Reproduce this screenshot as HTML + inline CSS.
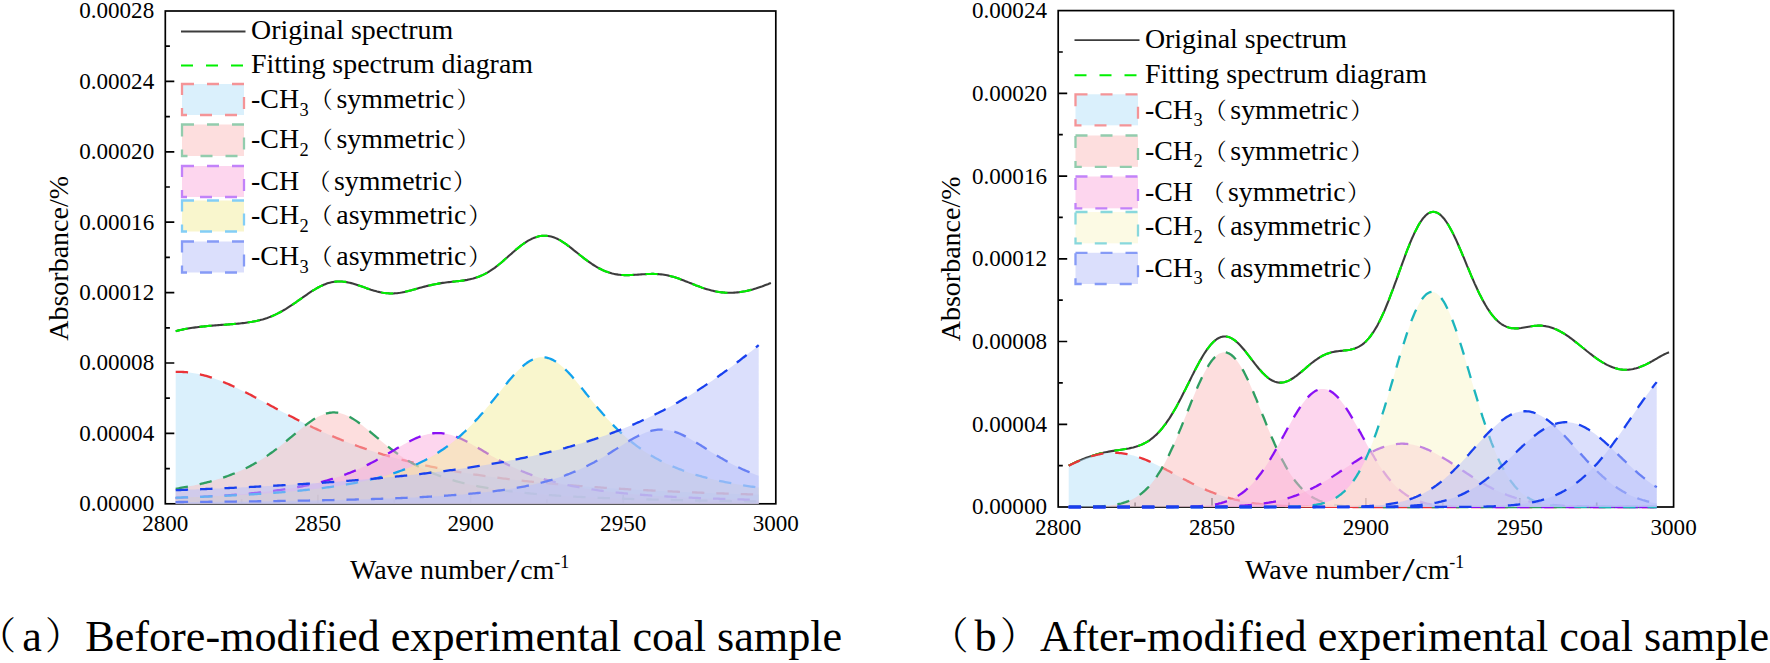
<!DOCTYPE html>
<html lang="en">
<head>
<meta charset="utf-8">
<title>FTIR peak fitting of coal samples</title>
<style>
html,body{margin:0;padding:0;background:#fff;}
body{width:1770px;height:663px;overflow:hidden;}
svg{display:block;}
</style>
</head>
<body>
<svg width="1770" height="663" viewBox="0 0 1770 663" font-family='"Liberation Serif", "Noto Serif CJK SC", serif' fill="#000">
<rect width="1770" height="663" fill="#fff"/>
<g id="chart-a"><g stroke="#000" stroke-width="1.7" fill="none" stroke-linecap="butt">
<rect x="165.3" y="11" width="610.5" height="492.8"/>
<path d="M165.3 468.6h4.6M165.3 433.4h9M165.3 398.2h4.6M165.3 363h9M165.3 327.8h4.6M165.3 292.6h9M165.3 257.4h4.6M165.3 222.2h9M165.3 187h4.6M165.3 151.8h9M165.3 116.6h4.6M165.3 81.4h9M165.3 46.2h4.6M241.6 503.8v-4.6M317.9 503.8v-9M394.2 503.8v-4.6M470.6 503.8v-9M546.9 503.8v-4.6M623.2 503.8v-9M699.5 503.8v-4.6"/>
</g>
<g font-size="23.1" fill="#000">
<text x="154.2" y="511.2" text-anchor="end">0.00000</text>
<text x="154.2" y="440.8" text-anchor="end">0.00004</text>
<text x="154.2" y="370.4" text-anchor="end">0.00008</text>
<text x="154.2" y="300" text-anchor="end">0.00012</text>
<text x="154.2" y="229.6" text-anchor="end">0.00016</text>
<text x="154.2" y="159.2" text-anchor="end">0.00020</text>
<text x="154.2" y="88.8" text-anchor="end">0.00024</text>
<text x="154.2" y="18.4" text-anchor="end">0.00028</text>
<text x="165.3" y="531" text-anchor="middle">2800</text>
<text x="317.9" y="531" text-anchor="middle">2850</text>
<text x="470.6" y="531" text-anchor="middle">2900</text>
<text x="623.2" y="531" text-anchor="middle">2950</text>
<text x="775.8" y="531" text-anchor="middle">3000</text>
</g>
<text transform="translate(67.7 258.4) rotate(-90)" text-anchor="middle" font-size="28">Absorbance/%</text>
<g font-size="28">
<text x="350" y="579.4">Wave number</text>
<text transform="translate(507.1 581.5) scale(1.3 1)" font-size="34.5">/</text>
<text x="520.2" y="579.4">cm</text>
<text x="554.2" y="567.9" font-size="17.9">-1</text>
</g>
<path d="M175.7 331.15L177.2 330.76L178.7 330.38L180.3 330.03L181.8 329.70L183.3 329.38L184.8 329.09L186.4 328.81L187.9 328.54L189.4 328.29L190.9 328.05L192.5 327.83L194 327.61L195.5 327.40L197 327.20L198.6 327.02L200.1 326.84L201.6 326.66L203.2 326.50L204.7 326.34L206.2 326.18L207.7 326.03L209.3 325.89L210.8 325.75L212.3 325.61L213.8 325.48L215.4 325.35L216.9 325.23L218.4 325.12L219.9 325.01L221.5 324.90L223 324.80L224.5 324.70L226 324.59L227.6 324.49L229.1 324.38L230.6 324.27L232.1 324.16L233.7 324.04L235.2 323.92L236.7 323.78L238.3 323.64L239.8 323.49L241.3 323.32L242.8 323.15L244.4 322.96L245.9 322.77L247.4 322.55L248.9 322.33L250.5 322.08L252 321.83L253.5 321.54L255 321.25L256.6 320.92L258.1 320.58L259.6 320.21L261.1 319.82L262.7 319.40L264.2 318.94L265.7 318.46L267.3 317.94L268.8 317.38L270.3 316.80L271.8 316.18L273.4 315.52L274.9 314.84L276.4 314.11L277.9 313.36L279.5 312.56L281 311.74L282.5 310.88L284 309.99L285.6 309.07L287.1 308.13L288.6 307.16L290.1 306.17L291.7 305.16L293.2 304.13L294.7 303.09L296.3 302.02L297.8 300.95L299.3 299.88L300.8 298.80L302.4 297.72L303.9 296.65L305.4 295.58L306.9 294.52L308.5 293.48L310 292.46L311.5 291.46L313 290.49L314.6 289.55L316.1 288.65L317.6 287.78L319.1 286.96L320.7 286.18L322.2 285.45L323.7 284.78L325.3 284.16L326.8 283.60L328.3 283.11L329.8 282.67L331.4 282.30L332.9 281.99L334.4 281.75L335.9 281.58L337.5 281.48L339 281.43L340.5 281.45L342 281.54L343.6 281.68L345.1 281.87L346.6 282.12L348.1 282.41L349.7 282.75L351.2 283.13L352.7 283.54L354.2 283.99L355.8 284.46L357.3 284.96L358.8 285.47L360.4 286.00L361.9 286.53L363.4 287.07L364.9 287.62L366.5 288.15L368 288.68L369.5 289.20L371 289.70L372.6 290.19L374.1 290.65L375.6 291.08L377.1 291.49L378.7 291.86L380.2 292.19L381.7 292.49L383.2 292.75L384.8 292.97L386.3 293.15L387.8 293.29L389.4 293.39L390.9 293.44L392.4 293.44L393.9 293.40L395.5 293.31L397 293.18L398.5 293.00L400 292.80L401.6 292.55L403.1 292.26L404.6 291.94L406.1 291.60L407.7 291.21L409.2 290.81L410.7 290.40L412.2 289.97L413.8 289.55L415.3 289.12L416.8 288.69L418.4 288.26L419.9 287.85L421.4 287.43L422.9 287.02L424.5 286.62L426 286.24L427.5 285.87L429 285.52L430.6 285.18L432.1 284.85L433.6 284.53L435.1 284.22L436.7 283.92L438.2 283.64L439.7 283.38L441.2 283.13L442.8 282.90L444.3 282.68L445.8 282.48L447.4 282.29L448.9 282.11L450.4 281.94L451.9 281.78L453.5 281.62L455 281.47L456.5 281.32L458 281.16L459.6 280.99L461.1 280.81L462.6 280.60L464.1 280.38L465.7 280.12L467.2 279.85L468.7 279.54L470.2 279.20L471.8 278.83L473.3 278.42L474.8 277.97L476.3 277.49L477.9 276.97L479.4 276.40L480.9 275.80L482.5 275.12L484 274.41L485.5 273.62L487 272.80L488.6 271.90L490.1 270.97L491.6 269.97L493.1 268.93L494.7 267.84L496.2 266.70L497.7 265.51L499.2 264.29L500.8 263.02L502.3 261.72L503.8 260.39L505.3 259.05L506.9 257.70L508.4 256.34L509.9 254.98L511.5 253.62L513 252.27L514.5 250.94L516 249.63L517.6 248.35L519.1 247.10L520.6 245.90L522.1 244.74L523.7 243.63L525.2 242.59L526.7 241.61L528.2 240.69L529.8 239.84L531.3 239.06L532.8 238.36L534.3 237.73L535.9 237.18L537.4 236.72L538.9 236.34L540.5 236.06L542 235.86L543.5 235.75L545 235.72L546.6 235.79L548.1 235.95L549.6 236.20L551.1 236.53L552.7 236.96L554.2 237.49L555.7 238.10L557.2 238.80L558.8 239.58L560.3 240.43L561.8 241.34L563.3 242.32L564.9 243.35L566.4 244.43L567.9 245.55L569.5 246.71L571 247.90L572.5 249.12L574 250.35L575.6 251.58L577.1 252.81L578.6 254.04L580.1 255.26L581.7 256.46L583.2 257.65L584.7 258.82L586.2 259.96L587.8 261.08L589.3 262.17L590.8 263.23L592.3 264.25L593.9 265.23L595.4 266.18L596.9 267.08L598.4 267.95L600 268.76L601.5 269.53L603 270.24L604.6 270.91L606.1 271.52L607.6 272.08L609.1 272.60L610.7 273.06L612.2 273.47L613.7 273.83L615.2 274.14L616.8 274.41L618.3 274.63L619.8 274.80L621.3 274.94L622.9 275.04L624.4 275.10L625.9 275.14L627.4 275.14L629 275.11L630.5 275.07L632 275.00L633.6 274.91L635.1 274.82L636.6 274.72L638.1 274.61L639.7 274.50L641.2 274.39L642.7 274.28L644.2 274.19L645.8 274.10L647.3 274.03L648.8 273.97L650.3 273.93L651.9 273.92L653.4 273.92L654.9 273.95L656.4 274.01L658 274.10L659.5 274.22L661 274.36L662.6 274.55L664.1 274.77L665.6 275.03L667.1 275.32L668.7 275.65L670.2 276.01L671.7 276.41L673.2 276.84L674.8 277.30L676.3 277.79L677.8 278.30L679.3 278.84L680.9 279.40L682.4 279.97L683.9 280.56L685.4 281.16L687 281.76L688.5 282.37L690 282.98L691.6 283.60L693.1 284.20L694.6 284.81L696.1 285.41L697.7 285.99L699.2 286.56L700.7 287.12L702.2 287.66L703.8 288.18L705.3 288.68L706.8 289.15L708.3 289.60L709.9 290.03L711.4 290.42L712.9 290.79L714.4 291.13L716 291.43L717.5 291.71L719 291.96L720.5 292.17L722.1 292.36L723.6 292.51L725.1 292.63L726.7 292.71L728.2 292.77L729.7 292.79L731.2 292.77L732.8 292.73L734.3 292.65L735.8 292.55L737.3 292.41L738.9 292.25L740.4 292.05L741.9 291.82L743.4 291.57L745 291.29L746.5 290.98L748 290.64L749.5 290.28L751.1 289.88L752.6 289.47L754.1 289.02L755.7 288.56L757.2 288.08L758.7 287.57L760.2 287.04L761.8 286.49L763.3 285.93L764.8 285.35L766.3 284.76L767.9 284.17L769.4 283.56L770.9 282.96" fill="none" stroke="#3c3c3c" stroke-width="2.1" stroke-linejoin="round"/>
<path d="M175.7 331.15L177.2 330.76L178.7 330.38L180.3 330.03L181.8 329.70L183.3 329.38L184.8 329.09L186.4 328.81L187.9 328.54L189.4 328.29L190.9 328.05L192.5 327.83L194 327.61L195.5 327.40L197 327.20L198.6 327.02L200.1 326.84L201.6 326.66L203.2 326.50L204.7 326.34L206.2 326.18L207.7 326.03L209.3 325.89L210.8 325.75L212.3 325.61L213.8 325.48L215.4 325.35L216.9 325.23L218.4 325.12L219.9 325.01L221.5 324.90L223 324.80L224.5 324.70L226 324.59L227.6 324.49L229.1 324.38L230.6 324.27L232.1 324.16L233.7 324.04L235.2 323.92L236.7 323.78L238.3 323.64L239.8 323.49L241.3 323.32L242.8 323.15L244.4 322.96L245.9 322.77L247.4 322.55L248.9 322.33L250.5 322.08L252 321.83L253.5 321.54L255 321.25L256.6 320.92L258.1 320.58L259.6 320.21L261.1 319.82L262.7 319.40L264.2 318.94L265.7 318.46L267.3 317.94L268.8 317.38L270.3 316.80L271.8 316.18L273.4 315.52L274.9 314.84L276.4 314.11L277.9 313.36L279.5 312.56L281 311.74L282.5 310.88L284 309.99L285.6 309.07L287.1 308.13L288.6 307.16L290.1 306.17L291.7 305.16L293.2 304.13L294.7 303.09L296.3 302.02L297.8 300.95L299.3 299.88L300.8 298.80L302.4 297.72L303.9 296.65L305.4 295.58L306.9 294.52L308.5 293.48L310 292.46L311.5 291.46L313 290.49L314.6 289.55L316.1 288.65L317.6 287.78L319.1 286.96L320.7 286.18L322.2 285.45L323.7 284.78L325.3 284.16L326.8 283.60L328.3 283.11L329.8 282.67L331.4 282.30L332.9 281.99L334.4 281.75L335.9 281.58L337.5 281.48L339 281.43L340.5 281.45L342 281.54L343.6 281.68L345.1 281.87L346.6 282.12L348.1 282.41L349.7 282.75L351.2 283.13L352.7 283.54L354.2 283.99L355.8 284.46L357.3 284.96L358.8 285.47L360.4 286.00L361.9 286.53L363.4 287.07L364.9 287.62L366.5 288.15L368 288.68L369.5 289.20L371 289.70L372.6 290.19L374.1 290.65L375.6 291.08L377.1 291.49L378.7 291.86L380.2 292.19L381.7 292.49L383.2 292.75L384.8 292.97L386.3 293.15L387.8 293.29L389.4 293.39L390.9 293.44L392.4 293.44L393.9 293.40L395.5 293.31L397 293.18L398.5 293.00L400 292.80L401.6 292.55L403.1 292.26L404.6 291.94L406.1 291.60L407.7 291.21L409.2 290.81L410.7 290.40L412.2 289.97L413.8 289.55L415.3 289.12L416.8 288.69L418.4 288.26L419.9 287.85L421.4 287.43L422.9 287.02L424.5 286.62L426 286.24L427.5 285.87L429 285.52L430.6 285.18L432.1 284.85L433.6 284.53L435.1 284.22L436.7 283.92L438.2 283.64L439.7 283.38L441.2 283.13L442.8 282.90L444.3 282.68L445.8 282.48L447.4 282.29L448.9 282.11L450.4 281.94L451.9 281.78L453.5 281.62L455 281.47L456.5 281.32L458 281.16L459.6 280.99L461.1 280.81L462.6 280.60L464.1 280.38L465.7 280.12L467.2 279.85L468.7 279.54L470.2 279.20L471.8 278.83L473.3 278.42L474.8 277.97L476.3 277.49L477.9 276.97L479.4 276.40L480.9 275.80L482.5 275.12L484 274.41L485.5 273.62L487 272.80L488.6 271.90L490.1 270.97L491.6 269.97L493.1 268.93L494.7 267.84L496.2 266.70L497.7 265.51L499.2 264.29L500.8 263.02L502.3 261.72L503.8 260.39L505.3 259.05L506.9 257.70L508.4 256.34L509.9 254.98L511.5 253.62L513 252.27L514.5 250.94L516 249.63L517.6 248.35L519.1 247.10L520.6 245.90L522.1 244.74L523.7 243.63L525.2 242.59L526.7 241.61L528.2 240.69L529.8 239.84L531.3 239.06L532.8 238.36L534.3 237.73L535.9 237.18L537.4 236.72L538.9 236.34L540.5 236.06L542 235.86L543.5 235.75L545 235.72L546.6 235.79L548.1 235.95L549.6 236.20L551.1 236.53L552.7 236.96L554.2 237.49L555.7 238.10L557.2 238.80L558.8 239.58L560.3 240.43L561.8 241.34L563.3 242.32L564.9 243.35L566.4 244.43L567.9 245.55L569.5 246.71L571 247.90L572.5 249.12L574 250.35L575.6 251.58L577.1 252.81L578.6 254.04L580.1 255.26L581.7 256.46L583.2 257.65L584.7 258.82L586.2 259.96L587.8 261.08L589.3 262.17L590.8 263.23L592.3 264.25L593.9 265.23L595.4 266.18L596.9 267.08L598.4 267.95L600 268.76L601.5 269.53L603 270.24L604.6 270.91L606.1 271.52L607.6 272.08L609.1 272.60L610.7 273.06L612.2 273.47L613.7 273.83L615.2 274.14L616.8 274.41L618.3 274.63L619.8 274.80L621.3 274.94L622.9 275.04L624.4 275.10L625.9 275.14L627.4 275.14L629 275.11L630.5 275.07L632 275.00L633.6 274.91L635.1 274.82L636.6 274.72L638.1 274.61L639.7 274.50L641.2 274.39L642.7 274.28L644.2 274.19L645.8 274.10L647.3 274.03L648.8 273.97L650.3 273.93L651.9 273.92L653.4 273.92L654.9 273.95L656.4 274.01L658 274.10L659.5 274.22L661 274.36L662.6 274.55L664.1 274.77L665.6 275.03L667.1 275.32L668.7 275.65L670.2 276.01L671.7 276.41L673.2 276.84L674.8 277.30L676.3 277.79L677.8 278.30L679.3 278.84L680.9 279.40L682.4 279.97L683.9 280.56L685.4 281.16L687 281.76L688.5 282.37L690 282.98L691.6 283.60L693.1 284.20L694.6 284.81L696.1 285.41L697.7 285.99L699.2 286.56L700.7 287.12L702.2 287.66L703.8 288.18L705.3 288.68L706.8 289.15L708.3 289.60L709.9 290.03L711.4 290.42L712.9 290.79L714.4 291.13L716 291.43L717.5 291.71L719 291.96L720.5 292.17L722.1 292.36L723.6 292.51L725.1 292.63L726.7 292.71L728.2 292.77L729.7 292.79L731.2 292.77L732.8 292.73L734.3 292.65L735.8 292.55L737.3 292.41L738.9 292.25L740.4 292.05L741.9 291.82L743.4 291.57L745 291.29L746.5 290.98L748 290.64L749.5 290.28L751.1 289.88L752.6 289.47L754.1 289.02L755.7 288.56L757.2 288.08L758.7 287.57" fill="none" stroke="#00f000" stroke-width="2.1" stroke-dasharray="12.2 12" stroke-linejoin="round"/>
<path d="M175.7 503.8L175.7 371.82L177.2 371.80L178.7 371.81L180.3 371.84L181.8 371.90L183.3 371.98L184.8 372.08L186.4 372.21L187.9 372.36L189.4 372.54L190.9 372.74L192.5 372.96L194 373.21L195.5 373.48L197 373.77L198.6 374.08L200.1 374.42L201.6 374.78L203.2 375.16L204.7 375.56L206.2 375.98L207.7 376.42L209.3 376.88L210.8 377.36L212.3 377.85L213.8 378.37L215.4 378.90L216.9 379.45L218.4 380.02L219.9 380.60L221.5 381.20L223 381.82L224.5 382.44L226 383.09L227.6 383.74L229.1 384.41L230.6 385.09L232.1 385.78L233.7 386.49L235.2 387.20L236.7 387.93L238.3 388.66L239.8 389.41L241.3 390.16L242.8 390.92L244.4 391.69L245.9 392.46L247.4 393.24L248.9 394.03L250.5 394.82L252 395.62L253.5 396.42L255 397.23L256.6 398.04L258.1 398.85L259.6 399.67L261.1 400.49L262.7 401.31L264.2 402.13L265.7 402.95L267.3 403.77L268.8 404.60L270.3 405.42L271.8 406.25L273.4 407.07L274.9 407.89L276.4 408.71L277.9 409.53L279.5 410.35L281 411.17L282.5 411.98L284 412.79L285.6 413.60L287.1 414.41L288.6 415.21L290.1 416.01L291.7 416.80L293.2 417.59L294.7 418.38L296.3 419.16L297.8 419.94L299.3 420.72L300.8 421.49L302.4 422.25L303.9 423.01L305.4 423.76L306.9 424.51L308.5 425.26L310 426.00L311.5 426.73L313 427.46L314.6 428.18L316.1 428.90L317.6 429.61L319.1 430.31L320.7 431.01L322.2 431.70L323.7 432.39L325.3 433.07L326.8 433.75L328.3 434.42L329.8 435.08L331.4 435.74L332.9 436.39L334.4 437.03L335.9 437.67L337.5 438.31L339 438.93L340.5 439.55L342 440.17L343.6 440.78L345.1 441.38L346.6 441.97L348.1 442.56L349.7 443.15L351.2 443.73L352.7 444.30L354.2 444.87L355.8 445.43L357.3 445.98L358.8 446.53L360.4 447.07L361.9 447.61L363.4 448.14L364.9 448.67L366.5 449.19L368 449.70L369.5 450.21L371 450.71L372.6 451.21L374.1 451.70L375.6 452.19L377.1 452.67L378.7 453.15L380.2 453.62L381.7 454.09L383.2 454.55L384.8 455.00L386.3 455.45L387.8 455.90L389.4 456.34L390.9 456.77L392.4 457.20L393.9 457.63L395.5 458.05L397 458.47L398.5 458.88L400 459.29L401.6 459.69L403.1 460.09L404.6 460.48L406.1 460.87L407.7 461.25L409.2 461.63L410.7 462.01L412.2 462.38L413.8 462.75L415.3 463.11L416.8 463.47L418.4 463.83L419.9 464.18L421.4 464.53L422.9 464.87L424.5 465.21L426 465.54L427.5 465.88L429 466.20L430.6 466.53L432.1 466.85L433.6 467.17L435.1 467.48L436.7 467.79L438.2 468.10L439.7 468.40L441.2 468.70L442.8 469.00L444.3 469.29L445.8 469.58L447.4 469.87L448.9 470.15L450.4 470.43L451.9 470.71L453.5 470.98L455 471.25L456.5 471.52L458 471.79L459.6 472.05L461.1 472.31L462.6 472.57L464.1 472.82L465.7 473.07L467.2 473.32L468.7 473.57L470.2 473.81L471.8 474.05L473.3 474.29L474.8 474.52L476.3 474.75L477.9 474.98L479.4 475.21L480.9 475.44L482.5 475.66L484 475.88L485.5 476.10L487 476.31L488.6 476.53L490.1 476.74L491.6 476.95L493.1 477.15L494.7 477.36L496.2 477.56L497.7 477.76L499.2 477.96L500.8 478.16L502.3 478.35L503.8 478.54L505.3 478.73L506.9 478.92L508.4 479.11L509.9 479.29L511.5 479.47L513 479.65L514.5 479.83L516 480.01L517.6 480.18L519.1 480.36L520.6 480.53L522.1 480.70L523.7 480.87L525.2 481.03L526.7 481.20L528.2 481.36L529.8 481.52L531.3 481.68L532.8 481.84L534.3 482.00L535.9 482.15L537.4 482.30L538.9 482.46L540.5 482.61L542 482.76L543.5 482.90L545 483.05L546.6 483.19L548.1 483.34L549.6 483.48L551.1 483.62L552.7 483.76L554.2 483.89L555.7 484.03L557.2 484.17L558.8 484.30L560.3 484.43L561.8 484.56L563.3 484.69L564.9 484.82L566.4 484.95L567.9 485.08L569.5 485.20L571 485.32L572.5 485.45L574 485.57L575.6 485.69L577.1 485.81L578.6 485.93L580.1 486.04L581.7 486.16L583.2 486.27L584.7 486.39L586.2 486.50L587.8 486.61L589.3 486.72L590.8 486.83L592.3 486.94L593.9 487.05L595.4 487.16L596.9 487.26L598.4 487.37L600 487.47L601.5 487.57L603 487.68L604.6 487.78L606.1 487.88L607.6 487.98L609.1 488.07L610.7 488.17L612.2 488.27L613.7 488.36L615.2 488.46L616.8 488.55L618.3 488.65L619.8 488.74L621.3 488.83L622.9 488.92L624.4 489.01L625.9 489.10L627.4 489.19L629 489.28L630.5 489.36L632 489.45L633.6 489.54L635.1 489.62L636.6 489.71L638.1 489.79L639.7 489.87L641.2 489.95L642.7 490.03L644.2 490.12L645.8 490.20L647.3 490.27L648.8 490.35L650.3 490.43L651.9 490.51L653.4 490.58L654.9 490.66L656.4 490.74L658 490.81L659.5 490.88L661 490.96L662.6 491.03L664.1 491.10L665.6 491.18L667.1 491.25L668.7 491.32L670.2 491.39L671.7 491.46L673.2 491.53L674.8 491.59L676.3 491.66L677.8 491.73L679.3 491.79L680.9 491.86L682.4 491.93L683.9 491.99L685.4 492.06L687 492.12L688.5 492.18L690 492.25L691.6 492.31L693.1 492.37L694.6 492.43L696.1 492.49L697.7 492.55L699.2 492.61L700.7 492.67L702.2 492.73L703.8 492.79L705.3 492.85L706.8 492.91L708.3 492.97L709.9 493.02L711.4 493.08L712.9 493.14L714.4 493.19L716 493.25L717.5 493.30L719 493.36L720.5 493.41L722.1 493.46L723.6 493.52L725.1 493.57L726.7 493.62L728.2 493.67L729.7 493.73L731.2 493.78L732.8 493.83L734.3 493.88L735.8 493.93L737.3 493.98L738.9 494.03L740.4 494.08L741.9 494.13L743.4 494.17L745 494.22L746.5 494.27L748 494.32L749.5 494.36L751.1 494.41L752.6 494.46L754.1 494.50L755.7 494.55L757.2 494.59L758.7 494.64L758.7 503.8Z" fill="rgb(181,225,249)" fill-opacity="0.5" stroke="none"/>
<path d="M175.7 371.82L177.2 371.80L178.7 371.81L180.3 371.84L181.8 371.90L183.3 371.98L184.8 372.08L186.4 372.21L187.9 372.36L189.4 372.54L190.9 372.74L192.5 372.96L194 373.21L195.5 373.48L197 373.77L198.6 374.08L200.1 374.42L201.6 374.78L203.2 375.16L204.7 375.56L206.2 375.98L207.7 376.42L209.3 376.88L210.8 377.36L212.3 377.85L213.8 378.37L215.4 378.90L216.9 379.45L218.4 380.02L219.9 380.60L221.5 381.20L223 381.82L224.5 382.44L226 383.09L227.6 383.74L229.1 384.41L230.6 385.09L232.1 385.78L233.7 386.49L235.2 387.20L236.7 387.93L238.3 388.66L239.8 389.41L241.3 390.16L242.8 390.92L244.4 391.69L245.9 392.46L247.4 393.24L248.9 394.03L250.5 394.82L252 395.62L253.5 396.42L255 397.23L256.6 398.04L258.1 398.85L259.6 399.67L261.1 400.49L262.7 401.31L264.2 402.13L265.7 402.95L267.3 403.77L268.8 404.60L270.3 405.42L271.8 406.25L273.4 407.07L274.9 407.89L276.4 408.71L277.9 409.53L279.5 410.35L281 411.17L282.5 411.98L284 412.79L285.6 413.60L287.1 414.41L288.6 415.21L290.1 416.01L291.7 416.80L293.2 417.59L294.7 418.38L296.3 419.16L297.8 419.94L299.3 420.72L300.8 421.49L302.4 422.25L303.9 423.01L305.4 423.76L306.9 424.51L308.5 425.26L310 426.00L311.5 426.73L313 427.46L314.6 428.18L316.1 428.90L317.6 429.61L319.1 430.31L320.7 431.01L322.2 431.70L323.7 432.39L325.3 433.07L326.8 433.75L328.3 434.42L329.8 435.08L331.4 435.74L332.9 436.39L334.4 437.03L335.9 437.67L337.5 438.31L339 438.93L340.5 439.55L342 440.17L343.6 440.78L345.1 441.38L346.6 441.97L348.1 442.56L349.7 443.15L351.2 443.73L352.7 444.30L354.2 444.87L355.8 445.43L357.3 445.98L358.8 446.53L360.4 447.07L361.9 447.61L363.4 448.14L364.9 448.67L366.5 449.19L368 449.70L369.5 450.21L371 450.71L372.6 451.21L374.1 451.70L375.6 452.19L377.1 452.67L378.7 453.15L380.2 453.62L381.7 454.09L383.2 454.55L384.8 455.00L386.3 455.45L387.8 455.90L389.4 456.34L390.9 456.77L392.4 457.20L393.9 457.63L395.5 458.05L397 458.47L398.5 458.88L400 459.29L401.6 459.69L403.1 460.09L404.6 460.48L406.1 460.87L407.7 461.25L409.2 461.63L410.7 462.01L412.2 462.38L413.8 462.75L415.3 463.11L416.8 463.47L418.4 463.83L419.9 464.18L421.4 464.53L422.9 464.87L424.5 465.21L426 465.54L427.5 465.88L429 466.20L430.6 466.53L432.1 466.85L433.6 467.17L435.1 467.48L436.7 467.79L438.2 468.10L439.7 468.40L441.2 468.70L442.8 469.00L444.3 469.29L445.8 469.58L447.4 469.87L448.9 470.15L450.4 470.43L451.9 470.71L453.5 470.98L455 471.25L456.5 471.52L458 471.79L459.6 472.05L461.1 472.31L462.6 472.57L464.1 472.82L465.7 473.07L467.2 473.32L468.7 473.57L470.2 473.81L471.8 474.05L473.3 474.29L474.8 474.52L476.3 474.75L477.9 474.98L479.4 475.21L480.9 475.44L482.5 475.66L484 475.88L485.5 476.10L487 476.31L488.6 476.53L490.1 476.74L491.6 476.95L493.1 477.15L494.7 477.36L496.2 477.56L497.7 477.76L499.2 477.96L500.8 478.16L502.3 478.35L503.8 478.54L505.3 478.73L506.9 478.92L508.4 479.11L509.9 479.29L511.5 479.47L513 479.65L514.5 479.83L516 480.01L517.6 480.18L519.1 480.36L520.6 480.53L522.1 480.70L523.7 480.87L525.2 481.03L526.7 481.20L528.2 481.36L529.8 481.52L531.3 481.68L532.8 481.84L534.3 482.00L535.9 482.15L537.4 482.30L538.9 482.46L540.5 482.61L542 482.76L543.5 482.90L545 483.05L546.6 483.19L548.1 483.34L549.6 483.48L551.1 483.62L552.7 483.76L554.2 483.89L555.7 484.03L557.2 484.17L558.8 484.30L560.3 484.43L561.8 484.56L563.3 484.69L564.9 484.82L566.4 484.95L567.9 485.08L569.5 485.20L571 485.32L572.5 485.45L574 485.57L575.6 485.69L577.1 485.81L578.6 485.93L580.1 486.04L581.7 486.16L583.2 486.27L584.7 486.39L586.2 486.50L587.8 486.61L589.3 486.72L590.8 486.83L592.3 486.94L593.9 487.05L595.4 487.16L596.9 487.26L598.4 487.37L600 487.47L601.5 487.57L603 487.68L604.6 487.78L606.1 487.88L607.6 487.98L609.1 488.07L610.7 488.17L612.2 488.27L613.7 488.36L615.2 488.46L616.8 488.55L618.3 488.65L619.8 488.74L621.3 488.83L622.9 488.92L624.4 489.01L625.9 489.10L627.4 489.19L629 489.28L630.5 489.36L632 489.45L633.6 489.54L635.1 489.62L636.6 489.71L638.1 489.79L639.7 489.87L641.2 489.95L642.7 490.03L644.2 490.12L645.8 490.20L647.3 490.27L648.8 490.35L650.3 490.43L651.9 490.51L653.4 490.58L654.9 490.66L656.4 490.74L658 490.81L659.5 490.88L661 490.96L662.6 491.03L664.1 491.10L665.6 491.18L667.1 491.25L668.7 491.32L670.2 491.39L671.7 491.46L673.2 491.53L674.8 491.59L676.3 491.66L677.8 491.73L679.3 491.79L680.9 491.86L682.4 491.93L683.9 491.99L685.4 492.06L687 492.12L688.5 492.18L690 492.25L691.6 492.31L693.1 492.37L694.6 492.43L696.1 492.49L697.7 492.55L699.2 492.61L700.7 492.67L702.2 492.73L703.8 492.79L705.3 492.85L706.8 492.91L708.3 492.97L709.9 493.02L711.4 493.08L712.9 493.14L714.4 493.19L716 493.25L717.5 493.30L719 493.36L720.5 493.41L722.1 493.46L723.6 493.52L725.1 493.57L726.7 493.62L728.2 493.67L729.7 493.73L731.2 493.78L732.8 493.83L734.3 493.88L735.8 493.93L737.3 493.98L738.9 494.03L740.4 494.08L741.9 494.13L743.4 494.17L745 494.22L746.5 494.27L748 494.32L749.5 494.36L751.1 494.41L752.6 494.46L754.1 494.50L755.7 494.55L757.2 494.59L758.7 494.64" fill="none" stroke="#ea3338" stroke-width="2.3" stroke-dasharray="12.4 12" stroke-linejoin="round"/>
<path d="M175.7 503.8L175.7 488.76L177.2 488.51L178.7 488.26L180.3 488.00L181.8 487.74L183.3 487.47L184.8 487.20L186.4 486.92L187.9 486.63L189.4 486.33L190.9 486.03L192.5 485.72L194 485.40L195.5 485.08L197 484.75L198.6 484.41L200.1 484.06L201.6 483.70L203.2 483.33L204.7 482.96L206.2 482.57L207.7 482.18L209.3 481.77L210.8 481.36L212.3 480.93L213.8 480.50L215.4 480.05L216.9 479.59L218.4 479.12L219.9 478.64L221.5 478.14L223 477.63L224.5 477.11L226 476.58L227.6 476.03L229.1 475.47L230.6 474.89L232.1 474.30L233.7 473.69L235.2 473.07L236.7 472.43L238.3 471.77L239.8 471.10L241.3 470.41L242.8 469.70L244.4 468.97L245.9 468.23L247.4 467.47L248.9 466.68L250.5 465.88L252 465.06L253.5 464.22L255 463.35L256.6 462.47L258.1 461.56L259.6 460.64L261.1 459.69L262.7 458.72L264.2 457.73L265.7 456.72L267.3 455.68L268.8 454.63L270.3 453.55L271.8 452.45L273.4 451.34L274.9 450.20L276.4 449.04L277.9 447.87L279.5 446.67L281 445.46L282.5 444.24L284 443.00L285.6 441.74L287.1 440.48L288.6 439.20L290.1 437.92L291.7 436.64L293.2 435.35L294.7 434.06L296.3 432.77L297.8 431.49L299.3 430.22L300.8 428.96L302.4 427.71L303.9 426.49L305.4 425.29L306.9 424.12L308.5 422.98L310 421.88L311.5 420.82L313 419.80L314.6 418.83L316.1 417.92L317.6 417.06L319.1 416.27L320.7 415.54L322.2 414.88L323.7 414.30L325.3 413.79L326.8 413.36L328.3 413.01L329.8 412.75L331.4 412.57L332.9 412.47L334.4 412.46L335.9 412.54L337.5 412.70L339 412.95L340.5 413.28L342 413.70L343.6 414.19L345.1 414.76L346.6 415.40L348.1 416.12L349.7 416.90L351.2 417.74L352.7 418.64L354.2 419.60L355.8 420.61L357.3 421.66L358.8 422.76L360.4 423.89L361.9 425.06L363.4 426.25L364.9 427.47L366.5 428.71L368 429.96L369.5 431.23L371 432.51L372.6 433.80L374.1 435.09L375.6 436.38L377.1 437.66L378.7 438.95L380.2 440.22L381.7 441.49L383.2 442.75L384.8 443.99L386.3 445.22L387.8 446.43L389.4 447.63L390.9 448.81L392.4 449.97L393.9 451.11L395.5 452.23L397 453.33L398.5 454.41L400 455.47L401.6 456.51L403.1 457.53L404.6 458.52L406.1 459.50L407.7 460.45L409.2 461.38L410.7 462.29L412.2 463.18L413.8 464.04L415.3 464.89L416.8 465.72L418.4 466.52L419.9 467.31L421.4 468.08L422.9 468.83L424.5 469.56L426 470.27L427.5 470.96L429 471.64L430.6 472.30L432.1 472.94L433.6 473.57L435.1 474.18L436.7 474.77L438.2 475.35L439.7 475.92L441.2 476.47L442.8 477.01L444.3 477.53L445.8 478.04L447.4 478.54L448.9 479.02L450.4 479.50L451.9 479.96L453.5 480.41L455 480.85L456.5 481.27L458 481.69L459.6 482.10L461.1 482.49L462.6 482.88L464.1 483.26L465.7 483.63L467.2 483.99L468.7 484.34L470.2 484.68L471.8 485.01L473.3 485.34L474.8 485.66L476.3 485.97L477.9 486.27L479.4 486.57L480.9 486.86L482.5 487.14L484 487.42L485.5 487.69L487 487.95L488.6 488.21L490.1 488.46L491.6 488.71L493.1 488.95L494.7 489.19L496.2 489.42L497.7 489.64L499.2 489.86L500.8 490.08L502.3 490.29L503.8 490.49L505.3 490.70L506.9 490.89L508.4 491.09L509.9 491.28L511.5 491.46L513 491.64L514.5 491.82L516 491.99L517.6 492.16L519.1 492.33L520.6 492.50L522.1 492.66L523.7 492.81L525.2 492.97L526.7 493.12L528.2 493.26L529.8 493.41L531.3 493.55L532.8 493.69L534.3 493.83L535.9 493.96L537.4 494.09L538.9 494.22L540.5 494.35L542 494.47L543.5 494.59L545 494.71L546.6 494.83L548.1 494.95L549.6 495.06L551.1 495.17L552.7 495.28L554.2 495.38L555.7 495.49L557.2 495.59L558.8 495.69L560.3 495.79L561.8 495.89L563.3 495.99L564.9 496.08L566.4 496.17L567.9 496.26L569.5 496.35L571 496.44L572.5 496.53L574 496.61L575.6 496.70L577.1 496.78L578.6 496.86L580.1 496.94L581.7 497.02L583.2 497.09L584.7 497.17L586.2 497.24L587.8 497.32L589.3 497.39L590.8 497.46L592.3 497.53L593.9 497.60L595.4 497.66L596.9 497.73L598.4 497.79L600 497.86L601.5 497.92L603 497.98L604.6 498.05L606.1 498.11L607.6 498.16L609.1 498.22L610.7 498.28L612.2 498.34L613.7 498.39L615.2 498.45L616.8 498.50L618.3 498.56L619.8 498.61L621.3 498.66L622.9 498.71L624.4 498.76L625.9 498.81L627.4 498.86L629 498.91L630.5 498.96L632 499.00L633.6 499.05L635.1 499.10L636.6 499.14L638.1 499.18L639.7 499.23L641.2 499.27L642.7 499.31L644.2 499.36L645.8 499.40L647.3 499.44L648.8 499.48L650.3 499.52L651.9 499.56L653.4 499.59L654.9 499.63L656.4 499.67L658 499.71L659.5 499.74L661 499.78L662.6 499.82L664.1 499.85L665.6 499.89L667.1 499.92L668.7 499.95L670.2 499.99L671.7 500.02L673.2 500.05L674.8 500.08L676.3 500.12L677.8 500.15L679.3 500.18L680.9 500.21L682.4 500.24L683.9 500.27L685.4 500.30L687 500.33L688.5 500.36L690 500.38L691.6 500.41L693.1 500.44L694.6 500.47L696.1 500.49L697.7 500.52L699.2 500.55L700.7 500.57L702.2 500.60L703.8 500.62L705.3 500.65L706.8 500.67L708.3 500.70L709.9 500.72L711.4 500.75L712.9 500.77L714.4 500.79L716 500.82L717.5 500.84L719 500.86L720.5 500.89L722.1 500.91L723.6 500.93L725.1 500.95L726.7 500.97L728.2 500.99L729.7 501.02L731.2 501.04L732.8 501.06L734.3 501.08L735.8 501.10L737.3 501.12L738.9 501.14L740.4 501.16L741.9 501.17L743.4 501.19L745 501.21L746.5 501.23L748 501.25L749.5 501.27L751.1 501.29L752.6 501.30L754.1 501.32L755.7 501.34L757.2 501.36L758.7 501.37L758.7 503.8Z" fill="rgb(251,189,189)" fill-opacity="0.5" stroke="none"/>
<path d="M175.7 488.76L177.2 488.51L178.7 488.26L180.3 488.00L181.8 487.74L183.3 487.47L184.8 487.20L186.4 486.92L187.9 486.63L189.4 486.33L190.9 486.03L192.5 485.72L194 485.40L195.5 485.08L197 484.75L198.6 484.41L200.1 484.06L201.6 483.70L203.2 483.33L204.7 482.96L206.2 482.57L207.7 482.18L209.3 481.77L210.8 481.36L212.3 480.93L213.8 480.50L215.4 480.05L216.9 479.59L218.4 479.12L219.9 478.64L221.5 478.14L223 477.63L224.5 477.11L226 476.58L227.6 476.03L229.1 475.47L230.6 474.89L232.1 474.30L233.7 473.69L235.2 473.07L236.7 472.43L238.3 471.77L239.8 471.10L241.3 470.41L242.8 469.70L244.4 468.97L245.9 468.23L247.4 467.47L248.9 466.68L250.5 465.88L252 465.06L253.5 464.22L255 463.35L256.6 462.47L258.1 461.56L259.6 460.64L261.1 459.69L262.7 458.72L264.2 457.73L265.7 456.72L267.3 455.68L268.8 454.63L270.3 453.55L271.8 452.45L273.4 451.34L274.9 450.20L276.4 449.04L277.9 447.87L279.5 446.67L281 445.46L282.5 444.24L284 443.00L285.6 441.74L287.1 440.48L288.6 439.20L290.1 437.92L291.7 436.64L293.2 435.35L294.7 434.06L296.3 432.77L297.8 431.49L299.3 430.22L300.8 428.96L302.4 427.71L303.9 426.49L305.4 425.29L306.9 424.12L308.5 422.98L310 421.88L311.5 420.82L313 419.80L314.6 418.83L316.1 417.92L317.6 417.06L319.1 416.27L320.7 415.54L322.2 414.88L323.7 414.30L325.3 413.79L326.8 413.36L328.3 413.01L329.8 412.75L331.4 412.57L332.9 412.47L334.4 412.46L335.9 412.54L337.5 412.70L339 412.95L340.5 413.28L342 413.70L343.6 414.19L345.1 414.76L346.6 415.40L348.1 416.12L349.7 416.90L351.2 417.74L352.7 418.64L354.2 419.60L355.8 420.61L357.3 421.66L358.8 422.76L360.4 423.89L361.9 425.06L363.4 426.25L364.9 427.47L366.5 428.71L368 429.96L369.5 431.23L371 432.51L372.6 433.80L374.1 435.09L375.6 436.38L377.1 437.66L378.7 438.95L380.2 440.22L381.7 441.49L383.2 442.75L384.8 443.99L386.3 445.22L387.8 446.43L389.4 447.63L390.9 448.81L392.4 449.97L393.9 451.11L395.5 452.23L397 453.33L398.5 454.41L400 455.47L401.6 456.51L403.1 457.53L404.6 458.52L406.1 459.50L407.7 460.45L409.2 461.38L410.7 462.29L412.2 463.18L413.8 464.04L415.3 464.89L416.8 465.72L418.4 466.52L419.9 467.31L421.4 468.08L422.9 468.83L424.5 469.56L426 470.27L427.5 470.96L429 471.64L430.6 472.30L432.1 472.94L433.6 473.57L435.1 474.18L436.7 474.77L438.2 475.35L439.7 475.92L441.2 476.47L442.8 477.01L444.3 477.53L445.8 478.04L447.4 478.54L448.9 479.02L450.4 479.50L451.9 479.96L453.5 480.41L455 480.85L456.5 481.27L458 481.69L459.6 482.10L461.1 482.49L462.6 482.88L464.1 483.26L465.7 483.63L467.2 483.99L468.7 484.34L470.2 484.68L471.8 485.01L473.3 485.34L474.8 485.66L476.3 485.97L477.9 486.27L479.4 486.57L480.9 486.86L482.5 487.14L484 487.42L485.5 487.69L487 487.95L488.6 488.21L490.1 488.46L491.6 488.71L493.1 488.95L494.7 489.19L496.2 489.42L497.7 489.64L499.2 489.86L500.8 490.08L502.3 490.29L503.8 490.49L505.3 490.70L506.9 490.89L508.4 491.09L509.9 491.28L511.5 491.46L513 491.64L514.5 491.82L516 491.99L517.6 492.16L519.1 492.33L520.6 492.50L522.1 492.66L523.7 492.81L525.2 492.97L526.7 493.12L528.2 493.26L529.8 493.41L531.3 493.55L532.8 493.69L534.3 493.83L535.9 493.96L537.4 494.09L538.9 494.22L540.5 494.35L542 494.47L543.5 494.59L545 494.71L546.6 494.83L548.1 494.95L549.6 495.06L551.1 495.17L552.7 495.28L554.2 495.38L555.7 495.49L557.2 495.59L558.8 495.69L560.3 495.79L561.8 495.89L563.3 495.99L564.9 496.08L566.4 496.17L567.9 496.26L569.5 496.35L571 496.44L572.5 496.53L574 496.61L575.6 496.70L577.1 496.78L578.6 496.86L580.1 496.94L581.7 497.02L583.2 497.09L584.7 497.17L586.2 497.24L587.8 497.32L589.3 497.39L590.8 497.46L592.3 497.53L593.9 497.60L595.4 497.66L596.9 497.73L598.4 497.79L600 497.86L601.5 497.92L603 497.98L604.6 498.05L606.1 498.11L607.6 498.16L609.1 498.22L610.7 498.28L612.2 498.34L613.7 498.39L615.2 498.45L616.8 498.50L618.3 498.56L619.8 498.61L621.3 498.66L622.9 498.71L624.4 498.76L625.9 498.81L627.4 498.86L629 498.91L630.5 498.96L632 499.00L633.6 499.05L635.1 499.10L636.6 499.14L638.1 499.18L639.7 499.23L641.2 499.27L642.7 499.31L644.2 499.36L645.8 499.40L647.3 499.44L648.8 499.48L650.3 499.52L651.9 499.56L653.4 499.59L654.9 499.63L656.4 499.67L658 499.71L659.5 499.74L661 499.78L662.6 499.82L664.1 499.85L665.6 499.89L667.1 499.92L668.7 499.95L670.2 499.99L671.7 500.02L673.2 500.05L674.8 500.08L676.3 500.12L677.8 500.15L679.3 500.18L680.9 500.21L682.4 500.24L683.9 500.27L685.4 500.30L687 500.33L688.5 500.36L690 500.38L691.6 500.41L693.1 500.44L694.6 500.47L696.1 500.49L697.7 500.52L699.2 500.55L700.7 500.57L702.2 500.60L703.8 500.62L705.3 500.65L706.8 500.67L708.3 500.70L709.9 500.72L711.4 500.75L712.9 500.77L714.4 500.79L716 500.82L717.5 500.84L719 500.86L720.5 500.89L722.1 500.91L723.6 500.93L725.1 500.95L726.7 500.97L728.2 500.99L729.7 501.02L731.2 501.04L732.8 501.06L734.3 501.08L735.8 501.10L737.3 501.12L738.9 501.14L740.4 501.16L741.9 501.17L743.4 501.19L745 501.21L746.5 501.23L748 501.25L749.5 501.27L751.1 501.29L752.6 501.30L754.1 501.32L755.7 501.34L757.2 501.36L758.7 501.37" fill="none" stroke="#2f9e62" stroke-width="2.3" stroke-dasharray="12.4 12" stroke-linejoin="round"/>
<path d="M175.7 503.8L175.7 498.07L177.2 498.01L178.7 497.95L180.3 497.88L181.8 497.82L183.3 497.75L184.8 497.68L186.4 497.62L187.9 497.55L189.4 497.48L190.9 497.41L192.5 497.33L194 497.26L195.5 497.18L197 497.11L198.6 497.03L200.1 496.95L201.6 496.87L203.2 496.79L204.7 496.71L206.2 496.62L207.7 496.54L209.3 496.45L210.8 496.36L212.3 496.27L213.8 496.18L215.4 496.09L216.9 495.99L218.4 495.89L219.9 495.80L221.5 495.70L223 495.59L224.5 495.49L226 495.38L227.6 495.28L229.1 495.17L230.6 495.05L232.1 494.94L233.7 494.82L235.2 494.71L236.7 494.59L238.3 494.46L239.8 494.34L241.3 494.21L242.8 494.08L244.4 493.95L245.9 493.81L247.4 493.68L248.9 493.53L250.5 493.39L252 493.25L253.5 493.10L255 492.94L256.6 492.79L258.1 492.63L259.6 492.47L261.1 492.31L262.7 492.14L264.2 491.97L265.7 491.79L267.3 491.61L268.8 491.43L270.3 491.24L271.8 491.05L273.4 490.86L274.9 490.66L276.4 490.46L277.9 490.25L279.5 490.04L281 489.83L282.5 489.61L284 489.38L285.6 489.15L287.1 488.91L288.6 488.67L290.1 488.43L291.7 488.18L293.2 487.92L294.7 487.66L296.3 487.39L297.8 487.11L299.3 486.83L300.8 486.54L302.4 486.25L303.9 485.95L305.4 485.64L306.9 485.33L308.5 485.01L310 484.68L311.5 484.34L313 484.00L314.6 483.64L316.1 483.28L317.6 482.91L319.1 482.53L320.7 482.15L322.2 481.75L323.7 481.35L325.3 480.93L326.8 480.51L328.3 480.07L329.8 479.63L331.4 479.17L332.9 478.71L334.4 478.23L335.9 477.75L337.5 477.25L339 476.74L340.5 476.22L342 475.68L343.6 475.14L345.1 474.58L346.6 474.01L348.1 473.42L349.7 472.83L351.2 472.22L352.7 471.60L354.2 470.96L355.8 470.31L357.3 469.65L358.8 468.97L360.4 468.28L361.9 467.58L363.4 466.87L364.9 466.13L366.5 465.39L368 464.63L369.5 463.86L371 463.08L372.6 462.29L374.1 461.48L375.6 460.66L377.1 459.83L378.7 458.99L380.2 458.13L381.7 457.27L383.2 456.40L384.8 455.53L386.3 454.64L387.8 453.75L389.4 452.85L390.9 451.96L392.4 451.06L393.9 450.16L395.5 449.26L397 448.36L398.5 447.47L400 446.58L401.6 445.70L403.1 444.83L404.6 443.98L406.1 443.14L407.7 442.32L409.2 441.51L410.7 440.73L412.2 439.97L413.8 439.24L415.3 438.54L416.8 437.87L418.4 437.24L419.9 436.64L421.4 436.08L422.9 435.57L424.5 435.09L426 434.67L427.5 434.28L429 433.95L430.6 433.67L432.1 433.44L433.6 433.26L435.1 433.14L436.7 433.07L438.2 433.05L439.7 433.09L441.2 433.18L442.8 433.33L444.3 433.52L445.8 433.78L447.4 434.08L448.9 434.43L450.4 434.83L451.9 435.28L453.5 435.77L455 436.30L456.5 436.88L458 437.49L459.6 438.14L461.1 438.82L462.6 439.53L464.1 440.27L465.7 441.04L467.2 441.83L468.7 442.64L470.2 443.47L471.8 444.32L473.3 445.18L474.8 446.05L476.3 446.93L477.9 447.82L479.4 448.72L480.9 449.61L482.5 450.52L484 451.42L485.5 452.32L487 453.21L488.6 454.11L490.1 455.00L491.6 455.88L493.1 456.75L494.7 457.62L496.2 458.48L497.7 459.32L499.2 460.16L500.8 460.99L502.3 461.80L503.8 462.61L505.3 463.40L506.9 464.17L508.4 464.94L509.9 465.69L511.5 466.43L513 467.15L514.5 467.86L516 468.56L517.6 469.25L519.1 469.92L520.6 470.57L522.1 471.22L523.7 471.85L525.2 472.46L526.7 473.07L528.2 473.66L529.8 474.24L531.3 474.80L532.8 475.36L534.3 475.90L535.9 476.43L537.4 476.94L538.9 477.45L540.5 477.94L542 478.42L543.5 478.90L545 479.36L546.6 479.81L548.1 480.25L549.6 480.68L551.1 481.10L552.7 481.51L554.2 481.91L555.7 482.30L557.2 482.69L558.8 483.06L560.3 483.43L561.8 483.79L563.3 484.13L564.9 484.48L566.4 484.81L567.9 485.14L569.5 485.46L571 485.77L572.5 486.07L574 486.37L575.6 486.66L577.1 486.95L578.6 487.22L580.1 487.50L581.7 487.76L583.2 488.02L584.7 488.28L586.2 488.53L587.8 488.77L589.3 489.01L590.8 489.24L592.3 489.47L593.9 489.69L595.4 489.91L596.9 490.13L598.4 490.34L600 490.54L601.5 490.74L603 490.94L604.6 491.13L606.1 491.32L607.6 491.50L609.1 491.68L610.7 491.86L612.2 492.04L613.7 492.21L615.2 492.37L616.8 492.54L618.3 492.70L619.8 492.85L621.3 493.01L622.9 493.16L624.4 493.30L625.9 493.45L627.4 493.59L629 493.73L630.5 493.87L632 494.00L633.6 494.13L635.1 494.26L636.6 494.39L638.1 494.51L639.7 494.63L641.2 494.75L642.7 494.87L644.2 494.99L645.8 495.10L647.3 495.21L648.8 495.32L650.3 495.43L651.9 495.53L653.4 495.64L654.9 495.74L656.4 495.84L658 495.93L659.5 496.03L661 496.12L662.6 496.22L664.1 496.31L665.6 496.40L667.1 496.49L668.7 496.57L670.2 496.66L671.7 496.74L673.2 496.82L674.8 496.90L676.3 496.98L677.8 497.06L679.3 497.14L680.9 497.21L682.4 497.29L683.9 497.36L685.4 497.43L687 497.51L688.5 497.58L690 497.64L691.6 497.71L693.1 497.78L694.6 497.84L696.1 497.91L697.7 497.97L699.2 498.03L700.7 498.09L702.2 498.15L703.8 498.21L705.3 498.27L706.8 498.33L708.3 498.39L709.9 498.44L711.4 498.50L712.9 498.55L714.4 498.61L716 498.66L717.5 498.71L719 498.76L720.5 498.81L722.1 498.86L723.6 498.91L725.1 498.96L726.7 499.01L728.2 499.05L729.7 499.10L731.2 499.15L732.8 499.19L734.3 499.24L735.8 499.28L737.3 499.32L738.9 499.36L740.4 499.41L741.9 499.45L743.4 499.49L745 499.53L746.5 499.57L748 499.61L749.5 499.65L751.1 499.68L752.6 499.72L754.1 499.76L755.7 499.79L757.2 499.83L758.7 499.87L758.7 503.8Z" fill="rgb(251,173,221)" fill-opacity="0.5" stroke="none"/>
<path d="M175.7 498.07L177.2 498.01L178.7 497.95L180.3 497.88L181.8 497.82L183.3 497.75L184.8 497.68L186.4 497.62L187.9 497.55L189.4 497.48L190.9 497.41L192.5 497.33L194 497.26L195.5 497.18L197 497.11L198.6 497.03L200.1 496.95L201.6 496.87L203.2 496.79L204.7 496.71L206.2 496.62L207.7 496.54L209.3 496.45L210.8 496.36L212.3 496.27L213.8 496.18L215.4 496.09L216.9 495.99L218.4 495.89L219.9 495.80L221.5 495.70L223 495.59L224.5 495.49L226 495.38L227.6 495.28L229.1 495.17L230.6 495.05L232.1 494.94L233.7 494.82L235.2 494.71L236.7 494.59L238.3 494.46L239.8 494.34L241.3 494.21L242.8 494.08L244.4 493.95L245.9 493.81L247.4 493.68L248.9 493.53L250.5 493.39L252 493.25L253.5 493.10L255 492.94L256.6 492.79L258.1 492.63L259.6 492.47L261.1 492.31L262.7 492.14L264.2 491.97L265.7 491.79L267.3 491.61L268.8 491.43L270.3 491.24L271.8 491.05L273.4 490.86L274.9 490.66L276.4 490.46L277.9 490.25L279.5 490.04L281 489.83L282.5 489.61L284 489.38L285.6 489.15L287.1 488.91L288.6 488.67L290.1 488.43L291.7 488.18L293.2 487.92L294.7 487.66L296.3 487.39L297.8 487.11L299.3 486.83L300.8 486.54L302.4 486.25L303.9 485.95L305.4 485.64L306.9 485.33L308.5 485.01L310 484.68L311.5 484.34L313 484.00L314.6 483.64L316.1 483.28L317.6 482.91L319.1 482.53L320.7 482.15L322.2 481.75L323.7 481.35L325.3 480.93L326.8 480.51L328.3 480.07L329.8 479.63L331.4 479.17L332.9 478.71L334.4 478.23L335.9 477.75L337.5 477.25L339 476.74L340.5 476.22L342 475.68L343.6 475.14L345.1 474.58L346.6 474.01L348.1 473.42L349.7 472.83L351.2 472.22L352.7 471.60L354.2 470.96L355.8 470.31L357.3 469.65L358.8 468.97L360.4 468.28L361.9 467.58L363.4 466.87L364.9 466.13L366.5 465.39L368 464.63L369.5 463.86L371 463.08L372.6 462.29L374.1 461.48L375.6 460.66L377.1 459.83L378.7 458.99L380.2 458.13L381.7 457.27L383.2 456.40L384.8 455.53L386.3 454.64L387.8 453.75L389.4 452.85L390.9 451.96L392.4 451.06L393.9 450.16L395.5 449.26L397 448.36L398.5 447.47L400 446.58L401.6 445.70L403.1 444.83L404.6 443.98L406.1 443.14L407.7 442.32L409.2 441.51L410.7 440.73L412.2 439.97L413.8 439.24L415.3 438.54L416.8 437.87L418.4 437.24L419.9 436.64L421.4 436.08L422.9 435.57L424.5 435.09L426 434.67L427.5 434.28L429 433.95L430.6 433.67L432.1 433.44L433.6 433.26L435.1 433.14L436.7 433.07L438.2 433.05L439.7 433.09L441.2 433.18L442.8 433.33L444.3 433.52L445.8 433.78L447.4 434.08L448.9 434.43L450.4 434.83L451.9 435.28L453.5 435.77L455 436.30L456.5 436.88L458 437.49L459.6 438.14L461.1 438.82L462.6 439.53L464.1 440.27L465.7 441.04L467.2 441.83L468.7 442.64L470.2 443.47L471.8 444.32L473.3 445.18L474.8 446.05L476.3 446.93L477.9 447.82L479.4 448.72L480.9 449.61L482.5 450.52L484 451.42L485.5 452.32L487 453.21L488.6 454.11L490.1 455.00L491.6 455.88L493.1 456.75L494.7 457.62L496.2 458.48L497.7 459.32L499.2 460.16L500.8 460.99L502.3 461.80L503.8 462.61L505.3 463.40L506.9 464.17L508.4 464.94L509.9 465.69L511.5 466.43L513 467.15L514.5 467.86L516 468.56L517.6 469.25L519.1 469.92L520.6 470.57L522.1 471.22L523.7 471.85L525.2 472.46L526.7 473.07L528.2 473.66L529.8 474.24L531.3 474.80L532.8 475.36L534.3 475.90L535.9 476.43L537.4 476.94L538.9 477.45L540.5 477.94L542 478.42L543.5 478.90L545 479.36L546.6 479.81L548.1 480.25L549.6 480.68L551.1 481.10L552.7 481.51L554.2 481.91L555.7 482.30L557.2 482.69L558.8 483.06L560.3 483.43L561.8 483.79L563.3 484.13L564.9 484.48L566.4 484.81L567.9 485.14L569.5 485.46L571 485.77L572.5 486.07L574 486.37L575.6 486.66L577.1 486.95L578.6 487.22L580.1 487.50L581.7 487.76L583.2 488.02L584.7 488.28L586.2 488.53L587.8 488.77L589.3 489.01L590.8 489.24L592.3 489.47L593.9 489.69L595.4 489.91L596.9 490.13L598.4 490.34L600 490.54L601.5 490.74L603 490.94L604.6 491.13L606.1 491.32L607.6 491.50L609.1 491.68L610.7 491.86L612.2 492.04L613.7 492.21L615.2 492.37L616.8 492.54L618.3 492.70L619.8 492.85L621.3 493.01L622.9 493.16L624.4 493.30L625.9 493.45L627.4 493.59L629 493.73L630.5 493.87L632 494.00L633.6 494.13L635.1 494.26L636.6 494.39L638.1 494.51L639.7 494.63L641.2 494.75L642.7 494.87L644.2 494.99L645.8 495.10L647.3 495.21L648.8 495.32L650.3 495.43L651.9 495.53L653.4 495.64L654.9 495.74L656.4 495.84L658 495.93L659.5 496.03L661 496.12L662.6 496.22L664.1 496.31L665.6 496.40L667.1 496.49L668.7 496.57L670.2 496.66L671.7 496.74L673.2 496.82L674.8 496.90L676.3 496.98L677.8 497.06L679.3 497.14L680.9 497.21L682.4 497.29L683.9 497.36L685.4 497.43L687 497.51L688.5 497.58L690 497.64L691.6 497.71L693.1 497.78L694.6 497.84L696.1 497.91L697.7 497.97L699.2 498.03L700.7 498.09L702.2 498.15L703.8 498.21L705.3 498.27L706.8 498.33L708.3 498.39L709.9 498.44L711.4 498.50L712.9 498.55L714.4 498.61L716 498.66L717.5 498.71L719 498.76L720.5 498.81L722.1 498.86L723.6 498.91L725.1 498.96L726.7 499.01L728.2 499.05L729.7 499.10L731.2 499.15L732.8 499.19L734.3 499.24L735.8 499.28L737.3 499.32L738.9 499.36L740.4 499.41L741.9 499.45L743.4 499.49L745 499.53L746.5 499.57L748 499.61L749.5 499.65L751.1 499.68L752.6 499.72L754.1 499.76L755.7 499.79L757.2 499.83L758.7 499.87" fill="none" stroke="#8a10f5" stroke-width="2.3" stroke-dasharray="12.4 12" stroke-linejoin="round"/>
<path d="M175.7 503.8L175.7 497.71L177.2 497.66L178.7 497.61L180.3 497.56L181.8 497.51L183.3 497.46L184.8 497.41L186.4 497.36L187.9 497.30L189.4 497.25L190.9 497.20L192.5 497.14L194 497.08L195.5 497.03L197 496.97L198.6 496.91L200.1 496.85L201.6 496.79L203.2 496.73L204.7 496.67L206.2 496.61L207.7 496.55L209.3 496.49L210.8 496.42L212.3 496.36L213.8 496.29L215.4 496.22L216.9 496.16L218.4 496.09L219.9 496.02L221.5 495.95L223 495.88L224.5 495.81L226 495.73L227.6 495.66L229.1 495.58L230.6 495.51L232.1 495.43L233.7 495.35L235.2 495.27L236.7 495.19L238.3 495.11L239.8 495.03L241.3 494.94L242.8 494.86L244.4 494.77L245.9 494.69L247.4 494.60L248.9 494.51L250.5 494.42L252 494.32L253.5 494.23L255 494.13L256.6 494.04L258.1 493.94L259.6 493.84L261.1 493.74L262.7 493.64L264.2 493.53L265.7 493.43L267.3 493.32L268.8 493.21L270.3 493.10L271.8 492.99L273.4 492.87L274.9 492.76L276.4 492.64L277.9 492.52L279.5 492.40L281 492.28L282.5 492.15L284 492.03L285.6 491.90L287.1 491.77L288.6 491.63L290.1 491.50L291.7 491.36L293.2 491.22L294.7 491.08L296.3 490.93L297.8 490.79L299.3 490.64L300.8 490.49L302.4 490.33L303.9 490.17L305.4 490.01L306.9 489.85L308.5 489.69L310 489.52L311.5 489.35L313 489.17L314.6 489.00L316.1 488.82L317.6 488.63L319.1 488.45L320.7 488.26L322.2 488.07L323.7 487.87L325.3 487.67L326.8 487.46L328.3 487.26L329.8 487.05L331.4 486.83L332.9 486.61L334.4 486.39L335.9 486.16L337.5 485.93L339 485.69L340.5 485.45L342 485.21L343.6 484.96L345.1 484.70L346.6 484.44L348.1 484.18L349.7 483.91L351.2 483.63L352.7 483.35L354.2 483.07L355.8 482.78L357.3 482.48L358.8 482.17L360.4 481.86L361.9 481.55L363.4 481.23L364.9 480.90L366.5 480.56L368 480.22L369.5 479.87L371 479.51L372.6 479.14L374.1 478.77L375.6 478.39L377.1 478.00L378.7 477.60L380.2 477.20L381.7 476.78L383.2 476.36L384.8 475.93L386.3 475.49L387.8 475.03L389.4 474.57L390.9 474.10L392.4 473.62L393.9 473.12L395.5 472.62L397 472.10L398.5 471.57L400 471.03L401.6 470.48L403.1 469.92L404.6 469.34L406.1 468.75L407.7 468.14L409.2 467.52L410.7 466.89L412.2 466.24L413.8 465.58L415.3 464.90L416.8 464.21L418.4 463.49L419.9 462.77L421.4 462.02L422.9 461.26L424.5 460.48L426 459.68L427.5 458.86L429 458.02L430.6 457.16L432.1 456.28L433.6 455.38L435.1 454.46L436.7 453.51L438.2 452.55L439.7 451.56L441.2 450.55L442.8 449.51L444.3 448.45L445.8 447.36L447.4 446.25L448.9 445.11L450.4 443.95L451.9 442.76L453.5 441.54L455 440.30L456.5 439.03L458 437.73L459.6 436.40L461.1 435.04L462.6 433.65L464.1 432.23L465.7 430.79L467.2 429.31L468.7 427.81L470.2 426.28L471.8 424.71L473.3 423.12L474.8 421.50L476.3 419.86L477.9 418.18L479.4 416.48L480.9 414.75L482.5 413.00L484 411.23L485.5 409.43L487 407.61L488.6 405.77L490.1 403.92L491.6 402.05L493.1 400.17L494.7 398.28L496.2 396.38L497.7 394.48L499.2 392.57L500.8 390.67L502.3 388.78L503.8 386.89L505.3 385.02L506.9 383.16L508.4 381.33L509.9 379.53L511.5 377.76L513 376.03L514.5 374.34L516 372.71L517.6 371.12L519.1 369.59L520.6 368.13L522.1 366.74L523.7 365.43L525.2 364.20L526.7 363.05L528.2 361.99L529.8 361.03L531.3 360.17L532.8 359.41L534.3 358.76L535.9 358.22L537.4 357.79L538.9 357.48L540.5 357.28L542 357.19L543.5 357.23L545 357.38L546.6 357.65L548.1 358.03L549.6 358.53L551.1 359.14L552.7 359.85L554.2 360.68L555.7 361.60L557.2 362.62L558.8 363.73L560.3 364.93L561.8 366.21L563.3 367.57L564.9 369.00L566.4 370.50L567.9 372.06L569.5 373.68L571 375.35L572.5 377.07L574 378.82L575.6 380.61L577.1 382.43L578.6 384.27L580.1 386.14L581.7 388.02L583.2 389.91L584.7 391.81L586.2 393.72L587.8 395.62L589.3 397.52L590.8 399.42L592.3 401.30L593.9 403.18L595.4 405.04L596.9 406.88L598.4 408.70L600 410.51L601.5 412.29L603 414.06L604.6 415.79L606.1 417.50L607.6 419.19L609.1 420.85L610.7 422.48L612.2 424.08L613.7 425.65L615.2 427.20L616.8 428.72L618.3 430.20L619.8 431.66L621.3 433.09L622.9 434.49L624.4 435.86L625.9 437.20L627.4 438.51L629 439.79L630.5 441.05L632 442.28L633.6 443.48L635.1 444.65L636.6 445.80L638.1 446.92L639.7 448.02L641.2 449.09L642.7 450.13L644.2 451.16L645.8 452.15L647.3 453.13L648.8 454.08L650.3 455.01L651.9 455.92L653.4 456.81L654.9 457.68L656.4 458.52L658 459.35L659.5 460.16L661 460.95L662.6 461.72L664.1 462.47L665.6 463.20L667.1 463.92L668.7 464.62L670.2 465.31L671.7 465.98L673.2 466.63L674.8 467.27L676.3 467.90L677.8 468.51L679.3 469.10L680.9 469.69L682.4 470.26L683.9 470.82L685.4 471.36L687 471.89L688.5 472.41L690 472.92L691.6 473.42L693.1 473.91L694.6 474.38L696.1 474.85L697.7 475.31L699.2 475.75L700.7 476.19L702.2 476.62L703.8 477.03L705.3 477.44L706.8 477.84L708.3 478.24L709.9 478.62L711.4 479.00L712.9 479.36L714.4 479.72L716 480.08L717.5 480.42L719 480.76L720.5 481.09L722.1 481.42L723.6 481.74L725.1 482.05L726.7 482.36L728.2 482.66L729.7 482.95L731.2 483.24L732.8 483.52L734.3 483.80L735.8 484.07L737.3 484.34L738.9 484.60L740.4 484.86L741.9 485.11L743.4 485.36L745 485.60L746.5 485.84L748 486.07L749.5 486.30L751.1 486.52L752.6 486.74L754.1 486.96L755.7 487.17L757.2 487.38L758.7 487.59L758.7 503.8Z" fill="rgb(243,237,155)" fill-opacity="0.5" stroke="none"/>
<path d="M175.7 497.71L177.2 497.66L178.7 497.61L180.3 497.56L181.8 497.51L183.3 497.46L184.8 497.41L186.4 497.36L187.9 497.30L189.4 497.25L190.9 497.20L192.5 497.14L194 497.08L195.5 497.03L197 496.97L198.6 496.91L200.1 496.85L201.6 496.79L203.2 496.73L204.7 496.67L206.2 496.61L207.7 496.55L209.3 496.49L210.8 496.42L212.3 496.36L213.8 496.29L215.4 496.22L216.9 496.16L218.4 496.09L219.9 496.02L221.5 495.95L223 495.88L224.5 495.81L226 495.73L227.6 495.66L229.1 495.58L230.6 495.51L232.1 495.43L233.7 495.35L235.2 495.27L236.7 495.19L238.3 495.11L239.8 495.03L241.3 494.94L242.8 494.86L244.4 494.77L245.9 494.69L247.4 494.60L248.9 494.51L250.5 494.42L252 494.32L253.5 494.23L255 494.13L256.6 494.04L258.1 493.94L259.6 493.84L261.1 493.74L262.7 493.64L264.2 493.53L265.7 493.43L267.3 493.32L268.8 493.21L270.3 493.10L271.8 492.99L273.4 492.87L274.9 492.76L276.4 492.64L277.9 492.52L279.5 492.40L281 492.28L282.5 492.15L284 492.03L285.6 491.90L287.1 491.77L288.6 491.63L290.1 491.50L291.7 491.36L293.2 491.22L294.7 491.08L296.3 490.93L297.8 490.79L299.3 490.64L300.8 490.49L302.4 490.33L303.9 490.17L305.4 490.01L306.9 489.85L308.5 489.69L310 489.52L311.5 489.35L313 489.17L314.6 489.00L316.1 488.82L317.6 488.63L319.1 488.45L320.7 488.26L322.2 488.07L323.7 487.87L325.3 487.67L326.8 487.46L328.3 487.26L329.8 487.05L331.4 486.83L332.9 486.61L334.4 486.39L335.9 486.16L337.5 485.93L339 485.69L340.5 485.45L342 485.21L343.6 484.96L345.1 484.70L346.6 484.44L348.1 484.18L349.7 483.91L351.2 483.63L352.7 483.35L354.2 483.07L355.8 482.78L357.3 482.48L358.8 482.17L360.4 481.86L361.9 481.55L363.4 481.23L364.9 480.90L366.5 480.56L368 480.22L369.5 479.87L371 479.51L372.6 479.14L374.1 478.77L375.6 478.39L377.1 478.00L378.7 477.60L380.2 477.20L381.7 476.78L383.2 476.36L384.8 475.93L386.3 475.49L387.8 475.03L389.4 474.57L390.9 474.10L392.4 473.62L393.9 473.12L395.5 472.62L397 472.10L398.5 471.57L400 471.03L401.6 470.48L403.1 469.92L404.6 469.34L406.1 468.75L407.7 468.14L409.2 467.52L410.7 466.89L412.2 466.24L413.8 465.58L415.3 464.90L416.8 464.21L418.4 463.49L419.9 462.77L421.4 462.02L422.9 461.26L424.5 460.48L426 459.68L427.5 458.86L429 458.02L430.6 457.16L432.1 456.28L433.6 455.38L435.1 454.46L436.7 453.51L438.2 452.55L439.7 451.56L441.2 450.55L442.8 449.51L444.3 448.45L445.8 447.36L447.4 446.25L448.9 445.11L450.4 443.95L451.9 442.76L453.5 441.54L455 440.30L456.5 439.03L458 437.73L459.6 436.40L461.1 435.04L462.6 433.65L464.1 432.23L465.7 430.79L467.2 429.31L468.7 427.81L470.2 426.28L471.8 424.71L473.3 423.12L474.8 421.50L476.3 419.86L477.9 418.18L479.4 416.48L480.9 414.75L482.5 413.00L484 411.23L485.5 409.43L487 407.61L488.6 405.77L490.1 403.92L491.6 402.05L493.1 400.17L494.7 398.28L496.2 396.38L497.7 394.48L499.2 392.57L500.8 390.67L502.3 388.78L503.8 386.89L505.3 385.02L506.9 383.16L508.4 381.33L509.9 379.53L511.5 377.76L513 376.03L514.5 374.34L516 372.71L517.6 371.12L519.1 369.59L520.6 368.13L522.1 366.74L523.7 365.43L525.2 364.20L526.7 363.05L528.2 361.99L529.8 361.03L531.3 360.17L532.8 359.41L534.3 358.76L535.9 358.22L537.4 357.79L538.9 357.48L540.5 357.28L542 357.19L543.5 357.23L545 357.38L546.6 357.65L548.1 358.03L549.6 358.53L551.1 359.14L552.7 359.85L554.2 360.68L555.7 361.60L557.2 362.62L558.8 363.73L560.3 364.93L561.8 366.21L563.3 367.57L564.9 369.00L566.4 370.50L567.9 372.06L569.5 373.68L571 375.35L572.5 377.07L574 378.82L575.6 380.61L577.1 382.43L578.6 384.27L580.1 386.14L581.7 388.02L583.2 389.91L584.7 391.81L586.2 393.72L587.8 395.62L589.3 397.52L590.8 399.42L592.3 401.30L593.9 403.18L595.4 405.04L596.9 406.88L598.4 408.70L600 410.51L601.5 412.29L603 414.06L604.6 415.79L606.1 417.50L607.6 419.19L609.1 420.85L610.7 422.48L612.2 424.08L613.7 425.65L615.2 427.20L616.8 428.72L618.3 430.20L619.8 431.66L621.3 433.09L622.9 434.49L624.4 435.86L625.9 437.20L627.4 438.51L629 439.79L630.5 441.05L632 442.28L633.6 443.48L635.1 444.65L636.6 445.80L638.1 446.92L639.7 448.02L641.2 449.09L642.7 450.13L644.2 451.16L645.8 452.15L647.3 453.13L648.8 454.08L650.3 455.01L651.9 455.92L653.4 456.81L654.9 457.68L656.4 458.52L658 459.35L659.5 460.16L661 460.95L662.6 461.72L664.1 462.47L665.6 463.20L667.1 463.92L668.7 464.62L670.2 465.31L671.7 465.98L673.2 466.63L674.8 467.27L676.3 467.90L677.8 468.51L679.3 469.10L680.9 469.69L682.4 470.26L683.9 470.82L685.4 471.36L687 471.89L688.5 472.41L690 472.92L691.6 473.42L693.1 473.91L694.6 474.38L696.1 474.85L697.7 475.31L699.2 475.75L700.7 476.19L702.2 476.62L703.8 477.03L705.3 477.44L706.8 477.84L708.3 478.24L709.9 478.62L711.4 479.00L712.9 479.36L714.4 479.72L716 480.08L717.5 480.42L719 480.76L720.5 481.09L722.1 481.42L723.6 481.74L725.1 482.05L726.7 482.36L728.2 482.66L729.7 482.95L731.2 483.24L732.8 483.52L734.3 483.80L735.8 484.07L737.3 484.34L738.9 484.60L740.4 484.86L741.9 485.11L743.4 485.36L745 485.60L746.5 485.84L748 486.07L749.5 486.30L751.1 486.52L752.6 486.74L754.1 486.96L755.7 487.17L757.2 487.38L758.7 487.59" fill="none" stroke="#12a2ee" stroke-width="2.3" stroke-dasharray="12.4 12" stroke-linejoin="round"/>
<path d="M175.7 503.8L175.7 502.04L177.2 502.03L178.7 502.02L180.3 502.01L181.8 501.99L183.3 501.98L184.8 501.97L186.4 501.96L187.9 501.95L189.4 501.94L190.9 501.92L192.5 501.91L194 501.90L195.5 501.89L197 501.88L198.6 501.86L200.1 501.85L201.6 501.84L203.2 501.83L204.7 501.81L206.2 501.80L207.7 501.79L209.3 501.77L210.8 501.76L212.3 501.75L213.8 501.73L215.4 501.72L216.9 501.71L218.4 501.69L219.9 501.68L221.5 501.66L223 501.65L224.5 501.63L226 501.62L227.6 501.60L229.1 501.59L230.6 501.57L232.1 501.56L233.7 501.54L235.2 501.53L236.7 501.51L238.3 501.50L239.8 501.48L241.3 501.46L242.8 501.45L244.4 501.43L245.9 501.41L247.4 501.40L248.9 501.38L250.5 501.36L252 501.34L253.5 501.33L255 501.31L256.6 501.29L258.1 501.27L259.6 501.25L261.1 501.23L262.7 501.22L264.2 501.20L265.7 501.18L267.3 501.16L268.8 501.14L270.3 501.12L271.8 501.10L273.4 501.08L274.9 501.06L276.4 501.03L277.9 501.01L279.5 500.99L281 500.97L282.5 500.95L284 500.93L285.6 500.90L287.1 500.88L288.6 500.86L290.1 500.83L291.7 500.81L293.2 500.79L294.7 500.76L296.3 500.74L297.8 500.71L299.3 500.69L300.8 500.66L302.4 500.64L303.9 500.61L305.4 500.59L306.9 500.56L308.5 500.53L310 500.50L311.5 500.48L313 500.45L314.6 500.42L316.1 500.39L317.6 500.36L319.1 500.33L320.7 500.30L322.2 500.27L323.7 500.24L325.3 500.21L326.8 500.18L328.3 500.15L329.8 500.12L331.4 500.09L332.9 500.05L334.4 500.02L335.9 499.99L337.5 499.95L339 499.92L340.5 499.88L342 499.85L343.6 499.81L345.1 499.77L346.6 499.74L348.1 499.70L349.7 499.66L351.2 499.62L352.7 499.58L354.2 499.54L355.8 499.50L357.3 499.46L358.8 499.42L360.4 499.38L361.9 499.34L363.4 499.30L364.9 499.25L366.5 499.21L368 499.16L369.5 499.12L371 499.07L372.6 499.02L374.1 498.98L375.6 498.93L377.1 498.88L378.7 498.83L380.2 498.78L381.7 498.73L383.2 498.68L384.8 498.62L386.3 498.57L387.8 498.51L389.4 498.46L390.9 498.40L392.4 498.35L393.9 498.29L395.5 498.23L397 498.17L398.5 498.11L400 498.05L401.6 497.99L403.1 497.92L404.6 497.86L406.1 497.79L407.7 497.73L409.2 497.66L410.7 497.59L412.2 497.52L413.8 497.45L415.3 497.38L416.8 497.30L418.4 497.23L419.9 497.15L421.4 497.08L422.9 497.00L424.5 496.92L426 496.84L427.5 496.75L429 496.67L430.6 496.58L432.1 496.50L433.6 496.41L435.1 496.32L436.7 496.23L438.2 496.13L439.7 496.04L441.2 495.94L442.8 495.84L444.3 495.74L445.8 495.64L447.4 495.54L448.9 495.43L450.4 495.32L451.9 495.22L453.5 495.10L455 494.99L456.5 494.87L458 494.76L459.6 494.64L461.1 494.51L462.6 494.39L464.1 494.26L465.7 494.13L467.2 494.00L468.7 493.86L470.2 493.72L471.8 493.58L473.3 493.44L474.8 493.29L476.3 493.15L477.9 492.99L479.4 492.84L480.9 492.68L482.5 492.52L484 492.35L485.5 492.18L487 492.01L488.6 491.84L490.1 491.66L491.6 491.48L493.1 491.29L494.7 491.10L496.2 490.90L497.7 490.70L499.2 490.50L500.8 490.29L502.3 490.08L503.8 489.86L505.3 489.64L506.9 489.41L508.4 489.18L509.9 488.95L511.5 488.70L513 488.46L514.5 488.20L516 487.94L517.6 487.68L519.1 487.41L520.6 487.13L522.1 486.85L523.7 486.56L525.2 486.26L526.7 485.96L528.2 485.64L529.8 485.33L531.3 485.00L532.8 484.67L534.3 484.33L535.9 483.98L537.4 483.62L538.9 483.25L540.5 482.88L542 482.49L543.5 482.10L545 481.70L546.6 481.28L548.1 480.86L549.6 480.43L551.1 479.99L552.7 479.53L554.2 479.07L555.7 478.59L557.2 478.11L558.8 477.61L560.3 477.10L561.8 476.57L563.3 476.04L564.9 475.49L566.4 474.93L567.9 474.36L569.5 473.77L571 473.17L572.5 472.55L574 471.92L575.6 471.28L577.1 470.62L578.6 469.95L580.1 469.26L581.7 468.56L583.2 467.84L584.7 467.11L586.2 466.36L587.8 465.60L589.3 464.82L590.8 464.03L592.3 463.22L593.9 462.40L595.4 461.57L596.9 460.72L598.4 459.85L600 458.97L601.5 458.08L603 457.18L604.6 456.27L606.1 455.34L607.6 454.41L609.1 453.46L610.7 452.51L612.2 451.55L613.7 450.58L615.2 449.62L616.8 448.64L618.3 447.67L619.8 446.70L621.3 445.73L622.9 444.77L624.4 443.81L625.9 442.86L627.4 441.92L629 441.00L630.5 440.09L632 439.21L633.6 438.34L635.1 437.50L636.6 436.69L638.1 435.90L639.7 435.15L641.2 434.44L642.7 433.77L644.2 433.13L645.8 432.54L647.3 432.00L648.8 431.50L650.3 431.06L651.9 430.67L653.4 430.34L654.9 430.06L656.4 429.84L658 429.67L659.5 429.57L661 429.53L662.6 429.55L664.1 429.63L665.6 429.76L667.1 429.96L668.7 430.22L670.2 430.53L671.7 430.90L673.2 431.32L674.8 431.79L676.3 432.32L677.8 432.89L679.3 433.51L680.9 434.17L682.4 434.86L683.9 435.60L685.4 436.37L687 437.17L688.5 438.00L690 438.86L691.6 439.74L693.1 440.64L694.6 441.55L696.1 442.48L697.7 443.43L699.2 444.38L700.7 445.34L702.2 446.31L703.8 447.28L705.3 448.25L706.8 449.23L708.3 450.20L709.9 451.16L711.4 452.13L712.9 453.08L714.4 454.03L716 454.97L717.5 455.90L719 456.82L720.5 457.72L722.1 458.62L723.6 459.50L725.1 460.37L726.7 461.23L728.2 462.07L729.7 462.90L731.2 463.71L732.8 464.51L734.3 465.29L735.8 466.06L737.3 466.81L738.9 467.55L740.4 468.27L741.9 468.98L743.4 469.68L745 470.35L746.5 471.02L748 471.67L749.5 472.30L751.1 472.92L752.6 473.53L754.1 474.12L755.7 474.70L757.2 475.27L758.7 475.82L758.7 503.8Z" fill="rgb(183,191,249)" fill-opacity="0.5" stroke="none"/>
<path d="M175.7 502.04L177.2 502.03L178.7 502.02L180.3 502.01L181.8 501.99L183.3 501.98L184.8 501.97L186.4 501.96L187.9 501.95L189.4 501.94L190.9 501.92L192.5 501.91L194 501.90L195.5 501.89L197 501.88L198.6 501.86L200.1 501.85L201.6 501.84L203.2 501.83L204.7 501.81L206.2 501.80L207.7 501.79L209.3 501.77L210.8 501.76L212.3 501.75L213.8 501.73L215.4 501.72L216.9 501.71L218.4 501.69L219.9 501.68L221.5 501.66L223 501.65L224.5 501.63L226 501.62L227.6 501.60L229.1 501.59L230.6 501.57L232.1 501.56L233.7 501.54L235.2 501.53L236.7 501.51L238.3 501.50L239.8 501.48L241.3 501.46L242.8 501.45L244.4 501.43L245.9 501.41L247.4 501.40L248.9 501.38L250.5 501.36L252 501.34L253.5 501.33L255 501.31L256.6 501.29L258.1 501.27L259.6 501.25L261.1 501.23L262.7 501.22L264.2 501.20L265.7 501.18L267.3 501.16L268.8 501.14L270.3 501.12L271.8 501.10L273.4 501.08L274.9 501.06L276.4 501.03L277.9 501.01L279.5 500.99L281 500.97L282.5 500.95L284 500.93L285.6 500.90L287.1 500.88L288.6 500.86L290.1 500.83L291.7 500.81L293.2 500.79L294.7 500.76L296.3 500.74L297.8 500.71L299.3 500.69L300.8 500.66L302.4 500.64L303.9 500.61L305.4 500.59L306.9 500.56L308.5 500.53L310 500.50L311.5 500.48L313 500.45L314.6 500.42L316.1 500.39L317.6 500.36L319.1 500.33L320.7 500.30L322.2 500.27L323.7 500.24L325.3 500.21L326.8 500.18L328.3 500.15L329.8 500.12L331.4 500.09L332.9 500.05L334.4 500.02L335.9 499.99L337.5 499.95L339 499.92L340.5 499.88L342 499.85L343.6 499.81L345.1 499.77L346.6 499.74L348.1 499.70L349.7 499.66L351.2 499.62L352.7 499.58L354.2 499.54L355.8 499.50L357.3 499.46L358.8 499.42L360.4 499.38L361.9 499.34L363.4 499.30L364.9 499.25L366.5 499.21L368 499.16L369.5 499.12L371 499.07L372.6 499.02L374.1 498.98L375.6 498.93L377.1 498.88L378.7 498.83L380.2 498.78L381.7 498.73L383.2 498.68L384.8 498.62L386.3 498.57L387.8 498.51L389.4 498.46L390.9 498.40L392.4 498.35L393.9 498.29L395.5 498.23L397 498.17L398.5 498.11L400 498.05L401.6 497.99L403.1 497.92L404.6 497.86L406.1 497.79L407.7 497.73L409.2 497.66L410.7 497.59L412.2 497.52L413.8 497.45L415.3 497.38L416.8 497.30L418.4 497.23L419.9 497.15L421.4 497.08L422.9 497.00L424.5 496.92L426 496.84L427.5 496.75L429 496.67L430.6 496.58L432.1 496.50L433.6 496.41L435.1 496.32L436.7 496.23L438.2 496.13L439.7 496.04L441.2 495.94L442.8 495.84L444.3 495.74L445.8 495.64L447.4 495.54L448.9 495.43L450.4 495.32L451.9 495.22L453.5 495.10L455 494.99L456.5 494.87L458 494.76L459.6 494.64L461.1 494.51L462.6 494.39L464.1 494.26L465.7 494.13L467.2 494.00L468.7 493.86L470.2 493.72L471.8 493.58L473.3 493.44L474.8 493.29L476.3 493.15L477.9 492.99L479.4 492.84L480.9 492.68L482.5 492.52L484 492.35L485.5 492.18L487 492.01L488.6 491.84L490.1 491.66L491.6 491.48L493.1 491.29L494.7 491.10L496.2 490.90L497.7 490.70L499.2 490.50L500.8 490.29L502.3 490.08L503.8 489.86L505.3 489.64L506.9 489.41L508.4 489.18L509.9 488.95L511.5 488.70L513 488.46L514.5 488.20L516 487.94L517.6 487.68L519.1 487.41L520.6 487.13L522.1 486.85L523.7 486.56L525.2 486.26L526.7 485.96L528.2 485.64L529.8 485.33L531.3 485.00L532.8 484.67L534.3 484.33L535.9 483.98L537.4 483.62L538.9 483.25L540.5 482.88L542 482.49L543.5 482.10L545 481.70L546.6 481.28L548.1 480.86L549.6 480.43L551.1 479.99L552.7 479.53L554.2 479.07L555.7 478.59L557.2 478.11L558.8 477.61L560.3 477.10L561.8 476.57L563.3 476.04L564.9 475.49L566.4 474.93L567.9 474.36L569.5 473.77L571 473.17L572.5 472.55L574 471.92L575.6 471.28L577.1 470.62L578.6 469.95L580.1 469.26L581.7 468.56L583.2 467.84L584.7 467.11L586.2 466.36L587.8 465.60L589.3 464.82L590.8 464.03L592.3 463.22L593.9 462.40L595.4 461.57L596.9 460.72L598.4 459.85L600 458.97L601.5 458.08L603 457.18L604.6 456.27L606.1 455.34L607.6 454.41L609.1 453.46L610.7 452.51L612.2 451.55L613.7 450.58L615.2 449.62L616.8 448.64L618.3 447.67L619.8 446.70L621.3 445.73L622.9 444.77L624.4 443.81L625.9 442.86L627.4 441.92L629 441.00L630.5 440.09L632 439.21L633.6 438.34L635.1 437.50L636.6 436.69L638.1 435.90L639.7 435.15L641.2 434.44L642.7 433.77L644.2 433.13L645.8 432.54L647.3 432.00L648.8 431.50L650.3 431.06L651.9 430.67L653.4 430.34L654.9 430.06L656.4 429.84L658 429.67L659.5 429.57L661 429.53L662.6 429.55L664.1 429.63L665.6 429.76L667.1 429.96L668.7 430.22L670.2 430.53L671.7 430.90L673.2 431.32L674.8 431.79L676.3 432.32L677.8 432.89L679.3 433.51L680.9 434.17L682.4 434.86L683.9 435.60L685.4 436.37L687 437.17L688.5 438.00L690 438.86L691.6 439.74L693.1 440.64L694.6 441.55L696.1 442.48L697.7 443.43L699.2 444.38L700.7 445.34L702.2 446.31L703.8 447.28L705.3 448.25L706.8 449.23L708.3 450.20L709.9 451.16L711.4 452.13L712.9 453.08L714.4 454.03L716 454.97L717.5 455.90L719 456.82L720.5 457.72L722.1 458.62L723.6 459.50L725.1 460.37L726.7 461.23L728.2 462.07L729.7 462.90L731.2 463.71L732.8 464.51L734.3 465.29L735.8 466.06L737.3 466.81L738.9 467.55L740.4 468.27L741.9 468.98L743.4 469.68L745 470.35L746.5 471.02L748 471.67L749.5 472.30L751.1 472.92L752.6 473.53L754.1 474.12L755.7 474.70L757.2 475.27L758.7 475.82" fill="none" stroke="#1840ee" stroke-width="2.3" stroke-dasharray="12.4 12" stroke-linejoin="round"/>
<path d="M175.7 503.8L175.7 490.18L177.2 490.12L178.7 490.06L180.3 490.01L181.8 489.95L183.3 489.89L184.8 489.83L186.4 489.77L187.9 489.72L189.4 489.66L190.9 489.60L192.5 489.54L194 489.48L195.5 489.42L197 489.36L198.6 489.30L200.1 489.23L201.6 489.17L203.2 489.11L204.7 489.05L206.2 488.98L207.7 488.92L209.3 488.86L210.8 488.79L212.3 488.73L213.8 488.66L215.4 488.60L216.9 488.53L218.4 488.46L219.9 488.40L221.5 488.33L223 488.26L224.5 488.19L226 488.13L227.6 488.06L229.1 487.99L230.6 487.92L232.1 487.85L233.7 487.78L235.2 487.71L236.7 487.63L238.3 487.56L239.8 487.49L241.3 487.42L242.8 487.34L244.4 487.27L245.9 487.19L247.4 487.12L248.9 487.04L250.5 486.97L252 486.89L253.5 486.81L255 486.74L256.6 486.66L258.1 486.58L259.6 486.50L261.1 486.42L262.7 486.34L264.2 486.26L265.7 486.18L267.3 486.10L268.8 486.01L270.3 485.93L271.8 485.85L273.4 485.76L274.9 485.68L276.4 485.59L277.9 485.51L279.5 485.42L281 485.33L282.5 485.25L284 485.16L285.6 485.07L287.1 484.98L288.6 484.89L290.1 484.80L291.7 484.71L293.2 484.62L294.7 484.52L296.3 484.43L297.8 484.34L299.3 484.24L300.8 484.15L302.4 484.05L303.9 483.95L305.4 483.86L306.9 483.76L308.5 483.66L310 483.56L311.5 483.46L313 483.36L314.6 483.26L316.1 483.15L317.6 483.05L319.1 482.95L320.7 482.84L322.2 482.74L323.7 482.63L325.3 482.52L326.8 482.42L328.3 482.31L329.8 482.20L331.4 482.09L332.9 481.98L334.4 481.87L335.9 481.75L337.5 481.64L339 481.53L340.5 481.41L342 481.30L343.6 481.18L345.1 481.06L346.6 480.94L348.1 480.82L349.7 480.70L351.2 480.58L352.7 480.46L354.2 480.34L355.8 480.21L357.3 480.09L358.8 479.96L360.4 479.83L361.9 479.71L363.4 479.58L364.9 479.45L366.5 479.32L368 479.18L369.5 479.05L371 478.92L372.6 478.78L374.1 478.65L375.6 478.51L377.1 478.37L378.7 478.23L380.2 478.09L381.7 477.95L383.2 477.81L384.8 477.66L386.3 477.52L387.8 477.37L389.4 477.23L390.9 477.08L392.4 476.93L393.9 476.78L395.5 476.63L397 476.47L398.5 476.32L400 476.16L401.6 476.00L403.1 475.85L404.6 475.69L406.1 475.53L407.7 475.36L409.2 475.20L410.7 475.04L412.2 474.87L413.8 474.70L415.3 474.53L416.8 474.36L418.4 474.19L419.9 474.02L421.4 473.84L422.9 473.67L424.5 473.49L426 473.31L427.5 473.13L429 472.95L430.6 472.76L432.1 472.58L433.6 472.39L435.1 472.20L436.7 472.01L438.2 471.82L439.7 471.63L441.2 471.43L442.8 471.24L444.3 471.04L445.8 470.84L447.4 470.64L448.9 470.43L450.4 470.23L451.9 470.02L453.5 469.81L455 469.60L456.5 469.39L458 469.18L459.6 468.96L461.1 468.74L462.6 468.52L464.1 468.30L465.7 468.07L467.2 467.85L468.7 467.62L470.2 467.39L471.8 467.16L473.3 466.92L474.8 466.69L476.3 466.45L477.9 466.21L479.4 465.97L480.9 465.72L482.5 465.47L484 465.22L485.5 464.97L487 464.72L488.6 464.46L490.1 464.20L491.6 463.94L493.1 463.68L494.7 463.41L496.2 463.15L497.7 462.87L499.2 462.60L500.8 462.33L502.3 462.05L503.8 461.77L505.3 461.48L506.9 461.20L508.4 460.91L509.9 460.62L511.5 460.32L513 460.02L514.5 459.72L516 459.42L517.6 459.11L519.1 458.81L520.6 458.49L522.1 458.18L523.7 457.86L525.2 457.54L526.7 457.22L528.2 456.89L529.8 456.56L531.3 456.23L532.8 455.89L534.3 455.55L535.9 455.21L537.4 454.86L538.9 454.51L540.5 454.16L542 453.80L543.5 453.44L545 453.08L546.6 452.71L548.1 452.34L549.6 451.97L551.1 451.59L552.7 451.21L554.2 450.82L555.7 450.43L557.2 450.04L558.8 449.64L560.3 449.24L561.8 448.84L563.3 448.43L564.9 448.02L566.4 447.60L567.9 447.18L569.5 446.75L571 446.32L572.5 445.89L574 445.45L575.6 445.01L577.1 444.56L578.6 444.11L580.1 443.65L581.7 443.19L583.2 442.72L584.7 442.25L586.2 441.78L587.8 441.30L589.3 440.81L590.8 440.32L592.3 439.83L593.9 439.33L595.4 438.82L596.9 438.31L598.4 437.80L600 437.28L601.5 436.75L603 436.22L604.6 435.68L606.1 435.14L607.6 434.59L609.1 434.04L610.7 433.48L612.2 432.92L613.7 432.35L615.2 431.77L616.8 431.19L618.3 430.60L619.8 430.01L621.3 429.41L622.9 428.80L624.4 428.19L625.9 427.57L627.4 426.94L629 426.31L630.5 425.67L632 425.03L633.6 424.38L635.1 423.72L636.6 423.06L638.1 422.39L639.7 421.71L641.2 421.02L642.7 420.33L644.2 419.63L645.8 418.93L647.3 418.21L648.8 417.49L650.3 416.77L651.9 416.03L653.4 415.29L654.9 414.54L656.4 413.79L658 413.02L659.5 412.25L661 411.47L662.6 410.69L664.1 409.89L665.6 409.09L667.1 408.28L668.7 407.46L670.2 406.64L671.7 405.80L673.2 404.96L674.8 404.11L676.3 403.25L677.8 402.39L679.3 401.51L680.9 400.63L682.4 399.74L683.9 398.84L685.4 397.93L687 397.02L688.5 396.10L690 395.16L691.6 394.22L693.1 393.28L694.6 392.32L696.1 391.35L697.7 390.38L699.2 389.40L700.7 388.41L702.2 387.41L703.8 386.40L705.3 385.39L706.8 384.36L708.3 383.33L709.9 382.29L711.4 381.24L712.9 380.19L714.4 379.12L716 378.05L717.5 376.97L719 375.88L720.5 374.78L722.1 373.68L723.6 372.57L725.1 371.45L726.7 370.32L728.2 369.19L729.7 368.04L731.2 366.90L732.8 365.74L734.3 364.58L735.8 363.41L737.3 362.23L738.9 361.05L740.4 359.86L741.9 358.66L743.4 357.46L745 356.26L746.5 355.04L748 353.83L749.5 352.61L751.1 351.38L752.6 350.15L754.1 348.91L755.7 347.67L757.2 346.43L758.7 345.18L758.7 503.8Z" fill="rgb(183,191,249)" fill-opacity="0.5" stroke="none"/>
<path d="M175.7 490.18L177.2 490.12L178.7 490.06L180.3 490.01L181.8 489.95L183.3 489.89L184.8 489.83L186.4 489.77L187.9 489.72L189.4 489.66L190.9 489.60L192.5 489.54L194 489.48L195.5 489.42L197 489.36L198.6 489.30L200.1 489.23L201.6 489.17L203.2 489.11L204.7 489.05L206.2 488.98L207.7 488.92L209.3 488.86L210.8 488.79L212.3 488.73L213.8 488.66L215.4 488.60L216.9 488.53L218.4 488.46L219.9 488.40L221.5 488.33L223 488.26L224.5 488.19L226 488.13L227.6 488.06L229.1 487.99L230.6 487.92L232.1 487.85L233.7 487.78L235.2 487.71L236.7 487.63L238.3 487.56L239.8 487.49L241.3 487.42L242.8 487.34L244.4 487.27L245.9 487.19L247.4 487.12L248.9 487.04L250.5 486.97L252 486.89L253.5 486.81L255 486.74L256.6 486.66L258.1 486.58L259.6 486.50L261.1 486.42L262.7 486.34L264.2 486.26L265.7 486.18L267.3 486.10L268.8 486.01L270.3 485.93L271.8 485.85L273.4 485.76L274.9 485.68L276.4 485.59L277.9 485.51L279.5 485.42L281 485.33L282.5 485.25L284 485.16L285.6 485.07L287.1 484.98L288.6 484.89L290.1 484.80L291.7 484.71L293.2 484.62L294.7 484.52L296.3 484.43L297.8 484.34L299.3 484.24L300.8 484.15L302.4 484.05L303.9 483.95L305.4 483.86L306.9 483.76L308.5 483.66L310 483.56L311.5 483.46L313 483.36L314.6 483.26L316.1 483.15L317.6 483.05L319.1 482.95L320.7 482.84L322.2 482.74L323.7 482.63L325.3 482.52L326.8 482.42L328.3 482.31L329.8 482.20L331.4 482.09L332.9 481.98L334.4 481.87L335.9 481.75L337.5 481.64L339 481.53L340.5 481.41L342 481.30L343.6 481.18L345.1 481.06L346.6 480.94L348.1 480.82L349.7 480.70L351.2 480.58L352.7 480.46L354.2 480.34L355.8 480.21L357.3 480.09L358.8 479.96L360.4 479.83L361.9 479.71L363.4 479.58L364.9 479.45L366.5 479.32L368 479.18L369.5 479.05L371 478.92L372.6 478.78L374.1 478.65L375.6 478.51L377.1 478.37L378.7 478.23L380.2 478.09L381.7 477.95L383.2 477.81L384.8 477.66L386.3 477.52L387.8 477.37L389.4 477.23L390.9 477.08L392.4 476.93L393.9 476.78L395.5 476.63L397 476.47L398.5 476.32L400 476.16L401.6 476.00L403.1 475.85L404.6 475.69L406.1 475.53L407.7 475.36L409.2 475.20L410.7 475.04L412.2 474.87L413.8 474.70L415.3 474.53L416.8 474.36L418.4 474.19L419.9 474.02L421.4 473.84L422.9 473.67L424.5 473.49L426 473.31L427.5 473.13L429 472.95L430.6 472.76L432.1 472.58L433.6 472.39L435.1 472.20L436.7 472.01L438.2 471.82L439.7 471.63L441.2 471.43L442.8 471.24L444.3 471.04L445.8 470.84L447.4 470.64L448.9 470.43L450.4 470.23L451.9 470.02L453.5 469.81L455 469.60L456.5 469.39L458 469.18L459.6 468.96L461.1 468.74L462.6 468.52L464.1 468.30L465.7 468.07L467.2 467.85L468.7 467.62L470.2 467.39L471.8 467.16L473.3 466.92L474.8 466.69L476.3 466.45L477.9 466.21L479.4 465.97L480.9 465.72L482.5 465.47L484 465.22L485.5 464.97L487 464.72L488.6 464.46L490.1 464.20L491.6 463.94L493.1 463.68L494.7 463.41L496.2 463.15L497.7 462.87L499.2 462.60L500.8 462.33L502.3 462.05L503.8 461.77L505.3 461.48L506.9 461.20L508.4 460.91L509.9 460.62L511.5 460.32L513 460.02L514.5 459.72L516 459.42L517.6 459.11L519.1 458.81L520.6 458.49L522.1 458.18L523.7 457.86L525.2 457.54L526.7 457.22L528.2 456.89L529.8 456.56L531.3 456.23L532.8 455.89L534.3 455.55L535.9 455.21L537.4 454.86L538.9 454.51L540.5 454.16L542 453.80L543.5 453.44L545 453.08L546.6 452.71L548.1 452.34L549.6 451.97L551.1 451.59L552.7 451.21L554.2 450.82L555.7 450.43L557.2 450.04L558.8 449.64L560.3 449.24L561.8 448.84L563.3 448.43L564.9 448.02L566.4 447.60L567.9 447.18L569.5 446.75L571 446.32L572.5 445.89L574 445.45L575.6 445.01L577.1 444.56L578.6 444.11L580.1 443.65L581.7 443.19L583.2 442.72L584.7 442.25L586.2 441.78L587.8 441.30L589.3 440.81L590.8 440.32L592.3 439.83L593.9 439.33L595.4 438.82L596.9 438.31L598.4 437.80L600 437.28L601.5 436.75L603 436.22L604.6 435.68L606.1 435.14L607.6 434.59L609.1 434.04L610.7 433.48L612.2 432.92L613.7 432.35L615.2 431.77L616.8 431.19L618.3 430.60L619.8 430.01L621.3 429.41L622.9 428.80L624.4 428.19L625.9 427.57L627.4 426.94L629 426.31L630.5 425.67L632 425.03L633.6 424.38L635.1 423.72L636.6 423.06L638.1 422.39L639.7 421.71L641.2 421.02L642.7 420.33L644.2 419.63L645.8 418.93L647.3 418.21L648.8 417.49L650.3 416.77L651.9 416.03L653.4 415.29L654.9 414.54L656.4 413.79L658 413.02L659.5 412.25L661 411.47L662.6 410.69L664.1 409.89L665.6 409.09L667.1 408.28L668.7 407.46L670.2 406.64L671.7 405.80L673.2 404.96L674.8 404.11L676.3 403.25L677.8 402.39L679.3 401.51L680.9 400.63L682.4 399.74L683.9 398.84L685.4 397.93L687 397.02L688.5 396.10L690 395.16L691.6 394.22L693.1 393.28L694.6 392.32L696.1 391.35L697.7 390.38L699.2 389.40L700.7 388.41L702.2 387.41L703.8 386.40L705.3 385.39L706.8 384.36L708.3 383.33L709.9 382.29L711.4 381.24L712.9 380.19L714.4 379.12L716 378.05L717.5 376.97L719 375.88L720.5 374.78L722.1 373.68L723.6 372.57L725.1 371.45L726.7 370.32L728.2 369.19L729.7 368.04L731.2 366.90L732.8 365.74L734.3 364.58L735.8 363.41L737.3 362.23L738.9 361.05L740.4 359.86L741.9 358.66L743.4 357.46L745 356.26L746.5 355.04L748 353.83L749.5 352.61L751.1 351.38L752.6 350.15L754.1 348.91L755.7 347.67L757.2 346.43L758.7 345.18" fill="none" stroke="#1840ee" stroke-width="2.3" stroke-dasharray="12.4 12" stroke-linejoin="round"/>
<path d="M181 31.5H245.5" stroke="#3c3c3c" stroke-width="1.9" fill="none"/>
<path d="M181 65.5H244" stroke="#00f000" stroke-width="2" stroke-dasharray="12 13" fill="none"/>
<g font-size="27.9">
<text x="251" y="39.2">Original spectrum</text>
<text x="251" y="73.2">Fitting spectrum diagram</text>
<rect x="182" y="84" width="62" height="31" fill="rgb(181,225,249)" fill-opacity="0.5" stroke="rgb(244,148,151)" stroke-width="2.3" stroke-dasharray="12 13"/>
<text x="251" y="108">-CH</text><text x="299.5" y="115.6" font-size="18.4">3</text><text x="309.8" y="108" font-size="23" font-family='"Noto Serif CJK SC", "Liberation Serif", serif'>（</text><text x="336.4" y="108" font-size="27.9">symmetric</text><text x="456.4" y="108" font-size="23" font-family='"Noto Serif CJK SC", "Liberation Serif", serif'>）</text>
<rect x="182" y="124.5" width="62" height="31.5" fill="rgb(251,189,189)" fill-opacity="0.5" stroke="rgb(146,204,173)" stroke-width="2.3" stroke-dasharray="12 13"/>
<text x="251" y="148.4">-CH</text><text x="299.5" y="156" font-size="18.4">2</text><text x="309.8" y="148.4" font-size="23" font-family='"Noto Serif CJK SC", "Liberation Serif", serif'>（</text><text x="336.4" y="148.4" font-size="27.9">symmetric</text><text x="456.4" y="148.4" font-size="23" font-family='"Noto Serif CJK SC", "Liberation Serif", serif'>）</text>
<rect x="182" y="166" width="62" height="31" fill="rgb(251,173,221)" fill-opacity="0.5" stroke="rgb(194,130,249)" stroke-width="2.3" stroke-dasharray="12 13"/>
<text x="251" y="190.4">-CH</text><text x="307.4" y="190.4" font-size="23" font-family='"Noto Serif CJK SC", "Liberation Serif", serif'>（</text><text x="334" y="190.4" font-size="27.9">symmetric</text><text x="453" y="190.4" font-size="23" font-family='"Noto Serif CJK SC", "Liberation Serif", serif'>）</text>
<rect x="182" y="200.5" width="62" height="31" fill="rgb(243,237,155)" fill-opacity="0.5" stroke="rgb(131,206,246)" stroke-width="2.3" stroke-dasharray="12 13"/>
<text x="251" y="224.3">-CH</text><text x="299.5" y="231.9" font-size="18.4">2</text><text x="309.5" y="224.3" font-size="23" font-family='"Noto Serif CJK SC", "Liberation Serif", serif'>（</text><text x="336.3" y="224.3" font-size="27.9">asymmetric</text><text x="468.3" y="224.3" font-size="23" font-family='"Noto Serif CJK SC", "Liberation Serif", serif'>）</text>
<rect x="182" y="241.5" width="62" height="31" fill="rgb(183,191,249)" fill-opacity="0.5" stroke="rgb(134,155,246)" stroke-width="2.3" stroke-dasharray="12 13"/>
<text x="251" y="265">-CH</text><text x="299.5" y="272.6" font-size="18.4">3</text><text x="309.5" y="265" font-size="23" font-family='"Noto Serif CJK SC", "Liberation Serif", serif'>（</text><text x="336.3" y="265" font-size="27.9">asymmetric</text><text x="468.3" y="265" font-size="23" font-family='"Noto Serif CJK SC", "Liberation Serif", serif'>）</text>
</g>
<g font-size="44.2">
<text x="-22.1" y="648.5" font-size="38" font-family='"Noto Serif CJK SC", "Liberation Serif", serif'>（</text>
<text x="22.2" y="650.5">a</text>
<text x="45" y="648.5" font-size="38" font-family='"Noto Serif CJK SC", "Liberation Serif", serif'>）</text>
<text x="85.2" y="650.5">Before-modified experimental coal sample</text>
</g></g>
<g id="chart-b"><g stroke="#000" stroke-width="1.7" fill="none" stroke-linecap="butt">
<rect x="1058.2" y="10.6" width="615.4" height="496.4"/>
<path d="M1058.2 465.6h4.6M1058.2 424.3h9M1058.2 382.9h4.6M1058.2 341.5h9M1058.2 300.2h4.6M1058.2 258.8h9M1058.2 217.4h4.6M1058.2 176.1h9M1058.2 134.7h4.6M1058.2 93.3h9M1058.2 52h4.6M1135.1 507v-4.6M1212 507v-9M1289 507v-4.6M1365.9 507v-9M1442.8 507v-4.6M1519.8 507v-9M1596.7 507v-4.6"/>
</g>
<g font-size="23.1" fill="#000">
<text x="1047" y="514.4" text-anchor="end">0.00000</text>
<text x="1047" y="431.7" text-anchor="end">0.00004</text>
<text x="1047" y="348.9" text-anchor="end">0.00008</text>
<text x="1047" y="266.2" text-anchor="end">0.00012</text>
<text x="1047" y="183.5" text-anchor="end">0.00016</text>
<text x="1047" y="100.7" text-anchor="end">0.00020</text>
<text x="1047" y="18" text-anchor="end">0.00024</text>
<text x="1058.2" y="535" text-anchor="middle">2800</text>
<text x="1212" y="535" text-anchor="middle">2850</text>
<text x="1365.9" y="535" text-anchor="middle">2900</text>
<text x="1519.8" y="535" text-anchor="middle">2950</text>
<text x="1673.6" y="535" text-anchor="middle">3000</text>
</g>
<text transform="translate(960 258.9) rotate(-90)" text-anchor="middle" font-size="28">Absorbance/%</text>
<g font-size="28">
<text x="1245.1" y="579">Wave number</text>
<text transform="translate(1402.2 581.1) scale(1.3 1)" font-size="34.5">/</text>
<text x="1415.3" y="579">cm</text>
<text x="1449.3" y="567.5" font-size="17.9">-1</text>
</g>
<path d="M1068.7 465.68L1070.2 464.91L1071.7 464.16L1073.3 463.41L1074.8 462.69L1076.4 461.97L1077.9 461.28L1079.4 460.60L1081 459.94L1082.5 459.30L1084 458.68L1085.6 458.07L1087.1 457.49L1088.7 456.93L1090.2 456.40L1091.7 455.88L1093.3 455.39L1094.8 454.92L1096.4 454.47L1097.9 454.05L1099.4 453.64L1101 453.26L1102.5 452.90L1104 452.56L1105.6 452.24L1107.1 451.93L1108.7 451.65L1110.2 451.37L1111.7 451.12L1113.3 450.87L1114.8 450.63L1116.4 450.40L1117.9 450.17L1119.4 449.95L1121 449.72L1122.5 449.49L1124 449.25L1125.6 448.99L1127.1 448.73L1128.7 448.44L1130.2 448.13L1131.7 447.79L1133.3 447.41L1134.8 447.00L1136.4 446.55L1137.9 446.05L1139.4 445.50L1141 444.89L1142.5 444.22L1144 443.48L1145.6 442.67L1147.1 441.78L1148.7 440.82L1150.2 439.77L1151.7 438.63L1153.3 437.39L1154.8 436.06L1156.4 434.64L1157.9 433.11L1159.4 431.47L1161 429.73L1162.5 427.89L1164 425.94L1165.6 423.88L1167.1 421.72L1168.7 419.45L1170.2 417.08L1171.7 414.62L1173.3 412.06L1174.8 409.41L1176.4 406.69L1177.9 403.88L1179.4 401.00L1181 398.07L1182.5 395.08L1184 392.05L1185.6 388.98L1187.1 385.90L1188.7 382.80L1190.2 379.71L1191.7 376.62L1193.3 373.57L1194.8 370.55L1196.4 367.59L1197.9 364.69L1199.4 361.88L1201 359.15L1202.5 356.53L1204 354.02L1205.6 351.64L1207.1 349.41L1208.7 347.32L1210.2 345.40L1211.7 343.64L1213.3 342.06L1214.8 340.67L1216.4 339.47L1217.9 338.46L1219.4 337.66L1221 337.05L1222.5 336.65L1224.1 336.45L1225.6 336.46L1227.1 336.66L1228.7 337.05L1230.2 337.63L1231.7 338.39L1233.3 339.33L1234.8 340.42L1236.4 341.67L1237.9 343.06L1239.4 344.58L1241 346.21L1242.5 347.95L1244.1 349.77L1245.6 351.66L1247.1 353.61L1248.7 355.60L1250.2 357.61L1251.7 359.63L1253.3 361.64L1254.8 363.63L1256.4 365.58L1257.9 367.48L1259.4 369.32L1261 371.07L1262.5 372.74L1264.1 374.30L1265.6 375.75L1267.1 377.07L1268.7 378.27L1270.2 379.33L1271.7 380.25L1273.3 381.02L1274.8 381.64L1276.4 382.11L1277.9 382.43L1279.4 382.59L1281 382.61L1282.5 382.48L1284.1 382.22L1285.6 381.81L1287.1 381.28L1288.7 380.62L1290.2 379.86L1291.7 378.98L1293.3 378.02L1294.8 376.97L1296.4 375.84L1297.9 374.66L1299.4 373.42L1301 372.14L1302.5 370.84L1304.1 369.51L1305.6 368.19L1307.1 366.86L1308.7 365.55L1310.2 364.27L1311.7 363.02L1313.3 361.81L1314.8 360.64L1316.4 359.54L1317.9 358.50L1319.4 357.52L1321 356.61L1322.5 355.78L1324.1 355.02L1325.6 354.33L1327.1 353.72L1328.7 353.18L1330.2 352.70L1331.7 352.30L1333.3 351.95L1334.8 351.65L1336.4 351.40L1337.9 351.19L1339.4 351.01L1341 350.85L1342.5 350.70L1344.1 350.54L1345.6 350.38L1347.1 350.19L1348.7 349.96L1350.2 349.68L1351.7 349.35L1353.3 348.94L1354.8 348.44L1356.4 347.85L1357.9 347.15L1359.4 346.34L1361 345.39L1362.5 344.30L1364.1 343.07L1365.6 341.68L1367.1 340.12L1368.7 338.40L1370.2 336.51L1371.7 334.44L1373.3 332.19L1374.8 329.76L1376.4 327.16L1377.9 324.38L1379.4 321.42L1381 318.30L1382.5 315.01L1384.1 311.57L1385.6 307.98L1387.1 304.26L1388.7 300.42L1390.2 296.47L1391.7 292.42L1393.3 288.29L1394.8 284.10L1396.4 279.86L1397.9 275.59L1399.4 271.31L1401 267.04L1402.5 262.80L1404.1 258.60L1405.6 254.48L1407.1 250.44L1408.7 246.52L1410.2 242.72L1411.7 239.06L1413.3 235.58L1414.8 232.27L1416.4 229.17L1417.9 226.28L1419.4 223.62L1421 221.21L1422.5 219.05L1424.1 217.16L1425.6 215.55L1427.1 214.22L1428.7 213.17L1430.2 212.43L1431.7 211.97L1433.3 211.82L1434.8 211.96L1436.4 212.39L1437.9 213.11L1439.4 214.11L1441 215.39L1442.5 216.93L1444.1 218.73L1445.6 220.77L1447.1 223.03L1448.7 225.52L1450.2 228.20L1451.7 231.06L1453.3 234.09L1454.8 237.27L1456.4 240.58L1457.9 244.00L1459.4 247.51L1461 251.09L1462.5 254.73L1464.1 258.41L1465.6 262.11L1467.1 265.82L1468.7 269.51L1470.2 273.18L1471.7 276.80L1473.3 280.36L1474.8 283.85L1476.4 287.25L1477.9 290.56L1479.4 293.75L1481 296.84L1482.5 299.79L1484.1 302.61L1485.6 305.29L1487.1 307.83L1488.7 310.21L1490.2 312.43L1491.7 314.51L1493.3 316.42L1494.8 318.19L1496.4 319.80L1497.9 321.26L1499.4 322.57L1501 323.75L1502.5 324.76L1504.1 325.64L1505.6 326.38L1507.1 327.00L1508.7 327.48L1510.2 327.86L1511.7 328.13L1513.3 328.31L1514.8 328.39L1516.4 328.40L1517.9 328.33L1519.4 328.20L1521 328.01L1522.5 327.79L1524.1 327.53L1525.6 327.26L1527.1 326.99L1528.7 326.70L1530.2 326.45L1531.8 326.21L1533.3 326.02L1534.8 325.85L1536.4 325.73L1537.9 325.66L1539.4 325.64L1541 325.67L1542.5 325.77L1544.1 325.93L1545.6 326.16L1547.1 326.45L1548.7 326.81L1550.2 327.24L1551.8 327.73L1553.3 328.27L1554.8 328.87L1556.4 329.53L1557.9 330.25L1559.4 331.02L1561 331.85L1562.5 332.73L1564.1 333.66L1565.6 334.63L1567.1 335.66L1568.7 336.72L1570.2 337.82L1571.8 338.96L1573.3 340.13L1574.8 341.33L1576.4 342.55L1577.9 343.78L1579.4 345.03L1581 346.28L1582.5 347.54L1584.1 348.80L1585.6 350.05L1587.1 351.28L1588.7 352.51L1590.2 353.71L1591.8 354.90L1593.3 356.06L1594.8 357.19L1596.4 358.28L1597.9 359.34L1599.4 360.37L1601 361.35L1602.5 362.30L1604.1 363.19L1605.6 364.04L1607.1 364.85L1608.7 365.59L1610.2 366.29L1611.8 366.93L1613.3 367.52L1614.8 368.04L1616.4 368.49L1617.9 368.88L1619.4 369.19L1621 369.44L1622.5 369.61L1624.1 369.72L1625.6 369.75L1627.1 369.72L1628.7 369.61L1630.2 369.45L1631.8 369.22L1633.3 368.93L1634.8 368.58L1636.4 368.18L1637.9 367.71L1639.4 367.19L1641 366.61L1642.5 365.99L1644.1 365.32L1645.6 364.61L1647.1 363.85L1648.7 363.06L1650.2 362.24L1651.8 361.40L1653.3 360.53L1654.8 359.64L1656.4 358.74L1656.7 358.56L1658.2 357.65L1659.8 356.76L1661.3 355.91L1662.8 355.09L1664.4 354.32L1665.9 353.59L1667.4 352.91L1669 352.28" fill="none" stroke="#3c3c3c" stroke-width="2.1" stroke-linejoin="round"/>
<path d="M1068.7 465.68L1070.2 464.91L1071.7 464.16L1073.3 463.41L1074.8 462.69L1076.4 461.97L1077.9 461.28L1079.4 460.60L1081 459.94L1082.5 459.30L1084 458.68L1085.6 458.07L1087.1 457.49L1088.7 456.93L1090.2 456.40L1091.7 455.88L1093.3 455.39L1094.8 454.92L1096.4 454.47L1097.9 454.05L1099.4 453.64L1101 453.26L1102.5 452.90L1104 452.56L1105.6 452.24L1107.1 451.93L1108.7 451.65L1110.2 451.37L1111.7 451.12L1113.3 450.87L1114.8 450.63L1116.4 450.40L1117.9 450.17L1119.4 449.95L1121 449.72L1122.5 449.49L1124 449.25L1125.6 448.99L1127.1 448.73L1128.7 448.44L1130.2 448.13L1131.7 447.79L1133.3 447.41L1134.8 447.00L1136.4 446.55L1137.9 446.05L1139.4 445.50L1141 444.89L1142.5 444.22L1144 443.48L1145.6 442.67L1147.1 441.78L1148.7 440.82L1150.2 439.77L1151.7 438.63L1153.3 437.39L1154.8 436.06L1156.4 434.64L1157.9 433.11L1159.4 431.47L1161 429.73L1162.5 427.89L1164 425.94L1165.6 423.88L1167.1 421.72L1168.7 419.45L1170.2 417.08L1171.7 414.62L1173.3 412.06L1174.8 409.41L1176.4 406.69L1177.9 403.88L1179.4 401.00L1181 398.07L1182.5 395.08L1184 392.05L1185.6 388.98L1187.1 385.90L1188.7 382.80L1190.2 379.71L1191.7 376.62L1193.3 373.57L1194.8 370.55L1196.4 367.59L1197.9 364.69L1199.4 361.88L1201 359.15L1202.5 356.53L1204 354.02L1205.6 351.64L1207.1 349.41L1208.7 347.32L1210.2 345.40L1211.7 343.64L1213.3 342.06L1214.8 340.67L1216.4 339.47L1217.9 338.46L1219.4 337.66L1221 337.05L1222.5 336.65L1224.1 336.45L1225.6 336.46L1227.1 336.66L1228.7 337.05L1230.2 337.63L1231.7 338.39L1233.3 339.33L1234.8 340.42L1236.4 341.67L1237.9 343.06L1239.4 344.58L1241 346.21L1242.5 347.95L1244.1 349.77L1245.6 351.66L1247.1 353.61L1248.7 355.60L1250.2 357.61L1251.7 359.63L1253.3 361.64L1254.8 363.63L1256.4 365.58L1257.9 367.48L1259.4 369.32L1261 371.07L1262.5 372.74L1264.1 374.30L1265.6 375.75L1267.1 377.07L1268.7 378.27L1270.2 379.33L1271.7 380.25L1273.3 381.02L1274.8 381.64L1276.4 382.11L1277.9 382.43L1279.4 382.59L1281 382.61L1282.5 382.48L1284.1 382.22L1285.6 381.81L1287.1 381.28L1288.7 380.62L1290.2 379.86L1291.7 378.98L1293.3 378.02L1294.8 376.97L1296.4 375.84L1297.9 374.66L1299.4 373.42L1301 372.14L1302.5 370.84L1304.1 369.51L1305.6 368.19L1307.1 366.86L1308.7 365.55L1310.2 364.27L1311.7 363.02L1313.3 361.81L1314.8 360.64L1316.4 359.54L1317.9 358.50L1319.4 357.52L1321 356.61L1322.5 355.78L1324.1 355.02L1325.6 354.33L1327.1 353.72L1328.7 353.18L1330.2 352.70L1331.7 352.30L1333.3 351.95L1334.8 351.65L1336.4 351.40L1337.9 351.19L1339.4 351.01L1341 350.85L1342.5 350.70L1344.1 350.54L1345.6 350.38L1347.1 350.19L1348.7 349.96L1350.2 349.68L1351.7 349.35L1353.3 348.94L1354.8 348.44L1356.4 347.85L1357.9 347.15L1359.4 346.34L1361 345.39L1362.5 344.30L1364.1 343.07L1365.6 341.68L1367.1 340.12L1368.7 338.40L1370.2 336.51L1371.7 334.44L1373.3 332.19L1374.8 329.76L1376.4 327.16L1377.9 324.38L1379.4 321.42L1381 318.30L1382.5 315.01L1384.1 311.57L1385.6 307.98L1387.1 304.26L1388.7 300.42L1390.2 296.47L1391.7 292.42L1393.3 288.29L1394.8 284.10L1396.4 279.86L1397.9 275.59L1399.4 271.31L1401 267.04L1402.5 262.80L1404.1 258.60L1405.6 254.48L1407.1 250.44L1408.7 246.52L1410.2 242.72L1411.7 239.06L1413.3 235.58L1414.8 232.27L1416.4 229.17L1417.9 226.28L1419.4 223.62L1421 221.21L1422.5 219.05L1424.1 217.16L1425.6 215.55L1427.1 214.22L1428.7 213.17L1430.2 212.43L1431.7 211.97L1433.3 211.82L1434.8 211.96L1436.4 212.39L1437.9 213.11L1439.4 214.11L1441 215.39L1442.5 216.93L1444.1 218.73L1445.6 220.77L1447.1 223.03L1448.7 225.52L1450.2 228.20L1451.7 231.06L1453.3 234.09L1454.8 237.27L1456.4 240.58L1457.9 244.00L1459.4 247.51L1461 251.09L1462.5 254.73L1464.1 258.41L1465.6 262.11L1467.1 265.82L1468.7 269.51L1470.2 273.18L1471.7 276.80L1473.3 280.36L1474.8 283.85L1476.4 287.25L1477.9 290.56L1479.4 293.75L1481 296.84L1482.5 299.79L1484.1 302.61L1485.6 305.29L1487.1 307.83L1488.7 310.21L1490.2 312.43L1491.7 314.51L1493.3 316.42L1494.8 318.19L1496.4 319.80L1497.9 321.26L1499.4 322.57L1501 323.75L1502.5 324.76L1504.1 325.64L1505.6 326.38L1507.1 327.00L1508.7 327.48L1510.2 327.86L1511.7 328.13L1513.3 328.31L1514.8 328.39L1516.4 328.40L1517.9 328.33L1519.4 328.20L1521 328.01L1522.5 327.79L1524.1 327.53L1525.6 327.26L1527.1 326.99L1528.7 326.70L1530.2 326.45L1531.8 326.21L1533.3 326.02L1534.8 325.85L1536.4 325.73L1537.9 325.66L1539.4 325.64L1541 325.67L1542.5 325.77L1544.1 325.93L1545.6 326.16L1547.1 326.45L1548.7 326.81L1550.2 327.24L1551.8 327.73L1553.3 328.27L1554.8 328.87L1556.4 329.53L1557.9 330.25L1559.4 331.02L1561 331.85L1562.5 332.73L1564.1 333.66L1565.6 334.63L1567.1 335.66L1568.7 336.72L1570.2 337.82L1571.8 338.96L1573.3 340.13L1574.8 341.33L1576.4 342.55L1577.9 343.78L1579.4 345.03L1581 346.28L1582.5 347.54L1584.1 348.80L1585.6 350.05L1587.1 351.28L1588.7 352.51L1590.2 353.71L1591.8 354.90L1593.3 356.06L1594.8 357.19L1596.4 358.28L1597.9 359.34L1599.4 360.37L1601 361.35L1602.5 362.30L1604.1 363.19L1605.6 364.04L1607.1 364.85L1608.7 365.59L1610.2 366.29L1611.8 366.93L1613.3 367.52L1614.8 368.04L1616.4 368.49L1617.9 368.88L1619.4 369.19L1621 369.44L1622.5 369.61L1624.1 369.72L1625.6 369.75L1627.1 369.72L1628.7 369.61L1630.2 369.45L1631.8 369.22L1633.3 368.93L1634.8 368.58L1636.4 368.18L1637.9 367.71L1639.4 367.19L1641 366.61L1642.5 365.99L1644.1 365.32L1645.6 364.61L1647.1 363.85L1648.7 363.06L1650.2 362.24L1651.8 361.40L1653.3 360.53L1654.8 359.64L1656.4 358.74L1656.7 358.56" fill="none" stroke="#00f000" stroke-width="2.1" stroke-dasharray="12.2 12" stroke-linejoin="round"/>
<path d="M1068.7 507L1068.7 465.71L1070.2 464.95L1071.7 464.20L1073.3 463.46L1074.8 462.74L1076.4 462.04L1077.9 461.36L1079.4 460.69L1081 460.04L1082.5 459.42L1084 458.82L1085.6 458.24L1087.1 457.69L1088.7 457.16L1090.2 456.66L1091.7 456.18L1093.3 455.74L1094.8 455.32L1096.4 454.93L1097.9 454.58L1099.4 454.25L1101 453.96L1102.5 453.70L1104 453.47L1105.6 453.27L1107.1 453.11L1108.7 452.99L1110.2 452.89L1111.7 452.83L1113.3 452.81L1114.8 452.82L1116.4 452.87L1117.9 452.94L1119.4 453.06L1121 453.21L1122.5 453.39L1124 453.60L1125.6 453.85L1127.1 454.13L1128.7 454.44L1130.2 454.79L1131.7 455.16L1133.3 455.57L1134.8 456.00L1136.4 456.47L1137.9 456.96L1139.4 457.47L1141 458.02L1142.5 458.58L1144 459.18L1145.6 459.79L1147.1 460.43L1148.7 461.09L1150.2 461.76L1151.7 462.46L1153.3 463.17L1154.8 463.90L1156.4 464.65L1157.9 465.40L1159.4 466.17L1161 466.95L1162.5 467.75L1164 468.55L1165.6 469.35L1167.1 470.17L1168.7 470.99L1170.2 471.81L1171.7 472.64L1173.3 473.47L1174.8 474.30L1176.4 475.13L1177.9 475.96L1179.4 476.78L1181 477.61L1182.5 478.42L1184 479.24L1185.6 480.05L1187.1 480.85L1188.7 481.64L1190.2 482.42L1191.7 483.20L1193.3 483.97L1194.8 484.72L1196.4 485.47L1197.9 486.20L1199.4 486.92L1201 487.63L1202.5 488.32L1204 489.00L1205.6 489.67L1207.1 490.33L1208.7 490.97L1210.2 491.59L1211.7 492.20L1213.3 492.79L1214.8 493.37L1216.4 493.94L1217.9 494.49L1219.4 495.02L1221 495.54L1222.5 496.04L1224.1 496.53L1225.6 497.00L1227.1 497.46L1228.7 497.90L1230.2 498.32L1231.7 498.74L1233.3 499.13L1234.8 499.52L1236.4 499.89L1237.9 500.24L1239.4 500.58L1241 500.91L1242.5 501.23L1244.1 501.53L1245.6 501.82L1247.1 502.10L1248.7 502.36L1250.2 502.61L1251.7 502.86L1253.3 503.09L1254.8 503.31L1256.4 503.52L1257.9 503.72L1259.4 503.91L1261 504.10L1262.5 504.27L1264.1 504.43L1265.6 504.59L1267.1 504.74L1268.7 504.88L1270.2 505.01L1271.7 505.14L1273.3 505.25L1274.8 505.37L1276.4 505.47L1277.9 505.57L1279.4 505.67L1281 505.76L1282.5 505.84L1284.1 505.92L1285.6 505.99L1287.1 506.06L1288.7 506.13L1290.2 506.19L1291.7 506.25L1293.3 506.30L1294.8 506.35L1296.4 506.40L1297.9 506.44L1299.4 506.48L1301 506.52L1302.5 506.56L1304.1 506.59L1305.6 506.62L1307.1 506.65L1308.7 506.68L1310.2 506.70L1311.7 506.73L1313.3 506.75L1314.8 506.77L1316.4 506.79L1317.9 506.80L1319.4 506.82L1321 506.83L1322.5 506.85L1324.1 506.86L1325.6 506.87L1327.1 506.88L1328.7 506.89L1330.2 506.90L1331.7 506.91L1333.3 506.92L1334.8 506.93L1336.4 506.93L1337.9 506.94L1339.4 506.94L1341 506.95L1342.5 506.95L1344.1 506.96L1345.6 506.96L1347.1 506.97L1348.7 506.97L1350.2 506.97L1351.7 506.97L1353.3 506.98L1354.8 506.98L1356.4 506.98L1357.9 506.98L1359.4 506.98L1361 506.99L1362.5 506.99L1364.1 506.99L1365.6 506.99L1367.1 506.99L1368.7 506.99L1370.2 506.99L1371.7 506.99L1373.3 506.99L1374.8 506.99L1376.4 507.00L1377.9 507.00L1379.4 507.00L1381 507.00L1382.5 507.00L1384.1 507.00L1385.6 507.00L1387.1 507.00L1388.7 507.00L1390.2 507.00L1391.7 507.00L1393.3 507.00L1394.8 507.00L1396.4 507.00L1397.9 507.00L1399.4 507.00L1401 507.00L1402.5 507.00L1404.1 507.00L1405.6 507.00L1407.1 507.00L1408.7 507.00L1410.2 507.00L1411.7 507.00L1413.3 507.00L1414.8 507.00L1416.4 507.00L1417.9 507.00L1419.4 507.00L1421 507.00L1422.5 507.00L1424.1 507.00L1425.6 507.00L1427.1 507.00L1428.7 507.00L1430.2 507.00L1431.7 507.00L1433.3 507.00L1434.8 507.00L1436.4 507.00L1437.9 507.00L1439.4 507.00L1441 507.00L1442.5 507.00L1444.1 507.00L1445.6 507.00L1447.1 507.00L1448.7 507.00L1450.2 507.00L1451.7 507.00L1453.3 507.00L1454.8 507.00L1456.4 507.00L1457.9 507.00L1459.4 507.00L1461 507.00L1462.5 507.00L1464.1 507.00L1465.6 507.00L1467.1 507.00L1468.7 507.00L1470.2 507.00L1471.7 507.00L1473.3 507.00L1474.8 507.00L1476.4 507.00L1477.9 507.00L1479.4 507.00L1481 507.00L1482.5 507.00L1484.1 507.00L1485.6 507.00L1487.1 507.00L1488.7 507.00L1490.2 507.00L1491.7 507.00L1493.3 507.00L1494.8 507.00L1496.4 507.00L1497.9 507.00L1499.4 507.00L1501 507.00L1502.5 507.00L1504.1 507.00L1505.6 507.00L1507.1 507.00L1508.7 507.00L1510.2 507.00L1511.7 507.00L1513.3 507.00L1514.8 507.00L1516.4 507.00L1517.9 507.00L1519.4 507.00L1521 507.00L1522.5 507.00L1524.1 507.00L1525.6 507.00L1527.1 507.00L1528.7 507.00L1530.2 507.00L1531.8 507.00L1533.3 507.00L1534.8 507.00L1536.4 507.00L1537.9 507.00L1539.4 507.00L1541 507.00L1542.5 507.00L1544.1 507.00L1545.6 507.00L1547.1 507.00L1548.7 507.00L1550.2 507.00L1551.8 507.00L1553.3 507.00L1554.8 507.00L1556.4 507.00L1557.9 507.00L1559.4 507.00L1561 507.00L1562.5 507.00L1564.1 507.00L1565.6 507.00L1567.1 507.00L1568.7 507.00L1570.2 507.00L1571.8 507.00L1573.3 507.00L1574.8 507.00L1576.4 507.00L1577.9 507.00L1579.4 507.00L1581 507.00L1582.5 507.00L1584.1 507.00L1585.6 507.00L1587.1 507.00L1588.7 507.00L1590.2 507.00L1591.8 507.00L1593.3 507.00L1594.8 507.00L1596.4 507.00L1597.9 507.00L1599.4 507.00L1601 507.00L1602.5 507.00L1604.1 507.00L1605.6 507.00L1607.1 507.00L1608.7 507.00L1610.2 507.00L1611.8 507.00L1613.3 507.00L1614.8 507.00L1616.4 507.00L1617.9 507.00L1619.4 507.00L1621 507.00L1622.5 507.00L1624.1 507.00L1625.6 507.00L1627.1 507.00L1628.7 507.00L1630.2 507.00L1631.8 507.00L1633.3 507.00L1634.8 507.00L1636.4 507.00L1637.9 507.00L1639.4 507.00L1641 507.00L1642.5 507.00L1644.1 507.00L1645.6 507.00L1647.1 507.00L1648.7 507.00L1650.2 507.00L1651.8 507.00L1653.3 507.00L1654.8 507.00L1656.4 507.00L1656.7 507.00L1656.7 507Z" fill="rgb(181,225,249)" fill-opacity="0.5" stroke="none"/>
<path d="M1068.7 465.71L1070.2 464.95L1071.7 464.20L1073.3 463.46L1074.8 462.74L1076.4 462.04L1077.9 461.36L1079.4 460.69L1081 460.04L1082.5 459.42L1084 458.82L1085.6 458.24L1087.1 457.69L1088.7 457.16L1090.2 456.66L1091.7 456.18L1093.3 455.74L1094.8 455.32L1096.4 454.93L1097.9 454.58L1099.4 454.25L1101 453.96L1102.5 453.70L1104 453.47L1105.6 453.27L1107.1 453.11L1108.7 452.99L1110.2 452.89L1111.7 452.83L1113.3 452.81L1114.8 452.82L1116.4 452.87L1117.9 452.94L1119.4 453.06L1121 453.21L1122.5 453.39L1124 453.60L1125.6 453.85L1127.1 454.13L1128.7 454.44L1130.2 454.79L1131.7 455.16L1133.3 455.57L1134.8 456.00L1136.4 456.47L1137.9 456.96L1139.4 457.47L1141 458.02L1142.5 458.58L1144 459.18L1145.6 459.79L1147.1 460.43L1148.7 461.09L1150.2 461.76L1151.7 462.46L1153.3 463.17L1154.8 463.90L1156.4 464.65L1157.9 465.40L1159.4 466.17L1161 466.95L1162.5 467.75L1164 468.55L1165.6 469.35L1167.1 470.17L1168.7 470.99L1170.2 471.81L1171.7 472.64L1173.3 473.47L1174.8 474.30L1176.4 475.13L1177.9 475.96L1179.4 476.78L1181 477.61L1182.5 478.42L1184 479.24L1185.6 480.05L1187.1 480.85L1188.7 481.64L1190.2 482.42L1191.7 483.20L1193.3 483.97L1194.8 484.72L1196.4 485.47L1197.9 486.20L1199.4 486.92L1201 487.63L1202.5 488.32L1204 489.00L1205.6 489.67L1207.1 490.33L1208.7 490.97L1210.2 491.59L1211.7 492.20L1213.3 492.79L1214.8 493.37L1216.4 493.94L1217.9 494.49L1219.4 495.02L1221 495.54L1222.5 496.04L1224.1 496.53L1225.6 497.00L1227.1 497.46L1228.7 497.90L1230.2 498.32L1231.7 498.74L1233.3 499.13L1234.8 499.52L1236.4 499.89L1237.9 500.24L1239.4 500.58L1241 500.91L1242.5 501.23L1244.1 501.53L1245.6 501.82L1247.1 502.10L1248.7 502.36L1250.2 502.61L1251.7 502.86L1253.3 503.09L1254.8 503.31L1256.4 503.52L1257.9 503.72L1259.4 503.91L1261 504.10L1262.5 504.27L1264.1 504.43L1265.6 504.59L1267.1 504.74L1268.7 504.88L1270.2 505.01L1271.7 505.14L1273.3 505.25L1274.8 505.37L1276.4 505.47L1277.9 505.57L1279.4 505.67L1281 505.76L1282.5 505.84L1284.1 505.92L1285.6 505.99L1287.1 506.06L1288.7 506.13L1290.2 506.19L1291.7 506.25L1293.3 506.30L1294.8 506.35L1296.4 506.40L1297.9 506.44L1299.4 506.48L1301 506.52L1302.5 506.56L1304.1 506.59L1305.6 506.62L1307.1 506.65L1308.7 506.68L1310.2 506.70L1311.7 506.73L1313.3 506.75L1314.8 506.77L1316.4 506.79L1317.9 506.80L1319.4 506.82L1321 506.83L1322.5 506.85L1324.1 506.86L1325.6 506.87L1327.1 506.88L1328.7 506.89L1330.2 506.90L1331.7 506.91L1333.3 506.92L1334.8 506.93L1336.4 506.93L1337.9 506.94L1339.4 506.94L1341 506.95L1342.5 506.95L1344.1 506.96L1345.6 506.96L1347.1 506.97L1348.7 506.97L1350.2 506.97L1351.7 506.97L1353.3 506.98L1354.8 506.98L1356.4 506.98L1357.9 506.98L1359.4 506.98L1361 506.99L1362.5 506.99L1364.1 506.99L1365.6 506.99L1367.1 506.99L1368.7 506.99L1370.2 506.99L1371.7 506.99L1373.3 506.99L1374.8 506.99L1376.4 507.00L1377.9 507.00L1379.4 507.00L1381 507.00L1382.5 507.00L1384.1 507.00L1385.6 507.00L1387.1 507.00L1388.7 507.00L1390.2 507.00L1391.7 507.00L1393.3 507.00L1394.8 507.00L1396.4 507.00L1397.9 507.00L1399.4 507.00L1401 507.00L1402.5 507.00L1404.1 507.00L1405.6 507.00L1407.1 507.00L1408.7 507.00L1410.2 507.00L1411.7 507.00L1413.3 507.00L1414.8 507.00L1416.4 507.00L1417.9 507.00L1419.4 507.00L1421 507.00L1422.5 507.00L1424.1 507.00L1425.6 507.00L1427.1 507.00L1428.7 507.00L1430.2 507.00L1431.7 507.00L1433.3 507.00L1434.8 507.00L1436.4 507.00L1437.9 507.00L1439.4 507.00L1441 507.00L1442.5 507.00L1444.1 507.00L1445.6 507.00L1447.1 507.00L1448.7 507.00L1450.2 507.00L1451.7 507.00L1453.3 507.00L1454.8 507.00L1456.4 507.00L1457.9 507.00L1459.4 507.00L1461 507.00L1462.5 507.00L1464.1 507.00L1465.6 507.00L1467.1 507.00L1468.7 507.00L1470.2 507.00L1471.7 507.00L1473.3 507.00L1474.8 507.00L1476.4 507.00L1477.9 507.00L1479.4 507.00L1481 507.00L1482.5 507.00L1484.1 507.00L1485.6 507.00L1487.1 507.00L1488.7 507.00L1490.2 507.00L1491.7 507.00L1493.3 507.00L1494.8 507.00L1496.4 507.00L1497.9 507.00L1499.4 507.00L1501 507.00L1502.5 507.00L1504.1 507.00L1505.6 507.00L1507.1 507.00L1508.7 507.00L1510.2 507.00L1511.7 507.00L1513.3 507.00L1514.8 507.00L1516.4 507.00L1517.9 507.00L1519.4 507.00L1521 507.00L1522.5 507.00L1524.1 507.00L1525.6 507.00L1527.1 507.00L1528.7 507.00L1530.2 507.00L1531.8 507.00L1533.3 507.00L1534.8 507.00L1536.4 507.00L1537.9 507.00L1539.4 507.00L1541 507.00L1542.5 507.00L1544.1 507.00L1545.6 507.00L1547.1 507.00L1548.7 507.00L1550.2 507.00L1551.8 507.00L1553.3 507.00L1554.8 507.00L1556.4 507.00L1557.9 507.00L1559.4 507.00L1561 507.00L1562.5 507.00L1564.1 507.00L1565.6 507.00L1567.1 507.00L1568.7 507.00L1570.2 507.00L1571.8 507.00L1573.3 507.00L1574.8 507.00L1576.4 507.00L1577.9 507.00L1579.4 507.00L1581 507.00L1582.5 507.00L1584.1 507.00L1585.6 507.00L1587.1 507.00L1588.7 507.00L1590.2 507.00L1591.8 507.00L1593.3 507.00L1594.8 507.00L1596.4 507.00L1597.9 507.00L1599.4 507.00L1601 507.00L1602.5 507.00L1604.1 507.00L1605.6 507.00L1607.1 507.00L1608.7 507.00L1610.2 507.00L1611.8 507.00L1613.3 507.00L1614.8 507.00L1616.4 507.00L1617.9 507.00L1619.4 507.00L1621 507.00L1622.5 507.00L1624.1 507.00L1625.6 507.00L1627.1 507.00L1628.7 507.00L1630.2 507.00L1631.8 507.00L1633.3 507.00L1634.8 507.00L1636.4 507.00L1637.9 507.00L1639.4 507.00L1641 507.00L1642.5 507.00L1644.1 507.00L1645.6 507.00L1647.1 507.00L1648.7 507.00L1650.2 507.00L1651.8 507.00L1653.3 507.00L1654.8 507.00L1656.4 507.00L1656.7 507.00" fill="none" stroke="#ea3338" stroke-width="2.3" stroke-dasharray="12.4 12" stroke-linejoin="round"/>
<path d="M1068.7 507L1068.7 506.97L1070.2 506.97L1071.7 506.96L1073.3 506.95L1074.8 506.94L1076.4 506.93L1077.9 506.92L1079.4 506.91L1081 506.89L1082.5 506.88L1084 506.86L1085.6 506.83L1087.1 506.81L1088.7 506.78L1090.2 506.74L1091.7 506.70L1093.3 506.65L1094.8 506.60L1096.4 506.54L1097.9 506.47L1099.4 506.39L1101 506.30L1102.5 506.20L1104 506.09L1105.6 505.96L1107.1 505.82L1108.7 505.66L1110.2 505.48L1111.7 505.28L1113.3 505.06L1114.8 504.81L1116.4 504.53L1117.9 504.23L1119.4 503.89L1121 503.51L1122.5 503.10L1124 502.64L1125.6 502.14L1127.1 501.60L1128.7 501.00L1130.2 500.34L1131.7 499.63L1133.3 498.85L1134.8 498.00L1136.4 497.09L1137.9 496.10L1139.4 495.03L1141 493.88L1142.5 492.64L1144 491.31L1145.6 489.88L1147.1 488.36L1148.7 486.74L1150.2 485.01L1151.7 483.18L1153.3 481.24L1154.8 479.18L1156.4 477.01L1157.9 474.73L1159.4 472.33L1161 469.81L1162.5 467.18L1164 464.43L1165.6 461.58L1167.1 458.61L1168.7 455.53L1170.2 452.35L1171.7 449.07L1173.3 445.69L1174.8 442.23L1176.4 438.69L1177.9 435.08L1179.4 431.40L1181 427.66L1182.5 423.89L1184 420.07L1185.6 416.24L1187.1 412.39L1188.7 408.55L1190.2 404.73L1191.7 400.93L1193.3 397.18L1194.8 393.48L1196.4 389.86L1197.9 386.32L1199.4 382.89L1201 379.58L1202.5 376.39L1204 373.35L1205.6 370.47L1207.1 367.76L1208.7 365.23L1210.2 362.90L1211.7 360.78L1213.3 358.88L1214.8 357.20L1216.4 355.76L1217.9 354.56L1219.4 353.61L1221 352.92L1222.5 352.48L1224.1 352.29L1225.6 352.37L1227.1 352.71L1228.7 353.30L1230.2 354.15L1231.7 355.25L1233.3 356.60L1234.8 358.18L1236.4 360.00L1237.9 362.03L1239.4 364.28L1241 366.73L1242.5 369.36L1244.1 372.18L1245.6 375.16L1247.1 378.28L1248.7 381.55L1250.2 384.94L1251.7 388.43L1253.3 392.02L1254.8 395.69L1256.4 399.42L1257.9 403.20L1259.4 407.02L1261 410.86L1262.5 414.70L1264.1 418.54L1265.6 422.36L1267.1 426.16L1268.7 429.91L1270.2 433.61L1271.7 437.25L1273.3 440.83L1274.8 444.32L1276.4 447.73L1277.9 451.05L1279.4 454.27L1281 457.39L1282.5 460.40L1284.1 463.30L1285.6 466.10L1287.1 468.77L1288.7 471.33L1290.2 473.78L1291.7 476.11L1293.3 478.33L1294.8 480.43L1296.4 482.42L1297.9 484.29L1299.4 486.06L1301 487.73L1302.5 489.29L1304.1 490.75L1305.6 492.12L1307.1 493.39L1308.7 494.58L1310.2 495.68L1311.7 496.70L1313.3 497.65L1314.8 498.52L1316.4 499.32L1317.9 500.06L1319.4 500.74L1321 501.36L1322.5 501.93L1324.1 502.45L1325.6 502.92L1327.1 503.35L1328.7 503.74L1330.2 504.10L1331.7 504.41L1333.3 504.70L1334.8 504.96L1336.4 505.19L1337.9 505.40L1339.4 505.59L1341 505.76L1342.5 505.91L1344.1 506.04L1345.6 506.16L1347.1 506.26L1348.7 506.36L1350.2 506.44L1351.7 506.51L1353.3 506.58L1354.8 506.63L1356.4 506.68L1357.9 506.72L1359.4 506.76L1361 506.79L1362.5 506.82L1364.1 506.85L1365.6 506.87L1367.1 506.89L1368.7 506.90L1370.2 506.92L1371.7 506.93L1373.3 506.94L1374.8 506.95L1376.4 506.96L1377.9 506.96L1379.4 506.97L1381 506.97L1382.5 506.98L1384.1 506.98L1385.6 506.98L1387.1 506.99L1388.7 506.99L1390.2 506.99L1391.7 506.99L1393.3 506.99L1394.8 506.99L1396.4 507.00L1397.9 507.00L1399.4 507.00L1401 507.00L1402.5 507.00L1404.1 507.00L1405.6 507.00L1407.1 507.00L1408.7 507.00L1410.2 507.00L1411.7 507.00L1413.3 507.00L1414.8 507.00L1416.4 507.00L1417.9 507.00L1419.4 507.00L1421 507.00L1422.5 507.00L1424.1 507.00L1425.6 507.00L1427.1 507.00L1428.7 507.00L1430.2 507.00L1431.7 507.00L1433.3 507.00L1434.8 507.00L1436.4 507.00L1437.9 507.00L1439.4 507.00L1441 507.00L1442.5 507.00L1444.1 507.00L1445.6 507.00L1447.1 507.00L1448.7 507.00L1450.2 507.00L1451.7 507.00L1453.3 507.00L1454.8 507.00L1456.4 507.00L1457.9 507.00L1459.4 507.00L1461 507.00L1462.5 507.00L1464.1 507.00L1465.6 507.00L1467.1 507.00L1468.7 507.00L1470.2 507.00L1471.7 507.00L1473.3 507.00L1474.8 507.00L1476.4 507.00L1477.9 507.00L1479.4 507.00L1481 507.00L1482.5 507.00L1484.1 507.00L1485.6 507.00L1487.1 507.00L1488.7 507.00L1490.2 507.00L1491.7 507.00L1493.3 507.00L1494.8 507.00L1496.4 507.00L1497.9 507.00L1499.4 507.00L1501 507.00L1502.5 507.00L1504.1 507.00L1505.6 507.00L1507.1 507.00L1508.7 507.00L1510.2 507.00L1511.7 507.00L1513.3 507.00L1514.8 507.00L1516.4 507.00L1517.9 507.00L1519.4 507.00L1521 507.00L1522.5 507.00L1524.1 507.00L1525.6 507.00L1527.1 507.00L1528.7 507.00L1530.2 507.00L1531.8 507.00L1533.3 507.00L1534.8 507.00L1536.4 507.00L1537.9 507.00L1539.4 507.00L1541 507.00L1542.5 507.00L1544.1 507.00L1545.6 507.00L1547.1 507.00L1548.7 507.00L1550.2 507.00L1551.8 507.00L1553.3 507.00L1554.8 507.00L1556.4 507.00L1557.9 507.00L1559.4 507.00L1561 507.00L1562.5 507.00L1564.1 507.00L1565.6 507.00L1567.1 507.00L1568.7 507.00L1570.2 507.00L1571.8 507.00L1573.3 507.00L1574.8 507.00L1576.4 507.00L1577.9 507.00L1579.4 507.00L1581 507.00L1582.5 507.00L1584.1 507.00L1585.6 507.00L1587.1 507.00L1588.7 507.00L1590.2 507.00L1591.8 507.00L1593.3 507.00L1594.8 507.00L1596.4 507.00L1597.9 507.00L1599.4 507.00L1601 507.00L1602.5 507.00L1604.1 507.00L1605.6 507.00L1607.1 507.00L1608.7 507.00L1610.2 507.00L1611.8 507.00L1613.3 507.00L1614.8 507.00L1616.4 507.00L1617.9 507.00L1619.4 507.00L1621 507.00L1622.5 507.00L1624.1 507.00L1625.6 507.00L1627.1 507.00L1628.7 507.00L1630.2 507.00L1631.8 507.00L1633.3 507.00L1634.8 507.00L1636.4 507.00L1637.9 507.00L1639.4 507.00L1641 507.00L1642.5 507.00L1644.1 507.00L1645.6 507.00L1647.1 507.00L1648.7 507.00L1650.2 507.00L1651.8 507.00L1653.3 507.00L1654.8 507.00L1656.4 507.00L1656.7 507.00L1656.7 507Z" fill="rgb(251,189,189)" fill-opacity="0.5" stroke="none"/>
<path d="M1068.7 506.97L1070.2 506.97L1071.7 506.96L1073.3 506.95L1074.8 506.94L1076.4 506.93L1077.9 506.92L1079.4 506.91L1081 506.89L1082.5 506.88L1084 506.86L1085.6 506.83L1087.1 506.81L1088.7 506.78L1090.2 506.74L1091.7 506.70L1093.3 506.65L1094.8 506.60L1096.4 506.54L1097.9 506.47L1099.4 506.39L1101 506.30L1102.5 506.20L1104 506.09L1105.6 505.96L1107.1 505.82L1108.7 505.66L1110.2 505.48L1111.7 505.28L1113.3 505.06L1114.8 504.81L1116.4 504.53L1117.9 504.23L1119.4 503.89L1121 503.51L1122.5 503.10L1124 502.64L1125.6 502.14L1127.1 501.60L1128.7 501.00L1130.2 500.34L1131.7 499.63L1133.3 498.85L1134.8 498.00L1136.4 497.09L1137.9 496.10L1139.4 495.03L1141 493.88L1142.5 492.64L1144 491.31L1145.6 489.88L1147.1 488.36L1148.7 486.74L1150.2 485.01L1151.7 483.18L1153.3 481.24L1154.8 479.18L1156.4 477.01L1157.9 474.73L1159.4 472.33L1161 469.81L1162.5 467.18L1164 464.43L1165.6 461.58L1167.1 458.61L1168.7 455.53L1170.2 452.35L1171.7 449.07L1173.3 445.69L1174.8 442.23L1176.4 438.69L1177.9 435.08L1179.4 431.40L1181 427.66L1182.5 423.89L1184 420.07L1185.6 416.24L1187.1 412.39L1188.7 408.55L1190.2 404.73L1191.7 400.93L1193.3 397.18L1194.8 393.48L1196.4 389.86L1197.9 386.32L1199.4 382.89L1201 379.58L1202.5 376.39L1204 373.35L1205.6 370.47L1207.1 367.76L1208.7 365.23L1210.2 362.90L1211.7 360.78L1213.3 358.88L1214.8 357.20L1216.4 355.76L1217.9 354.56L1219.4 353.61L1221 352.92L1222.5 352.48L1224.1 352.29L1225.6 352.37L1227.1 352.71L1228.7 353.30L1230.2 354.15L1231.7 355.25L1233.3 356.60L1234.8 358.18L1236.4 360.00L1237.9 362.03L1239.4 364.28L1241 366.73L1242.5 369.36L1244.1 372.18L1245.6 375.16L1247.1 378.28L1248.7 381.55L1250.2 384.94L1251.7 388.43L1253.3 392.02L1254.8 395.69L1256.4 399.42L1257.9 403.20L1259.4 407.02L1261 410.86L1262.5 414.70L1264.1 418.54L1265.6 422.36L1267.1 426.16L1268.7 429.91L1270.2 433.61L1271.7 437.25L1273.3 440.83L1274.8 444.32L1276.4 447.73L1277.9 451.05L1279.4 454.27L1281 457.39L1282.5 460.40L1284.1 463.30L1285.6 466.10L1287.1 468.77L1288.7 471.33L1290.2 473.78L1291.7 476.11L1293.3 478.33L1294.8 480.43L1296.4 482.42L1297.9 484.29L1299.4 486.06L1301 487.73L1302.5 489.29L1304.1 490.75L1305.6 492.12L1307.1 493.39L1308.7 494.58L1310.2 495.68L1311.7 496.70L1313.3 497.65L1314.8 498.52L1316.4 499.32L1317.9 500.06L1319.4 500.74L1321 501.36L1322.5 501.93L1324.1 502.45L1325.6 502.92L1327.1 503.35L1328.7 503.74L1330.2 504.10L1331.7 504.41L1333.3 504.70L1334.8 504.96L1336.4 505.19L1337.9 505.40L1339.4 505.59L1341 505.76L1342.5 505.91L1344.1 506.04L1345.6 506.16L1347.1 506.26L1348.7 506.36L1350.2 506.44L1351.7 506.51L1353.3 506.58L1354.8 506.63L1356.4 506.68L1357.9 506.72L1359.4 506.76L1361 506.79L1362.5 506.82L1364.1 506.85L1365.6 506.87L1367.1 506.89L1368.7 506.90L1370.2 506.92L1371.7 506.93L1373.3 506.94L1374.8 506.95L1376.4 506.96L1377.9 506.96L1379.4 506.97L1381 506.97L1382.5 506.98L1384.1 506.98L1385.6 506.98L1387.1 506.99L1388.7 506.99L1390.2 506.99L1391.7 506.99L1393.3 506.99L1394.8 506.99L1396.4 507.00L1397.9 507.00L1399.4 507.00L1401 507.00L1402.5 507.00L1404.1 507.00L1405.6 507.00L1407.1 507.00L1408.7 507.00L1410.2 507.00L1411.7 507.00L1413.3 507.00L1414.8 507.00L1416.4 507.00L1417.9 507.00L1419.4 507.00L1421 507.00L1422.5 507.00L1424.1 507.00L1425.6 507.00L1427.1 507.00L1428.7 507.00L1430.2 507.00L1431.7 507.00L1433.3 507.00L1434.8 507.00L1436.4 507.00L1437.9 507.00L1439.4 507.00L1441 507.00L1442.5 507.00L1444.1 507.00L1445.6 507.00L1447.1 507.00L1448.7 507.00L1450.2 507.00L1451.7 507.00L1453.3 507.00L1454.8 507.00L1456.4 507.00L1457.9 507.00L1459.4 507.00L1461 507.00L1462.5 507.00L1464.1 507.00L1465.6 507.00L1467.1 507.00L1468.7 507.00L1470.2 507.00L1471.7 507.00L1473.3 507.00L1474.8 507.00L1476.4 507.00L1477.9 507.00L1479.4 507.00L1481 507.00L1482.5 507.00L1484.1 507.00L1485.6 507.00L1487.1 507.00L1488.7 507.00L1490.2 507.00L1491.7 507.00L1493.3 507.00L1494.8 507.00L1496.4 507.00L1497.9 507.00L1499.4 507.00L1501 507.00L1502.5 507.00L1504.1 507.00L1505.6 507.00L1507.1 507.00L1508.7 507.00L1510.2 507.00L1511.7 507.00L1513.3 507.00L1514.8 507.00L1516.4 507.00L1517.9 507.00L1519.4 507.00L1521 507.00L1522.5 507.00L1524.1 507.00L1525.6 507.00L1527.1 507.00L1528.7 507.00L1530.2 507.00L1531.8 507.00L1533.3 507.00L1534.8 507.00L1536.4 507.00L1537.9 507.00L1539.4 507.00L1541 507.00L1542.5 507.00L1544.1 507.00L1545.6 507.00L1547.1 507.00L1548.7 507.00L1550.2 507.00L1551.8 507.00L1553.3 507.00L1554.8 507.00L1556.4 507.00L1557.9 507.00L1559.4 507.00L1561 507.00L1562.5 507.00L1564.1 507.00L1565.6 507.00L1567.1 507.00L1568.7 507.00L1570.2 507.00L1571.8 507.00L1573.3 507.00L1574.8 507.00L1576.4 507.00L1577.9 507.00L1579.4 507.00L1581 507.00L1582.5 507.00L1584.1 507.00L1585.6 507.00L1587.1 507.00L1588.7 507.00L1590.2 507.00L1591.8 507.00L1593.3 507.00L1594.8 507.00L1596.4 507.00L1597.9 507.00L1599.4 507.00L1601 507.00L1602.5 507.00L1604.1 507.00L1605.6 507.00L1607.1 507.00L1608.7 507.00L1610.2 507.00L1611.8 507.00L1613.3 507.00L1614.8 507.00L1616.4 507.00L1617.9 507.00L1619.4 507.00L1621 507.00L1622.5 507.00L1624.1 507.00L1625.6 507.00L1627.1 507.00L1628.7 507.00L1630.2 507.00L1631.8 507.00L1633.3 507.00L1634.8 507.00L1636.4 507.00L1637.9 507.00L1639.4 507.00L1641 507.00L1642.5 507.00L1644.1 507.00L1645.6 507.00L1647.1 507.00L1648.7 507.00L1650.2 507.00L1651.8 507.00L1653.3 507.00L1654.8 507.00L1656.4 507.00L1656.7 507.00" fill="none" stroke="#2f9e62" stroke-width="2.3" stroke-dasharray="12.4 12" stroke-linejoin="round"/>
<path d="M1068.7 507L1068.7 507.00L1070.2 507.00L1071.7 507.00L1073.3 507.00L1074.8 507.00L1076.4 507.00L1077.9 507.00L1079.4 507.00L1081 507.00L1082.5 507.00L1084 507.00L1085.6 507.00L1087.1 507.00L1088.7 507.00L1090.2 507.00L1091.7 507.00L1093.3 507.00L1094.8 507.00L1096.4 507.00L1097.9 507.00L1099.4 507.00L1101 507.00L1102.5 507.00L1104 507.00L1105.6 507.00L1107.1 507.00L1108.7 507.00L1110.2 507.00L1111.7 507.00L1113.3 507.00L1114.8 507.00L1116.4 507.00L1117.9 507.00L1119.4 507.00L1121 507.00L1122.5 507.00L1124 507.00L1125.6 507.00L1127.1 507.00L1128.7 507.00L1130.2 507.00L1131.7 507.00L1133.3 507.00L1134.8 507.00L1136.4 507.00L1137.9 507.00L1139.4 507.00L1141 507.00L1142.5 507.00L1144 507.00L1145.6 507.00L1147.1 507.00L1148.7 506.99L1150.2 506.99L1151.7 506.99L1153.3 506.99L1154.8 506.99L1156.4 506.99L1157.9 506.98L1159.4 506.98L1161 506.98L1162.5 506.97L1164 506.97L1165.6 506.96L1167.1 506.96L1168.7 506.95L1170.2 506.94L1171.7 506.93L1173.3 506.92L1174.8 506.91L1176.4 506.89L1177.9 506.88L1179.4 506.86L1181 506.84L1182.5 506.81L1184 506.78L1185.6 506.75L1187.1 506.72L1188.7 506.67L1190.2 506.63L1191.7 506.57L1193.3 506.51L1194.8 506.45L1196.4 506.37L1197.9 506.29L1199.4 506.19L1201 506.09L1202.5 505.97L1204 505.84L1205.6 505.69L1207.1 505.52L1208.7 505.34L1210.2 505.14L1211.7 504.92L1213.3 504.68L1214.8 504.41L1216.4 504.11L1217.9 503.79L1219.4 503.43L1221 503.04L1222.5 502.62L1224.1 502.16L1225.6 501.66L1227.1 501.11L1228.7 500.52L1230.2 499.88L1231.7 499.19L1233.3 498.45L1234.8 497.65L1236.4 496.79L1237.9 495.87L1239.4 494.88L1241 493.83L1242.5 492.71L1244.1 491.51L1245.6 490.25L1247.1 488.91L1248.7 487.49L1250.2 485.99L1251.7 484.41L1253.3 482.76L1254.8 481.02L1256.4 479.20L1257.9 477.29L1259.4 475.31L1261 473.25L1262.5 471.10L1264.1 468.88L1265.6 466.59L1267.1 464.22L1268.7 461.79L1270.2 459.29L1271.7 456.73L1273.3 454.12L1274.8 451.46L1276.4 448.75L1277.9 446.01L1279.4 443.23L1281 440.44L1282.5 437.62L1284.1 434.80L1285.6 431.99L1287.1 429.18L1288.7 426.39L1290.2 423.63L1291.7 420.92L1293.3 418.25L1294.8 415.64L1296.4 413.10L1297.9 410.63L1299.4 408.26L1301 405.98L1302.5 403.82L1304.1 401.76L1305.6 399.84L1307.1 398.05L1308.7 396.40L1310.2 394.89L1311.7 393.55L1313.3 392.36L1314.8 391.35L1316.4 390.50L1317.9 389.83L1319.4 389.34L1321 389.03L1322.5 388.90L1324.1 388.96L1325.6 389.19L1327.1 389.61L1328.7 390.21L1330.2 390.99L1331.7 391.94L1333.3 393.06L1334.8 394.34L1336.4 395.78L1337.9 397.37L1339.4 399.11L1341 400.98L1342.5 402.98L1344.1 405.10L1345.6 407.34L1347.1 409.67L1348.7 412.10L1350.2 414.61L1351.7 417.20L1353.3 419.84L1354.8 422.54L1356.4 425.29L1357.9 428.06L1359.4 430.86L1361 433.68L1362.5 436.50L1364.1 439.31L1365.6 442.12L1367.1 444.90L1368.7 447.66L1370.2 450.38L1371.7 453.06L1373.3 455.70L1374.8 458.28L1376.4 460.80L1377.9 463.26L1379.4 465.65L1381 467.98L1382.5 470.22L1384.1 472.40L1385.6 474.49L1387.1 476.51L1388.7 478.44L1390.2 480.30L1391.7 482.07L1393.3 483.76L1394.8 485.37L1396.4 486.90L1397.9 488.35L1399.4 489.72L1401 491.02L1402.5 492.24L1404.1 493.39L1405.6 494.47L1407.1 495.48L1408.7 496.43L1410.2 497.31L1411.7 498.13L1413.3 498.90L1414.8 499.61L1416.4 500.27L1417.9 500.88L1419.4 501.44L1421 501.96L1422.5 502.44L1424.1 502.88L1425.6 503.28L1427.1 503.65L1428.7 503.99L1430.2 504.29L1431.7 504.57L1433.3 504.83L1434.8 505.06L1436.4 505.27L1437.9 505.45L1439.4 505.62L1441 505.78L1442.5 505.92L1444.1 506.04L1445.6 506.15L1447.1 506.25L1448.7 506.34L1450.2 506.42L1451.7 506.49L1453.3 506.55L1454.8 506.61L1456.4 506.66L1457.9 506.70L1459.4 506.74L1461 506.77L1462.5 506.80L1464.1 506.83L1465.6 506.85L1467.1 506.87L1468.7 506.89L1470.2 506.90L1471.7 506.92L1473.3 506.93L1474.8 506.94L1476.4 506.95L1477.9 506.96L1479.4 506.96L1481 506.97L1482.5 506.97L1484.1 506.98L1485.6 506.98L1487.1 506.98L1488.7 506.99L1490.2 506.99L1491.7 506.99L1493.3 506.99L1494.8 506.99L1496.4 506.99L1497.9 506.99L1499.4 507.00L1501 507.00L1502.5 507.00L1504.1 507.00L1505.6 507.00L1507.1 507.00L1508.7 507.00L1510.2 507.00L1511.7 507.00L1513.3 507.00L1514.8 507.00L1516.4 507.00L1517.9 507.00L1519.4 507.00L1521 507.00L1522.5 507.00L1524.1 507.00L1525.6 507.00L1527.1 507.00L1528.7 507.00L1530.2 507.00L1531.8 507.00L1533.3 507.00L1534.8 507.00L1536.4 507.00L1537.9 507.00L1539.4 507.00L1541 507.00L1542.5 507.00L1544.1 507.00L1545.6 507.00L1547.1 507.00L1548.7 507.00L1550.2 507.00L1551.8 507.00L1553.3 507.00L1554.8 507.00L1556.4 507.00L1557.9 507.00L1559.4 507.00L1561 507.00L1562.5 507.00L1564.1 507.00L1565.6 507.00L1567.1 507.00L1568.7 507.00L1570.2 507.00L1571.8 507.00L1573.3 507.00L1574.8 507.00L1576.4 507.00L1577.9 507.00L1579.4 507.00L1581 507.00L1582.5 507.00L1584.1 507.00L1585.6 507.00L1587.1 507.00L1588.7 507.00L1590.2 507.00L1591.8 507.00L1593.3 507.00L1594.8 507.00L1596.4 507.00L1597.9 507.00L1599.4 507.00L1601 507.00L1602.5 507.00L1604.1 507.00L1605.6 507.00L1607.1 507.00L1608.7 507.00L1610.2 507.00L1611.8 507.00L1613.3 507.00L1614.8 507.00L1616.4 507.00L1617.9 507.00L1619.4 507.00L1621 507.00L1622.5 507.00L1624.1 507.00L1625.6 507.00L1627.1 507.00L1628.7 507.00L1630.2 507.00L1631.8 507.00L1633.3 507.00L1634.8 507.00L1636.4 507.00L1637.9 507.00L1639.4 507.00L1641 507.00L1642.5 507.00L1644.1 507.00L1645.6 507.00L1647.1 507.00L1648.7 507.00L1650.2 507.00L1651.8 507.00L1653.3 507.00L1654.8 507.00L1656.4 507.00L1656.7 507.00L1656.7 507Z" fill="rgb(251,173,221)" fill-opacity="0.5" stroke="none"/>
<path d="M1068.7 507.00L1070.2 507.00L1071.7 507.00L1073.3 507.00L1074.8 507.00L1076.4 507.00L1077.9 507.00L1079.4 507.00L1081 507.00L1082.5 507.00L1084 507.00L1085.6 507.00L1087.1 507.00L1088.7 507.00L1090.2 507.00L1091.7 507.00L1093.3 507.00L1094.8 507.00L1096.4 507.00L1097.9 507.00L1099.4 507.00L1101 507.00L1102.5 507.00L1104 507.00L1105.6 507.00L1107.1 507.00L1108.7 507.00L1110.2 507.00L1111.7 507.00L1113.3 507.00L1114.8 507.00L1116.4 507.00L1117.9 507.00L1119.4 507.00L1121 507.00L1122.5 507.00L1124 507.00L1125.6 507.00L1127.1 507.00L1128.7 507.00L1130.2 507.00L1131.7 507.00L1133.3 507.00L1134.8 507.00L1136.4 507.00L1137.9 507.00L1139.4 507.00L1141 507.00L1142.5 507.00L1144 507.00L1145.6 507.00L1147.1 507.00L1148.7 506.99L1150.2 506.99L1151.7 506.99L1153.3 506.99L1154.8 506.99L1156.4 506.99L1157.9 506.98L1159.4 506.98L1161 506.98L1162.5 506.97L1164 506.97L1165.6 506.96L1167.1 506.96L1168.7 506.95L1170.2 506.94L1171.7 506.93L1173.3 506.92L1174.8 506.91L1176.4 506.89L1177.9 506.88L1179.4 506.86L1181 506.84L1182.5 506.81L1184 506.78L1185.6 506.75L1187.1 506.72L1188.7 506.67L1190.2 506.63L1191.7 506.57L1193.3 506.51L1194.8 506.45L1196.4 506.37L1197.9 506.29L1199.4 506.19L1201 506.09L1202.5 505.97L1204 505.84L1205.6 505.69L1207.1 505.52L1208.7 505.34L1210.2 505.14L1211.7 504.92L1213.3 504.68L1214.8 504.41L1216.4 504.11L1217.9 503.79L1219.4 503.43L1221 503.04L1222.5 502.62L1224.1 502.16L1225.6 501.66L1227.1 501.11L1228.7 500.52L1230.2 499.88L1231.7 499.19L1233.3 498.45L1234.8 497.65L1236.4 496.79L1237.9 495.87L1239.4 494.88L1241 493.83L1242.5 492.71L1244.1 491.51L1245.6 490.25L1247.1 488.91L1248.7 487.49L1250.2 485.99L1251.7 484.41L1253.3 482.76L1254.8 481.02L1256.4 479.20L1257.9 477.29L1259.4 475.31L1261 473.25L1262.5 471.10L1264.1 468.88L1265.6 466.59L1267.1 464.22L1268.7 461.79L1270.2 459.29L1271.7 456.73L1273.3 454.12L1274.8 451.46L1276.4 448.75L1277.9 446.01L1279.4 443.23L1281 440.44L1282.5 437.62L1284.1 434.80L1285.6 431.99L1287.1 429.18L1288.7 426.39L1290.2 423.63L1291.7 420.92L1293.3 418.25L1294.8 415.64L1296.4 413.10L1297.9 410.63L1299.4 408.26L1301 405.98L1302.5 403.82L1304.1 401.76L1305.6 399.84L1307.1 398.05L1308.7 396.40L1310.2 394.89L1311.7 393.55L1313.3 392.36L1314.8 391.35L1316.4 390.50L1317.9 389.83L1319.4 389.34L1321 389.03L1322.5 388.90L1324.1 388.96L1325.6 389.19L1327.1 389.61L1328.7 390.21L1330.2 390.99L1331.7 391.94L1333.3 393.06L1334.8 394.34L1336.4 395.78L1337.9 397.37L1339.4 399.11L1341 400.98L1342.5 402.98L1344.1 405.10L1345.6 407.34L1347.1 409.67L1348.7 412.10L1350.2 414.61L1351.7 417.20L1353.3 419.84L1354.8 422.54L1356.4 425.29L1357.9 428.06L1359.4 430.86L1361 433.68L1362.5 436.50L1364.1 439.31L1365.6 442.12L1367.1 444.90L1368.7 447.66L1370.2 450.38L1371.7 453.06L1373.3 455.70L1374.8 458.28L1376.4 460.80L1377.9 463.26L1379.4 465.65L1381 467.98L1382.5 470.22L1384.1 472.40L1385.6 474.49L1387.1 476.51L1388.7 478.44L1390.2 480.30L1391.7 482.07L1393.3 483.76L1394.8 485.37L1396.4 486.90L1397.9 488.35L1399.4 489.72L1401 491.02L1402.5 492.24L1404.1 493.39L1405.6 494.47L1407.1 495.48L1408.7 496.43L1410.2 497.31L1411.7 498.13L1413.3 498.90L1414.8 499.61L1416.4 500.27L1417.9 500.88L1419.4 501.44L1421 501.96L1422.5 502.44L1424.1 502.88L1425.6 503.28L1427.1 503.65L1428.7 503.99L1430.2 504.29L1431.7 504.57L1433.3 504.83L1434.8 505.06L1436.4 505.27L1437.9 505.45L1439.4 505.62L1441 505.78L1442.5 505.92L1444.1 506.04L1445.6 506.15L1447.1 506.25L1448.7 506.34L1450.2 506.42L1451.7 506.49L1453.3 506.55L1454.8 506.61L1456.4 506.66L1457.9 506.70L1459.4 506.74L1461 506.77L1462.5 506.80L1464.1 506.83L1465.6 506.85L1467.1 506.87L1468.7 506.89L1470.2 506.90L1471.7 506.92L1473.3 506.93L1474.8 506.94L1476.4 506.95L1477.9 506.96L1479.4 506.96L1481 506.97L1482.5 506.97L1484.1 506.98L1485.6 506.98L1487.1 506.98L1488.7 506.99L1490.2 506.99L1491.7 506.99L1493.3 506.99L1494.8 506.99L1496.4 506.99L1497.9 506.99L1499.4 507.00L1501 507.00L1502.5 507.00L1504.1 507.00L1505.6 507.00L1507.1 507.00L1508.7 507.00L1510.2 507.00L1511.7 507.00L1513.3 507.00L1514.8 507.00L1516.4 507.00L1517.9 507.00L1519.4 507.00L1521 507.00L1522.5 507.00L1524.1 507.00L1525.6 507.00L1527.1 507.00L1528.7 507.00L1530.2 507.00L1531.8 507.00L1533.3 507.00L1534.8 507.00L1536.4 507.00L1537.9 507.00L1539.4 507.00L1541 507.00L1542.5 507.00L1544.1 507.00L1545.6 507.00L1547.1 507.00L1548.7 507.00L1550.2 507.00L1551.8 507.00L1553.3 507.00L1554.8 507.00L1556.4 507.00L1557.9 507.00L1559.4 507.00L1561 507.00L1562.5 507.00L1564.1 507.00L1565.6 507.00L1567.1 507.00L1568.7 507.00L1570.2 507.00L1571.8 507.00L1573.3 507.00L1574.8 507.00L1576.4 507.00L1577.9 507.00L1579.4 507.00L1581 507.00L1582.5 507.00L1584.1 507.00L1585.6 507.00L1587.1 507.00L1588.7 507.00L1590.2 507.00L1591.8 507.00L1593.3 507.00L1594.8 507.00L1596.4 507.00L1597.9 507.00L1599.4 507.00L1601 507.00L1602.5 507.00L1604.1 507.00L1605.6 507.00L1607.1 507.00L1608.7 507.00L1610.2 507.00L1611.8 507.00L1613.3 507.00L1614.8 507.00L1616.4 507.00L1617.9 507.00L1619.4 507.00L1621 507.00L1622.5 507.00L1624.1 507.00L1625.6 507.00L1627.1 507.00L1628.7 507.00L1630.2 507.00L1631.8 507.00L1633.3 507.00L1634.8 507.00L1636.4 507.00L1637.9 507.00L1639.4 507.00L1641 507.00L1642.5 507.00L1644.1 507.00L1645.6 507.00L1647.1 507.00L1648.7 507.00L1650.2 507.00L1651.8 507.00L1653.3 507.00L1654.8 507.00L1656.4 507.00L1656.7 507.00" fill="none" stroke="#8a10f5" stroke-width="2.3" stroke-dasharray="12.4 12" stroke-linejoin="round"/>
<path d="M1068.7 507L1068.7 507.00L1070.2 507.00L1071.7 507.00L1073.3 507.00L1074.8 507.00L1076.4 507.00L1077.9 507.00L1079.4 507.00L1081 507.00L1082.5 507.00L1084 507.00L1085.6 507.00L1087.1 507.00L1088.7 507.00L1090.2 507.00L1091.7 507.00L1093.3 507.00L1094.8 507.00L1096.4 507.00L1097.9 507.00L1099.4 507.00L1101 507.00L1102.5 507.00L1104 507.00L1105.6 507.00L1107.1 507.00L1108.7 507.00L1110.2 507.00L1111.7 507.00L1113.3 507.00L1114.8 507.00L1116.4 507.00L1117.9 507.00L1119.4 507.00L1121 507.00L1122.5 507.00L1124 507.00L1125.6 507.00L1127.1 507.00L1128.7 507.00L1130.2 507.00L1131.7 507.00L1133.3 507.00L1134.8 507.00L1136.4 507.00L1137.9 507.00L1139.4 507.00L1141 507.00L1142.5 507.00L1144 507.00L1145.6 507.00L1147.1 507.00L1148.7 507.00L1150.2 507.00L1151.7 507.00L1153.3 506.99L1154.8 506.99L1156.4 506.99L1157.9 506.99L1159.4 506.99L1161 506.99L1162.5 506.99L1164 506.99L1165.6 506.99L1167.1 506.98L1168.7 506.98L1170.2 506.98L1171.7 506.98L1173.3 506.98L1174.8 506.97L1176.4 506.97L1177.9 506.97L1179.4 506.96L1181 506.96L1182.5 506.96L1184 506.95L1185.6 506.95L1187.1 506.94L1188.7 506.94L1190.2 506.93L1191.7 506.92L1193.3 506.91L1194.8 506.90L1196.4 506.89L1197.9 506.88L1199.4 506.87L1201 506.86L1202.5 506.85L1204 506.83L1205.6 506.82L1207.1 506.80L1208.7 506.78L1210.2 506.76L1211.7 506.74L1213.3 506.71L1214.8 506.69L1216.4 506.66L1217.9 506.63L1219.4 506.59L1221 506.56L1222.5 506.52L1224.1 506.48L1225.6 506.43L1227.1 506.38L1228.7 506.33L1230.2 506.27L1231.7 506.21L1233.3 506.15L1234.8 506.08L1236.4 506.01L1237.9 505.93L1239.4 505.84L1241 505.75L1242.5 505.66L1244.1 505.55L1245.6 505.44L1247.1 505.33L1248.7 505.20L1250.2 505.07L1251.7 504.93L1253.3 504.78L1254.8 504.62L1256.4 504.45L1257.9 504.27L1259.4 504.09L1261 503.89L1262.5 503.68L1264.1 503.46L1265.6 503.22L1267.1 502.98L1268.7 502.72L1270.2 502.44L1271.7 502.16L1273.3 501.86L1274.8 501.54L1276.4 501.21L1277.9 500.86L1279.4 500.50L1281 500.12L1282.5 499.73L1284.1 499.31L1285.6 498.88L1287.1 498.43L1288.7 497.97L1290.2 497.48L1291.7 496.98L1293.3 496.45L1294.8 495.91L1296.4 495.35L1297.9 494.76L1299.4 494.16L1301 493.54L1302.5 492.89L1304.1 492.23L1305.6 491.54L1307.1 490.84L1308.7 490.12L1310.2 489.37L1311.7 488.61L1313.3 487.83L1314.8 487.02L1316.4 486.20L1317.9 485.37L1319.4 484.51L1321 483.64L1322.5 482.75L1324.1 481.84L1325.6 480.92L1327.1 479.98L1328.7 479.03L1330.2 478.07L1331.7 477.10L1333.3 476.11L1334.8 475.12L1336.4 474.12L1337.9 473.11L1339.4 472.09L1341 471.07L1342.5 470.05L1344.1 469.02L1345.6 468.00L1347.1 466.97L1348.7 465.95L1350.2 464.93L1351.7 463.92L1353.3 462.91L1354.8 461.91L1356.4 460.92L1357.9 459.95L1359.4 458.99L1361 458.04L1362.5 457.11L1364.1 456.20L1365.6 455.31L1367.1 454.44L1368.7 453.60L1370.2 452.78L1371.7 451.99L1373.3 451.22L1374.8 450.49L1376.4 449.78L1377.9 449.11L1379.4 448.48L1381 447.87L1382.5 447.31L1384.1 446.78L1385.6 446.29L1387.1 445.84L1388.7 445.44L1390.2 445.07L1391.7 444.75L1393.3 444.47L1394.8 444.23L1396.4 444.03L1397.9 443.89L1399.4 443.78L1401 443.72L1402.5 443.71L1404.1 443.74L1405.6 443.82L1407.1 443.94L1408.7 444.11L1410.2 444.32L1411.7 444.57L1413.3 444.87L1414.8 445.21L1416.4 445.60L1417.9 446.02L1419.4 446.48L1421 446.99L1422.5 447.53L1424.1 448.11L1425.6 448.73L1427.1 449.38L1428.7 450.06L1430.2 450.78L1431.7 451.52L1433.3 452.30L1434.8 453.10L1436.4 453.93L1437.9 454.79L1439.4 455.66L1441 456.56L1442.5 457.48L1444.1 458.42L1445.6 459.37L1447.1 460.34L1448.7 461.32L1450.2 462.31L1451.7 463.31L1453.3 464.32L1454.8 465.34L1456.4 466.36L1457.9 467.38L1459.4 468.41L1461 469.43L1462.5 470.46L1464.1 471.48L1465.6 472.50L1467.1 473.51L1468.7 474.52L1470.2 475.52L1471.7 476.51L1473.3 477.49L1474.8 478.46L1476.4 479.41L1477.9 480.36L1479.4 481.29L1481 482.20L1482.5 483.10L1484.1 483.99L1485.6 484.85L1487.1 485.70L1488.7 486.53L1490.2 487.35L1491.7 488.14L1493.3 488.92L1494.8 489.67L1496.4 490.41L1497.9 491.12L1499.4 491.82L1501 492.50L1502.5 493.15L1504.1 493.79L1505.6 494.40L1507.1 495.00L1508.7 495.57L1510.2 496.13L1511.7 496.66L1513.3 497.18L1514.8 497.68L1516.4 498.16L1517.9 498.62L1519.4 499.06L1521 499.48L1522.5 499.89L1524.1 500.28L1525.6 500.65L1527.1 501.01L1528.7 501.35L1530.2 501.67L1531.8 501.98L1533.3 502.27L1534.8 502.56L1536.4 502.82L1537.9 503.08L1539.4 503.32L1541 503.55L1542.5 503.76L1544.1 503.97L1545.6 504.16L1547.1 504.35L1548.7 504.52L1550.2 504.68L1551.8 504.84L1553.3 504.98L1554.8 505.12L1556.4 505.25L1557.9 505.37L1559.4 505.49L1561 505.59L1562.5 505.69L1564.1 505.79L1565.6 505.88L1567.1 505.96L1568.7 506.04L1570.2 506.11L1571.8 506.18L1573.3 506.24L1574.8 506.30L1576.4 506.35L1577.9 506.40L1579.4 506.45L1581 506.49L1582.5 506.53L1584.1 506.57L1585.6 506.61L1587.1 506.64L1588.7 506.67L1590.2 506.70L1591.8 506.72L1593.3 506.74L1594.8 506.77L1596.4 506.79L1597.9 506.81L1599.4 506.82L1601 506.84L1602.5 506.85L1604.1 506.87L1605.6 506.88L1607.1 506.89L1608.7 506.90L1610.2 506.91L1611.8 506.92L1613.3 506.92L1614.8 506.93L1616.4 506.94L1617.9 506.94L1619.4 506.95L1621 506.95L1622.5 506.96L1624.1 506.96L1625.6 506.97L1627.1 506.97L1628.7 506.97L1630.2 506.98L1631.8 506.98L1633.3 506.98L1634.8 506.98L1636.4 506.98L1637.9 506.99L1639.4 506.99L1641 506.99L1642.5 506.99L1644.1 506.99L1645.6 506.99L1647.1 506.99L1648.7 506.99L1650.2 506.99L1651.8 506.99L1653.3 507.00L1654.8 507.00L1656.4 507.00L1656.7 507.00L1656.7 507Z" fill="rgb(251,173,221)" fill-opacity="0.5" stroke="none"/>
<path d="M1068.7 507.00L1070.2 507.00L1071.7 507.00L1073.3 507.00L1074.8 507.00L1076.4 507.00L1077.9 507.00L1079.4 507.00L1081 507.00L1082.5 507.00L1084 507.00L1085.6 507.00L1087.1 507.00L1088.7 507.00L1090.2 507.00L1091.7 507.00L1093.3 507.00L1094.8 507.00L1096.4 507.00L1097.9 507.00L1099.4 507.00L1101 507.00L1102.5 507.00L1104 507.00L1105.6 507.00L1107.1 507.00L1108.7 507.00L1110.2 507.00L1111.7 507.00L1113.3 507.00L1114.8 507.00L1116.4 507.00L1117.9 507.00L1119.4 507.00L1121 507.00L1122.5 507.00L1124 507.00L1125.6 507.00L1127.1 507.00L1128.7 507.00L1130.2 507.00L1131.7 507.00L1133.3 507.00L1134.8 507.00L1136.4 507.00L1137.9 507.00L1139.4 507.00L1141 507.00L1142.5 507.00L1144 507.00L1145.6 507.00L1147.1 507.00L1148.7 507.00L1150.2 507.00L1151.7 507.00L1153.3 506.99L1154.8 506.99L1156.4 506.99L1157.9 506.99L1159.4 506.99L1161 506.99L1162.5 506.99L1164 506.99L1165.6 506.99L1167.1 506.98L1168.7 506.98L1170.2 506.98L1171.7 506.98L1173.3 506.98L1174.8 506.97L1176.4 506.97L1177.9 506.97L1179.4 506.96L1181 506.96L1182.5 506.96L1184 506.95L1185.6 506.95L1187.1 506.94L1188.7 506.94L1190.2 506.93L1191.7 506.92L1193.3 506.91L1194.8 506.90L1196.4 506.89L1197.9 506.88L1199.4 506.87L1201 506.86L1202.5 506.85L1204 506.83L1205.6 506.82L1207.1 506.80L1208.7 506.78L1210.2 506.76L1211.7 506.74L1213.3 506.71L1214.8 506.69L1216.4 506.66L1217.9 506.63L1219.4 506.59L1221 506.56L1222.5 506.52L1224.1 506.48L1225.6 506.43L1227.1 506.38L1228.7 506.33L1230.2 506.27L1231.7 506.21L1233.3 506.15L1234.8 506.08L1236.4 506.01L1237.9 505.93L1239.4 505.84L1241 505.75L1242.5 505.66L1244.1 505.55L1245.6 505.44L1247.1 505.33L1248.7 505.20L1250.2 505.07L1251.7 504.93L1253.3 504.78L1254.8 504.62L1256.4 504.45L1257.9 504.27L1259.4 504.09L1261 503.89L1262.5 503.68L1264.1 503.46L1265.6 503.22L1267.1 502.98L1268.7 502.72L1270.2 502.44L1271.7 502.16L1273.3 501.86L1274.8 501.54L1276.4 501.21L1277.9 500.86L1279.4 500.50L1281 500.12L1282.5 499.73L1284.1 499.31L1285.6 498.88L1287.1 498.43L1288.7 497.97L1290.2 497.48L1291.7 496.98L1293.3 496.45L1294.8 495.91L1296.4 495.35L1297.9 494.76L1299.4 494.16L1301 493.54L1302.5 492.89L1304.1 492.23L1305.6 491.54L1307.1 490.84L1308.7 490.12L1310.2 489.37L1311.7 488.61L1313.3 487.83L1314.8 487.02L1316.4 486.20L1317.9 485.37L1319.4 484.51L1321 483.64L1322.5 482.75L1324.1 481.84L1325.6 480.92L1327.1 479.98L1328.7 479.03L1330.2 478.07L1331.7 477.10L1333.3 476.11L1334.8 475.12L1336.4 474.12L1337.9 473.11L1339.4 472.09L1341 471.07L1342.5 470.05L1344.1 469.02L1345.6 468.00L1347.1 466.97L1348.7 465.95L1350.2 464.93L1351.7 463.92L1353.3 462.91L1354.8 461.91L1356.4 460.92L1357.9 459.95L1359.4 458.99L1361 458.04L1362.5 457.11L1364.1 456.20L1365.6 455.31L1367.1 454.44L1368.7 453.60L1370.2 452.78L1371.7 451.99L1373.3 451.22L1374.8 450.49L1376.4 449.78L1377.9 449.11L1379.4 448.48L1381 447.87L1382.5 447.31L1384.1 446.78L1385.6 446.29L1387.1 445.84L1388.7 445.44L1390.2 445.07L1391.7 444.75L1393.3 444.47L1394.8 444.23L1396.4 444.03L1397.9 443.89L1399.4 443.78L1401 443.72L1402.5 443.71L1404.1 443.74L1405.6 443.82L1407.1 443.94L1408.7 444.11L1410.2 444.32L1411.7 444.57L1413.3 444.87L1414.8 445.21L1416.4 445.60L1417.9 446.02L1419.4 446.48L1421 446.99L1422.5 447.53L1424.1 448.11L1425.6 448.73L1427.1 449.38L1428.7 450.06L1430.2 450.78L1431.7 451.52L1433.3 452.30L1434.8 453.10L1436.4 453.93L1437.9 454.79L1439.4 455.66L1441 456.56L1442.5 457.48L1444.1 458.42L1445.6 459.37L1447.1 460.34L1448.7 461.32L1450.2 462.31L1451.7 463.31L1453.3 464.32L1454.8 465.34L1456.4 466.36L1457.9 467.38L1459.4 468.41L1461 469.43L1462.5 470.46L1464.1 471.48L1465.6 472.50L1467.1 473.51L1468.7 474.52L1470.2 475.52L1471.7 476.51L1473.3 477.49L1474.8 478.46L1476.4 479.41L1477.9 480.36L1479.4 481.29L1481 482.20L1482.5 483.10L1484.1 483.99L1485.6 484.85L1487.1 485.70L1488.7 486.53L1490.2 487.35L1491.7 488.14L1493.3 488.92L1494.8 489.67L1496.4 490.41L1497.9 491.12L1499.4 491.82L1501 492.50L1502.5 493.15L1504.1 493.79L1505.6 494.40L1507.1 495.00L1508.7 495.57L1510.2 496.13L1511.7 496.66L1513.3 497.18L1514.8 497.68L1516.4 498.16L1517.9 498.62L1519.4 499.06L1521 499.48L1522.5 499.89L1524.1 500.28L1525.6 500.65L1527.1 501.01L1528.7 501.35L1530.2 501.67L1531.8 501.98L1533.3 502.27L1534.8 502.56L1536.4 502.82L1537.9 503.08L1539.4 503.32L1541 503.55L1542.5 503.76L1544.1 503.97L1545.6 504.16L1547.1 504.35L1548.7 504.52L1550.2 504.68L1551.8 504.84L1553.3 504.98L1554.8 505.12L1556.4 505.25L1557.9 505.37L1559.4 505.49L1561 505.59L1562.5 505.69L1564.1 505.79L1565.6 505.88L1567.1 505.96L1568.7 506.04L1570.2 506.11L1571.8 506.18L1573.3 506.24L1574.8 506.30L1576.4 506.35L1577.9 506.40L1579.4 506.45L1581 506.49L1582.5 506.53L1584.1 506.57L1585.6 506.61L1587.1 506.64L1588.7 506.67L1590.2 506.70L1591.8 506.72L1593.3 506.74L1594.8 506.77L1596.4 506.79L1597.9 506.81L1599.4 506.82L1601 506.84L1602.5 506.85L1604.1 506.87L1605.6 506.88L1607.1 506.89L1608.7 506.90L1610.2 506.91L1611.8 506.92L1613.3 506.92L1614.8 506.93L1616.4 506.94L1617.9 506.94L1619.4 506.95L1621 506.95L1622.5 506.96L1624.1 506.96L1625.6 506.97L1627.1 506.97L1628.7 506.97L1630.2 506.98L1631.8 506.98L1633.3 506.98L1634.8 506.98L1636.4 506.98L1637.9 506.99L1639.4 506.99L1641 506.99L1642.5 506.99L1644.1 506.99L1645.6 506.99L1647.1 506.99L1648.7 506.99L1650.2 506.99L1651.8 506.99L1653.3 507.00L1654.8 507.00L1656.4 507.00L1656.7 507.00" fill="none" stroke="#8a10f5" stroke-width="2.3" stroke-dasharray="12.4 12" stroke-linejoin="round"/>
<path d="M1068.7 507L1068.7 507.00L1070.2 507.00L1071.7 507.00L1073.3 507.00L1074.8 507.00L1076.4 507.00L1077.9 507.00L1079.4 507.00L1081 507.00L1082.5 507.00L1084 507.00L1085.6 507.00L1087.1 507.00L1088.7 507.00L1090.2 507.00L1091.7 507.00L1093.3 507.00L1094.8 507.00L1096.4 507.00L1097.9 507.00L1099.4 507.00L1101 507.00L1102.5 507.00L1104 507.00L1105.6 507.00L1107.1 507.00L1108.7 507.00L1110.2 507.00L1111.7 507.00L1113.3 507.00L1114.8 507.00L1116.4 507.00L1117.9 507.00L1119.4 507.00L1121 507.00L1122.5 507.00L1124 507.00L1125.6 507.00L1127.1 507.00L1128.7 507.00L1130.2 507.00L1131.7 507.00L1133.3 507.00L1134.8 507.00L1136.4 507.00L1137.9 507.00L1139.4 507.00L1141 507.00L1142.5 507.00L1144 507.00L1145.6 507.00L1147.1 507.00L1148.7 507.00L1150.2 507.00L1151.7 507.00L1153.3 507.00L1154.8 507.00L1156.4 507.00L1157.9 507.00L1159.4 507.00L1161 507.00L1162.5 507.00L1164 507.00L1165.6 507.00L1167.1 507.00L1168.7 507.00L1170.2 507.00L1171.7 507.00L1173.3 507.00L1174.8 507.00L1176.4 507.00L1177.9 507.00L1179.4 507.00L1181 507.00L1182.5 507.00L1184 507.00L1185.6 507.00L1187.1 507.00L1188.7 507.00L1190.2 507.00L1191.7 507.00L1193.3 507.00L1194.8 507.00L1196.4 507.00L1197.9 507.00L1199.4 507.00L1201 507.00L1202.5 507.00L1204 507.00L1205.6 507.00L1207.1 507.00L1208.7 507.00L1210.2 507.00L1211.7 507.00L1213.3 507.00L1214.8 507.00L1216.4 507.00L1217.9 507.00L1219.4 507.00L1221 507.00L1222.5 507.00L1224.1 507.00L1225.6 507.00L1227.1 507.00L1228.7 507.00L1230.2 507.00L1231.7 507.00L1233.3 507.00L1234.8 507.00L1236.4 507.00L1237.9 507.00L1239.4 507.00L1241 507.00L1242.5 507.00L1244.1 507.00L1245.6 507.00L1247.1 507.00L1248.7 507.00L1250.2 507.00L1251.7 507.00L1253.3 507.00L1254.8 507.00L1256.4 506.99L1257.9 506.99L1259.4 506.99L1261 506.99L1262.5 506.99L1264.1 506.99L1265.6 506.98L1267.1 506.98L1268.7 506.98L1270.2 506.97L1271.7 506.97L1273.3 506.96L1274.8 506.95L1276.4 506.94L1277.9 506.93L1279.4 506.92L1281 506.91L1282.5 506.89L1284.1 506.88L1285.6 506.86L1287.1 506.83L1288.7 506.80L1290.2 506.77L1291.7 506.74L1293.3 506.70L1294.8 506.65L1296.4 506.59L1297.9 506.53L1299.4 506.46L1301 506.38L1302.5 506.29L1304.1 506.19L1305.6 506.07L1307.1 505.94L1308.7 505.80L1310.2 505.63L1311.7 505.45L1313.3 505.24L1314.8 505.01L1316.4 504.75L1317.9 504.46L1319.4 504.14L1321 503.79L1322.5 503.39L1324.1 502.96L1325.6 502.48L1327.1 501.95L1328.7 501.36L1330.2 500.72L1331.7 500.02L1333.3 499.25L1334.8 498.41L1336.4 497.50L1337.9 496.51L1339.4 495.43L1341 494.26L1342.5 492.99L1344.1 491.63L1345.6 490.16L1347.1 488.57L1348.7 486.87L1350.2 485.05L1351.7 483.10L1353.3 481.03L1354.8 478.81L1356.4 476.46L1357.9 473.96L1359.4 471.32L1361 468.53L1362.5 465.59L1364.1 462.49L1365.6 459.24L1367.1 455.84L1368.7 452.28L1370.2 448.57L1371.7 444.70L1373.3 440.69L1374.8 436.53L1376.4 432.24L1377.9 427.80L1379.4 423.25L1381 418.57L1382.5 413.78L1384.1 408.89L1385.6 403.91L1387.1 398.85L1388.7 393.72L1390.2 388.55L1391.7 383.34L1393.3 378.10L1394.8 372.86L1396.4 367.64L1397.9 362.44L1399.4 357.29L1401 352.21L1402.5 347.21L1404.1 342.32L1405.6 337.55L1407.1 332.92L1408.7 328.46L1410.2 324.18L1411.7 320.09L1413.3 316.22L1414.8 312.59L1416.4 309.20L1417.9 306.09L1419.4 303.25L1421 300.70L1422.5 298.46L1424.1 296.53L1425.6 294.93L1427.1 293.66L1428.7 292.73L1430.2 292.14L1431.7 291.90L1433.3 292.00L1434.8 292.45L1436.4 293.25L1437.9 294.38L1439.4 295.85L1441 297.65L1442.5 299.77L1444.1 302.19L1445.6 304.92L1447.1 307.92L1448.7 311.20L1450.2 314.74L1451.7 318.52L1453.3 322.52L1454.8 326.72L1456.4 331.12L1457.9 335.68L1459.4 340.40L1461 345.24L1462.5 350.20L1464.1 355.25L1465.6 360.37L1467.1 365.55L1468.7 370.77L1470.2 376.01L1471.7 381.24L1473.3 386.47L1474.8 391.66L1476.4 396.81L1477.9 401.89L1479.4 406.91L1481 411.83L1482.5 416.66L1484.1 421.39L1485.6 426.00L1487.1 430.48L1488.7 434.83L1490.2 439.04L1491.7 443.11L1493.3 447.04L1494.8 450.81L1496.4 454.43L1497.9 457.90L1499.4 461.21L1501 464.37L1502.5 467.37L1504.1 470.22L1505.6 472.93L1507.1 475.48L1508.7 477.89L1510.2 480.16L1511.7 482.29L1513.3 484.29L1514.8 486.16L1516.4 487.91L1517.9 489.54L1519.4 491.05L1521 492.46L1522.5 493.76L1524.1 494.97L1525.6 496.09L1527.1 497.11L1528.7 498.06L1530.2 498.93L1531.8 499.72L1533.3 500.45L1534.8 501.11L1536.4 501.72L1537.9 502.27L1539.4 502.77L1541 503.22L1542.5 503.63L1544.1 504.00L1545.6 504.34L1547.1 504.64L1548.7 504.91L1550.2 505.15L1551.8 505.37L1553.3 505.56L1554.8 505.73L1556.4 505.89L1557.9 506.02L1559.4 506.15L1561 506.25L1562.5 506.35L1564.1 506.43L1565.6 506.51L1567.1 506.57L1568.7 506.63L1570.2 506.68L1571.8 506.72L1573.3 506.76L1574.8 506.79L1576.4 506.82L1577.9 506.85L1579.4 506.87L1581 506.89L1582.5 506.90L1584.1 506.92L1585.6 506.93L1587.1 506.94L1588.7 506.95L1590.2 506.96L1591.8 506.96L1593.3 506.97L1594.8 506.97L1596.4 506.98L1597.9 506.98L1599.4 506.98L1601 506.99L1602.5 506.99L1604.1 506.99L1605.6 506.99L1607.1 506.99L1608.7 506.99L1610.2 507.00L1611.8 507.00L1613.3 507.00L1614.8 507.00L1616.4 507.00L1617.9 507.00L1619.4 507.00L1621 507.00L1622.5 507.00L1624.1 507.00L1625.6 507.00L1627.1 507.00L1628.7 507.00L1630.2 507.00L1631.8 507.00L1633.3 507.00L1634.8 507.00L1636.4 507.00L1637.9 507.00L1639.4 507.00L1641 507.00L1642.5 507.00L1644.1 507.00L1645.6 507.00L1647.1 507.00L1648.7 507.00L1650.2 507.00L1651.8 507.00L1653.3 507.00L1654.8 507.00L1656.4 507.00L1656.7 507.00L1656.7 507Z" fill="rgb(249,245,201)" fill-opacity="0.5" stroke="none"/>
<path d="M1068.7 507.00L1070.2 507.00L1071.7 507.00L1073.3 507.00L1074.8 507.00L1076.4 507.00L1077.9 507.00L1079.4 507.00L1081 507.00L1082.5 507.00L1084 507.00L1085.6 507.00L1087.1 507.00L1088.7 507.00L1090.2 507.00L1091.7 507.00L1093.3 507.00L1094.8 507.00L1096.4 507.00L1097.9 507.00L1099.4 507.00L1101 507.00L1102.5 507.00L1104 507.00L1105.6 507.00L1107.1 507.00L1108.7 507.00L1110.2 507.00L1111.7 507.00L1113.3 507.00L1114.8 507.00L1116.4 507.00L1117.9 507.00L1119.4 507.00L1121 507.00L1122.5 507.00L1124 507.00L1125.6 507.00L1127.1 507.00L1128.7 507.00L1130.2 507.00L1131.7 507.00L1133.3 507.00L1134.8 507.00L1136.4 507.00L1137.9 507.00L1139.4 507.00L1141 507.00L1142.5 507.00L1144 507.00L1145.6 507.00L1147.1 507.00L1148.7 507.00L1150.2 507.00L1151.7 507.00L1153.3 507.00L1154.8 507.00L1156.4 507.00L1157.9 507.00L1159.4 507.00L1161 507.00L1162.5 507.00L1164 507.00L1165.6 507.00L1167.1 507.00L1168.7 507.00L1170.2 507.00L1171.7 507.00L1173.3 507.00L1174.8 507.00L1176.4 507.00L1177.9 507.00L1179.4 507.00L1181 507.00L1182.5 507.00L1184 507.00L1185.6 507.00L1187.1 507.00L1188.7 507.00L1190.2 507.00L1191.7 507.00L1193.3 507.00L1194.8 507.00L1196.4 507.00L1197.9 507.00L1199.4 507.00L1201 507.00L1202.5 507.00L1204 507.00L1205.6 507.00L1207.1 507.00L1208.7 507.00L1210.2 507.00L1211.7 507.00L1213.3 507.00L1214.8 507.00L1216.4 507.00L1217.9 507.00L1219.4 507.00L1221 507.00L1222.5 507.00L1224.1 507.00L1225.6 507.00L1227.1 507.00L1228.7 507.00L1230.2 507.00L1231.7 507.00L1233.3 507.00L1234.8 507.00L1236.4 507.00L1237.9 507.00L1239.4 507.00L1241 507.00L1242.5 507.00L1244.1 507.00L1245.6 507.00L1247.1 507.00L1248.7 507.00L1250.2 507.00L1251.7 507.00L1253.3 507.00L1254.8 507.00L1256.4 506.99L1257.9 506.99L1259.4 506.99L1261 506.99L1262.5 506.99L1264.1 506.99L1265.6 506.98L1267.1 506.98L1268.7 506.98L1270.2 506.97L1271.7 506.97L1273.3 506.96L1274.8 506.95L1276.4 506.94L1277.9 506.93L1279.4 506.92L1281 506.91L1282.5 506.89L1284.1 506.88L1285.6 506.86L1287.1 506.83L1288.7 506.80L1290.2 506.77L1291.7 506.74L1293.3 506.70L1294.8 506.65L1296.4 506.59L1297.9 506.53L1299.4 506.46L1301 506.38L1302.5 506.29L1304.1 506.19L1305.6 506.07L1307.1 505.94L1308.7 505.80L1310.2 505.63L1311.7 505.45L1313.3 505.24L1314.8 505.01L1316.4 504.75L1317.9 504.46L1319.4 504.14L1321 503.79L1322.5 503.39L1324.1 502.96L1325.6 502.48L1327.1 501.95L1328.7 501.36L1330.2 500.72L1331.7 500.02L1333.3 499.25L1334.8 498.41L1336.4 497.50L1337.9 496.51L1339.4 495.43L1341 494.26L1342.5 492.99L1344.1 491.63L1345.6 490.16L1347.1 488.57L1348.7 486.87L1350.2 485.05L1351.7 483.10L1353.3 481.03L1354.8 478.81L1356.4 476.46L1357.9 473.96L1359.4 471.32L1361 468.53L1362.5 465.59L1364.1 462.49L1365.6 459.24L1367.1 455.84L1368.7 452.28L1370.2 448.57L1371.7 444.70L1373.3 440.69L1374.8 436.53L1376.4 432.24L1377.9 427.80L1379.4 423.25L1381 418.57L1382.5 413.78L1384.1 408.89L1385.6 403.91L1387.1 398.85L1388.7 393.72L1390.2 388.55L1391.7 383.34L1393.3 378.10L1394.8 372.86L1396.4 367.64L1397.9 362.44L1399.4 357.29L1401 352.21L1402.5 347.21L1404.1 342.32L1405.6 337.55L1407.1 332.92L1408.7 328.46L1410.2 324.18L1411.7 320.09L1413.3 316.22L1414.8 312.59L1416.4 309.20L1417.9 306.09L1419.4 303.25L1421 300.70L1422.5 298.46L1424.1 296.53L1425.6 294.93L1427.1 293.66L1428.7 292.73L1430.2 292.14L1431.7 291.90L1433.3 292.00L1434.8 292.45L1436.4 293.25L1437.9 294.38L1439.4 295.85L1441 297.65L1442.5 299.77L1444.1 302.19L1445.6 304.92L1447.1 307.92L1448.7 311.20L1450.2 314.74L1451.7 318.52L1453.3 322.52L1454.8 326.72L1456.4 331.12L1457.9 335.68L1459.4 340.40L1461 345.24L1462.5 350.20L1464.1 355.25L1465.6 360.37L1467.1 365.55L1468.7 370.77L1470.2 376.01L1471.7 381.24L1473.3 386.47L1474.8 391.66L1476.4 396.81L1477.9 401.89L1479.4 406.91L1481 411.83L1482.5 416.66L1484.1 421.39L1485.6 426.00L1487.1 430.48L1488.7 434.83L1490.2 439.04L1491.7 443.11L1493.3 447.04L1494.8 450.81L1496.4 454.43L1497.9 457.90L1499.4 461.21L1501 464.37L1502.5 467.37L1504.1 470.22L1505.6 472.93L1507.1 475.48L1508.7 477.89L1510.2 480.16L1511.7 482.29L1513.3 484.29L1514.8 486.16L1516.4 487.91L1517.9 489.54L1519.4 491.05L1521 492.46L1522.5 493.76L1524.1 494.97L1525.6 496.09L1527.1 497.11L1528.7 498.06L1530.2 498.93L1531.8 499.72L1533.3 500.45L1534.8 501.11L1536.4 501.72L1537.9 502.27L1539.4 502.77L1541 503.22L1542.5 503.63L1544.1 504.00L1545.6 504.34L1547.1 504.64L1548.7 504.91L1550.2 505.15L1551.8 505.37L1553.3 505.56L1554.8 505.73L1556.4 505.89L1557.9 506.02L1559.4 506.15L1561 506.25L1562.5 506.35L1564.1 506.43L1565.6 506.51L1567.1 506.57L1568.7 506.63L1570.2 506.68L1571.8 506.72L1573.3 506.76L1574.8 506.79L1576.4 506.82L1577.9 506.85L1579.4 506.87L1581 506.89L1582.5 506.90L1584.1 506.92L1585.6 506.93L1587.1 506.94L1588.7 506.95L1590.2 506.96L1591.8 506.96L1593.3 506.97L1594.8 506.97L1596.4 506.98L1597.9 506.98L1599.4 506.98L1601 506.99L1602.5 506.99L1604.1 506.99L1605.6 506.99L1607.1 506.99L1608.7 506.99L1610.2 507.00L1611.8 507.00L1613.3 507.00L1614.8 507.00L1616.4 507.00L1617.9 507.00L1619.4 507.00L1621 507.00L1622.5 507.00L1624.1 507.00L1625.6 507.00L1627.1 507.00L1628.7 507.00L1630.2 507.00L1631.8 507.00L1633.3 507.00L1634.8 507.00L1636.4 507.00L1637.9 507.00L1639.4 507.00L1641 507.00L1642.5 507.00L1644.1 507.00L1645.6 507.00L1647.1 507.00L1648.7 507.00L1650.2 507.00L1651.8 507.00L1653.3 507.00L1654.8 507.00L1656.4 507.00L1656.7 507.00" fill="none" stroke="#1cb5bd" stroke-width="2.3" stroke-dasharray="12.4 12" stroke-linejoin="round"/>
<path d="M1068.7 507L1068.7 507.00L1070.2 507.00L1071.7 507.00L1073.3 507.00L1074.8 507.00L1076.4 507.00L1077.9 507.00L1079.4 507.00L1081 507.00L1082.5 507.00L1084 507.00L1085.6 507.00L1087.1 507.00L1088.7 507.00L1090.2 507.00L1091.7 507.00L1093.3 507.00L1094.8 507.00L1096.4 507.00L1097.9 507.00L1099.4 507.00L1101 507.00L1102.5 507.00L1104 507.00L1105.6 507.00L1107.1 507.00L1108.7 507.00L1110.2 507.00L1111.7 507.00L1113.3 507.00L1114.8 507.00L1116.4 507.00L1117.9 507.00L1119.4 507.00L1121 507.00L1122.5 507.00L1124 507.00L1125.6 507.00L1127.1 507.00L1128.7 507.00L1130.2 507.00L1131.7 507.00L1133.3 507.00L1134.8 507.00L1136.4 507.00L1137.9 507.00L1139.4 507.00L1141 507.00L1142.5 507.00L1144 507.00L1145.6 507.00L1147.1 507.00L1148.7 507.00L1150.2 507.00L1151.7 507.00L1153.3 507.00L1154.8 507.00L1156.4 507.00L1157.9 507.00L1159.4 507.00L1161 507.00L1162.5 507.00L1164 507.00L1165.6 507.00L1167.1 507.00L1168.7 507.00L1170.2 507.00L1171.7 507.00L1173.3 507.00L1174.8 507.00L1176.4 507.00L1177.9 507.00L1179.4 507.00L1181 507.00L1182.5 507.00L1184 507.00L1185.6 507.00L1187.1 507.00L1188.7 507.00L1190.2 507.00L1191.7 507.00L1193.3 507.00L1194.8 507.00L1196.4 507.00L1197.9 507.00L1199.4 507.00L1201 507.00L1202.5 507.00L1204 507.00L1205.6 507.00L1207.1 507.00L1208.7 507.00L1210.2 507.00L1211.7 507.00L1213.3 507.00L1214.8 507.00L1216.4 507.00L1217.9 507.00L1219.4 507.00L1221 507.00L1222.5 507.00L1224.1 507.00L1225.6 507.00L1227.1 507.00L1228.7 507.00L1230.2 507.00L1231.7 507.00L1233.3 507.00L1234.8 507.00L1236.4 507.00L1237.9 507.00L1239.4 507.00L1241 507.00L1242.5 507.00L1244.1 507.00L1245.6 507.00L1247.1 507.00L1248.7 507.00L1250.2 507.00L1251.7 507.00L1253.3 507.00L1254.8 507.00L1256.4 507.00L1257.9 507.00L1259.4 507.00L1261 507.00L1262.5 507.00L1264.1 507.00L1265.6 507.00L1267.1 507.00L1268.7 507.00L1270.2 507.00L1271.7 507.00L1273.3 507.00L1274.8 507.00L1276.4 507.00L1277.9 507.00L1279.4 507.00L1281 507.00L1282.5 507.00L1284.1 507.00L1285.6 507.00L1287.1 507.00L1288.7 507.00L1290.2 507.00L1291.7 507.00L1293.3 507.00L1294.8 507.00L1296.4 507.00L1297.9 506.99L1299.4 506.99L1301 506.99L1302.5 506.99L1304.1 506.99L1305.6 506.99L1307.1 506.99L1308.7 506.99L1310.2 506.98L1311.7 506.98L1313.3 506.98L1314.8 506.98L1316.4 506.97L1317.9 506.97L1319.4 506.97L1321 506.96L1322.5 506.96L1324.1 506.95L1325.6 506.95L1327.1 506.94L1328.7 506.94L1330.2 506.93L1331.7 506.92L1333.3 506.91L1334.8 506.90L1336.4 506.89L1337.9 506.87L1339.4 506.86L1341 506.84L1342.5 506.82L1344.1 506.81L1345.6 506.78L1347.1 506.76L1348.7 506.73L1350.2 506.71L1351.7 506.67L1353.3 506.64L1354.8 506.60L1356.4 506.56L1357.9 506.52L1359.4 506.47L1361 506.41L1362.5 506.35L1364.1 506.29L1365.6 506.22L1367.1 506.14L1368.7 506.06L1370.2 505.97L1371.7 505.88L1373.3 505.77L1374.8 505.66L1376.4 505.54L1377.9 505.41L1379.4 505.27L1381 505.11L1382.5 504.95L1384.1 504.77L1385.6 504.58L1387.1 504.38L1388.7 504.16L1390.2 503.93L1391.7 503.68L1393.3 503.41L1394.8 503.13L1396.4 502.82L1397.9 502.50L1399.4 502.16L1401 501.79L1402.5 501.40L1404.1 500.99L1405.6 500.56L1407.1 500.10L1408.7 499.61L1410.2 499.09L1411.7 498.55L1413.3 497.98L1414.8 497.38L1416.4 496.74L1417.9 496.08L1419.4 495.38L1421 494.65L1422.5 493.88L1424.1 493.08L1425.6 492.25L1427.1 491.37L1428.7 490.47L1430.2 489.52L1431.7 488.53L1433.3 487.51L1434.8 486.45L1436.4 485.35L1437.9 484.22L1439.4 483.04L1441 481.83L1442.5 480.58L1444.1 479.29L1445.6 477.96L1447.1 476.60L1448.7 475.21L1450.2 473.78L1451.7 472.31L1453.3 470.82L1454.8 469.29L1456.4 467.74L1457.9 466.15L1459.4 464.54L1461 462.91L1462.5 461.26L1464.1 459.58L1465.6 457.89L1467.1 456.18L1468.7 454.46L1470.2 452.74L1471.7 451.00L1473.3 449.26L1474.8 447.53L1476.4 445.79L1477.9 444.06L1479.4 442.34L1481 440.63L1482.5 438.94L1484.1 437.26L1485.6 435.61L1487.1 433.99L1488.7 432.39L1490.2 430.83L1491.7 429.31L1493.3 427.82L1494.8 426.38L1496.4 424.99L1497.9 423.65L1499.4 422.36L1501 421.13L1502.5 419.96L1504.1 418.85L1505.6 417.81L1507.1 416.84L1508.7 415.94L1510.2 415.11L1511.7 414.36L1513.3 413.68L1514.8 413.09L1516.4 412.57L1517.9 412.14L1519.4 411.79L1521 411.53L1522.5 411.35L1524.1 411.25L1525.6 411.24L1527.1 411.32L1528.7 411.48L1530.2 411.73L1531.8 412.06L1533.3 412.48L1534.8 412.98L1536.4 413.56L1537.9 414.22L1539.4 414.95L1541 415.77L1542.5 416.65L1544.1 417.61L1545.6 418.64L1547.1 419.74L1548.7 420.89L1550.2 422.11L1551.8 423.39L1553.3 424.72L1554.8 426.10L1556.4 427.53L1557.9 429.01L1559.4 430.52L1561 432.08L1562.5 433.66L1564.1 435.28L1565.6 436.93L1567.1 438.60L1568.7 440.29L1570.2 441.99L1571.8 443.71L1573.3 445.44L1574.8 447.18L1576.4 448.92L1577.9 450.65L1579.4 452.39L1581 454.12L1582.5 455.84L1584.1 457.55L1585.6 459.24L1587.1 460.92L1588.7 462.58L1590.2 464.22L1591.8 465.83L1593.3 467.42L1594.8 468.98L1596.4 470.51L1597.9 472.02L1599.4 473.49L1601 474.92L1602.5 476.33L1604.1 477.70L1605.6 479.03L1607.1 480.32L1608.7 481.58L1610.2 482.80L1611.8 483.98L1613.3 485.13L1614.8 486.24L1616.4 487.30L1617.9 488.33L1619.4 489.32L1621 490.28L1622.5 491.20L1624.1 492.08L1625.6 492.92L1627.1 493.73L1628.7 494.50L1630.2 495.24L1631.8 495.94L1633.3 496.61L1634.8 497.25L1636.4 497.86L1637.9 498.44L1639.4 498.99L1641 499.51L1642.5 500.00L1644.1 500.47L1645.6 500.91L1647.1 501.32L1648.7 501.72L1650.2 502.09L1651.8 502.43L1653.3 502.76L1654.8 503.07L1656.4 503.36L1656.7 503.41L1656.7 507Z" fill="rgb(183,191,249)" fill-opacity="0.5" stroke="none"/>
<path d="M1068.7 507.00L1070.2 507.00L1071.7 507.00L1073.3 507.00L1074.8 507.00L1076.4 507.00L1077.9 507.00L1079.4 507.00L1081 507.00L1082.5 507.00L1084 507.00L1085.6 507.00L1087.1 507.00L1088.7 507.00L1090.2 507.00L1091.7 507.00L1093.3 507.00L1094.8 507.00L1096.4 507.00L1097.9 507.00L1099.4 507.00L1101 507.00L1102.5 507.00L1104 507.00L1105.6 507.00L1107.1 507.00L1108.7 507.00L1110.2 507.00L1111.7 507.00L1113.3 507.00L1114.8 507.00L1116.4 507.00L1117.9 507.00L1119.4 507.00L1121 507.00L1122.5 507.00L1124 507.00L1125.6 507.00L1127.1 507.00L1128.7 507.00L1130.2 507.00L1131.7 507.00L1133.3 507.00L1134.8 507.00L1136.4 507.00L1137.9 507.00L1139.4 507.00L1141 507.00L1142.5 507.00L1144 507.00L1145.6 507.00L1147.1 507.00L1148.7 507.00L1150.2 507.00L1151.7 507.00L1153.3 507.00L1154.8 507.00L1156.4 507.00L1157.9 507.00L1159.4 507.00L1161 507.00L1162.5 507.00L1164 507.00L1165.6 507.00L1167.1 507.00L1168.7 507.00L1170.2 507.00L1171.7 507.00L1173.3 507.00L1174.8 507.00L1176.4 507.00L1177.9 507.00L1179.4 507.00L1181 507.00L1182.5 507.00L1184 507.00L1185.6 507.00L1187.1 507.00L1188.7 507.00L1190.2 507.00L1191.7 507.00L1193.3 507.00L1194.8 507.00L1196.4 507.00L1197.9 507.00L1199.4 507.00L1201 507.00L1202.5 507.00L1204 507.00L1205.6 507.00L1207.1 507.00L1208.7 507.00L1210.2 507.00L1211.7 507.00L1213.3 507.00L1214.8 507.00L1216.4 507.00L1217.9 507.00L1219.4 507.00L1221 507.00L1222.5 507.00L1224.1 507.00L1225.6 507.00L1227.1 507.00L1228.7 507.00L1230.2 507.00L1231.7 507.00L1233.3 507.00L1234.8 507.00L1236.4 507.00L1237.9 507.00L1239.4 507.00L1241 507.00L1242.5 507.00L1244.1 507.00L1245.6 507.00L1247.1 507.00L1248.7 507.00L1250.2 507.00L1251.7 507.00L1253.3 507.00L1254.8 507.00L1256.4 507.00L1257.9 507.00L1259.4 507.00L1261 507.00L1262.5 507.00L1264.1 507.00L1265.6 507.00L1267.1 507.00L1268.7 507.00L1270.2 507.00L1271.7 507.00L1273.3 507.00L1274.8 507.00L1276.4 507.00L1277.9 507.00L1279.4 507.00L1281 507.00L1282.5 507.00L1284.1 507.00L1285.6 507.00L1287.1 507.00L1288.7 507.00L1290.2 507.00L1291.7 507.00L1293.3 507.00L1294.8 507.00L1296.4 507.00L1297.9 506.99L1299.4 506.99L1301 506.99L1302.5 506.99L1304.1 506.99L1305.6 506.99L1307.1 506.99L1308.7 506.99L1310.2 506.98L1311.7 506.98L1313.3 506.98L1314.8 506.98L1316.4 506.97L1317.9 506.97L1319.4 506.97L1321 506.96L1322.5 506.96L1324.1 506.95L1325.6 506.95L1327.1 506.94L1328.7 506.94L1330.2 506.93L1331.7 506.92L1333.3 506.91L1334.8 506.90L1336.4 506.89L1337.9 506.87L1339.4 506.86L1341 506.84L1342.5 506.82L1344.1 506.81L1345.6 506.78L1347.1 506.76L1348.7 506.73L1350.2 506.71L1351.7 506.67L1353.3 506.64L1354.8 506.60L1356.4 506.56L1357.9 506.52L1359.4 506.47L1361 506.41L1362.5 506.35L1364.1 506.29L1365.6 506.22L1367.1 506.14L1368.7 506.06L1370.2 505.97L1371.7 505.88L1373.3 505.77L1374.8 505.66L1376.4 505.54L1377.9 505.41L1379.4 505.27L1381 505.11L1382.5 504.95L1384.1 504.77L1385.6 504.58L1387.1 504.38L1388.7 504.16L1390.2 503.93L1391.7 503.68L1393.3 503.41L1394.8 503.13L1396.4 502.82L1397.9 502.50L1399.4 502.16L1401 501.79L1402.5 501.40L1404.1 500.99L1405.6 500.56L1407.1 500.10L1408.7 499.61L1410.2 499.09L1411.7 498.55L1413.3 497.98L1414.8 497.38L1416.4 496.74L1417.9 496.08L1419.4 495.38L1421 494.65L1422.5 493.88L1424.1 493.08L1425.6 492.25L1427.1 491.37L1428.7 490.47L1430.2 489.52L1431.7 488.53L1433.3 487.51L1434.8 486.45L1436.4 485.35L1437.9 484.22L1439.4 483.04L1441 481.83L1442.5 480.58L1444.1 479.29L1445.6 477.96L1447.1 476.60L1448.7 475.21L1450.2 473.78L1451.7 472.31L1453.3 470.82L1454.8 469.29L1456.4 467.74L1457.9 466.15L1459.4 464.54L1461 462.91L1462.5 461.26L1464.1 459.58L1465.6 457.89L1467.1 456.18L1468.7 454.46L1470.2 452.74L1471.7 451.00L1473.3 449.26L1474.8 447.53L1476.4 445.79L1477.9 444.06L1479.4 442.34L1481 440.63L1482.5 438.94L1484.1 437.26L1485.6 435.61L1487.1 433.99L1488.7 432.39L1490.2 430.83L1491.7 429.31L1493.3 427.82L1494.8 426.38L1496.4 424.99L1497.9 423.65L1499.4 422.36L1501 421.13L1502.5 419.96L1504.1 418.85L1505.6 417.81L1507.1 416.84L1508.7 415.94L1510.2 415.11L1511.7 414.36L1513.3 413.68L1514.8 413.09L1516.4 412.57L1517.9 412.14L1519.4 411.79L1521 411.53L1522.5 411.35L1524.1 411.25L1525.6 411.24L1527.1 411.32L1528.7 411.48L1530.2 411.73L1531.8 412.06L1533.3 412.48L1534.8 412.98L1536.4 413.56L1537.9 414.22L1539.4 414.95L1541 415.77L1542.5 416.65L1544.1 417.61L1545.6 418.64L1547.1 419.74L1548.7 420.89L1550.2 422.11L1551.8 423.39L1553.3 424.72L1554.8 426.10L1556.4 427.53L1557.9 429.01L1559.4 430.52L1561 432.08L1562.5 433.66L1564.1 435.28L1565.6 436.93L1567.1 438.60L1568.7 440.29L1570.2 441.99L1571.8 443.71L1573.3 445.44L1574.8 447.18L1576.4 448.92L1577.9 450.65L1579.4 452.39L1581 454.12L1582.5 455.84L1584.1 457.55L1585.6 459.24L1587.1 460.92L1588.7 462.58L1590.2 464.22L1591.8 465.83L1593.3 467.42L1594.8 468.98L1596.4 470.51L1597.9 472.02L1599.4 473.49L1601 474.92L1602.5 476.33L1604.1 477.70L1605.6 479.03L1607.1 480.32L1608.7 481.58L1610.2 482.80L1611.8 483.98L1613.3 485.13L1614.8 486.24L1616.4 487.30L1617.9 488.33L1619.4 489.32L1621 490.28L1622.5 491.20L1624.1 492.08L1625.6 492.92L1627.1 493.73L1628.7 494.50L1630.2 495.24L1631.8 495.94L1633.3 496.61L1634.8 497.25L1636.4 497.86L1637.9 498.44L1639.4 498.99L1641 499.51L1642.5 500.00L1644.1 500.47L1645.6 500.91L1647.1 501.32L1648.7 501.72L1650.2 502.09L1651.8 502.43L1653.3 502.76L1654.8 503.07L1656.4 503.36L1656.7 503.41" fill="none" stroke="#1840ee" stroke-width="2.3" stroke-dasharray="12.4 12" stroke-linejoin="round"/>
<path d="M1068.7 507L1068.7 507.00L1070.2 507.00L1071.7 507.00L1073.3 507.00L1074.8 507.00L1076.4 507.00L1077.9 507.00L1079.4 507.00L1081 507.00L1082.5 507.00L1084 507.00L1085.6 507.00L1087.1 507.00L1088.7 507.00L1090.2 507.00L1091.7 507.00L1093.3 507.00L1094.8 507.00L1096.4 507.00L1097.9 507.00L1099.4 507.00L1101 507.00L1102.5 507.00L1104 507.00L1105.6 507.00L1107.1 507.00L1108.7 507.00L1110.2 507.00L1111.7 507.00L1113.3 507.00L1114.8 507.00L1116.4 507.00L1117.9 507.00L1119.4 507.00L1121 507.00L1122.5 507.00L1124 507.00L1125.6 507.00L1127.1 507.00L1128.7 507.00L1130.2 507.00L1131.7 507.00L1133.3 507.00L1134.8 507.00L1136.4 507.00L1137.9 507.00L1139.4 507.00L1141 507.00L1142.5 507.00L1144 507.00L1145.6 507.00L1147.1 507.00L1148.7 507.00L1150.2 507.00L1151.7 507.00L1153.3 507.00L1154.8 507.00L1156.4 507.00L1157.9 507.00L1159.4 507.00L1161 507.00L1162.5 507.00L1164 507.00L1165.6 507.00L1167.1 507.00L1168.7 507.00L1170.2 507.00L1171.7 507.00L1173.3 507.00L1174.8 507.00L1176.4 507.00L1177.9 507.00L1179.4 507.00L1181 507.00L1182.5 507.00L1184 507.00L1185.6 507.00L1187.1 507.00L1188.7 507.00L1190.2 507.00L1191.7 507.00L1193.3 507.00L1194.8 507.00L1196.4 507.00L1197.9 507.00L1199.4 507.00L1201 507.00L1202.5 507.00L1204 507.00L1205.6 507.00L1207.1 507.00L1208.7 507.00L1210.2 507.00L1211.7 507.00L1213.3 507.00L1214.8 507.00L1216.4 507.00L1217.9 507.00L1219.4 507.00L1221 507.00L1222.5 507.00L1224.1 507.00L1225.6 507.00L1227.1 507.00L1228.7 507.00L1230.2 507.00L1231.7 507.00L1233.3 507.00L1234.8 507.00L1236.4 507.00L1237.9 507.00L1239.4 507.00L1241 507.00L1242.5 507.00L1244.1 507.00L1245.6 507.00L1247.1 507.00L1248.7 507.00L1250.2 507.00L1251.7 507.00L1253.3 507.00L1254.8 507.00L1256.4 507.00L1257.9 507.00L1259.4 507.00L1261 507.00L1262.5 507.00L1264.1 507.00L1265.6 507.00L1267.1 507.00L1268.7 507.00L1270.2 507.00L1271.7 507.00L1273.3 507.00L1274.8 507.00L1276.4 507.00L1277.9 507.00L1279.4 507.00L1281 507.00L1282.5 507.00L1284.1 507.00L1285.6 507.00L1287.1 507.00L1288.7 507.00L1290.2 507.00L1291.7 507.00L1293.3 507.00L1294.8 507.00L1296.4 507.00L1297.9 507.00L1299.4 507.00L1301 507.00L1302.5 507.00L1304.1 507.00L1305.6 507.00L1307.1 507.00L1308.7 507.00L1310.2 507.00L1311.7 507.00L1313.3 507.00L1314.8 507.00L1316.4 507.00L1317.9 507.00L1319.4 507.00L1321 507.00L1322.5 507.00L1324.1 507.00L1325.6 507.00L1327.1 507.00L1328.7 507.00L1330.2 507.00L1331.7 506.99L1333.3 506.99L1334.8 506.99L1336.4 506.99L1337.9 506.99L1339.4 506.99L1341 506.99L1342.5 506.99L1344.1 506.99L1345.6 506.98L1347.1 506.98L1348.7 506.98L1350.2 506.98L1351.7 506.97L1353.3 506.97L1354.8 506.97L1356.4 506.96L1357.9 506.96L1359.4 506.95L1361 506.95L1362.5 506.94L1364.1 506.94L1365.6 506.93L1367.1 506.92L1368.7 506.91L1370.2 506.90L1371.7 506.89L1373.3 506.88L1374.8 506.86L1376.4 506.85L1377.9 506.83L1379.4 506.82L1381 506.80L1382.5 506.78L1384.1 506.75L1385.6 506.73L1387.1 506.70L1388.7 506.67L1390.2 506.63L1391.7 506.60L1393.3 506.56L1394.8 506.52L1396.4 506.47L1397.9 506.42L1399.4 506.36L1401 506.30L1402.5 506.24L1404.1 506.17L1405.6 506.09L1407.1 506.01L1408.7 505.92L1410.2 505.82L1411.7 505.72L1413.3 505.61L1414.8 505.49L1416.4 505.36L1417.9 505.22L1419.4 505.07L1421 504.92L1422.5 504.75L1424.1 504.57L1425.6 504.37L1427.1 504.16L1428.7 503.94L1430.2 503.71L1431.7 503.46L1433.3 503.19L1434.8 502.91L1436.4 502.61L1437.9 502.29L1439.4 501.96L1441 501.60L1442.5 501.22L1444.1 500.82L1445.6 500.41L1447.1 499.96L1448.7 499.50L1450.2 499.01L1451.7 498.49L1453.3 497.95L1454.8 497.39L1456.4 496.79L1457.9 496.17L1459.4 495.52L1461 494.85L1462.5 494.14L1464.1 493.40L1465.6 492.63L1467.1 491.84L1468.7 491.01L1470.2 490.15L1471.7 489.26L1473.3 488.33L1474.8 487.38L1476.4 486.39L1477.9 485.38L1479.4 484.33L1481 483.25L1482.5 482.14L1484.1 481.00L1485.6 479.83L1487.1 478.63L1488.7 477.40L1490.2 476.14L1491.7 474.86L1493.3 473.56L1494.8 472.23L1496.4 470.87L1497.9 469.50L1499.4 468.10L1501 466.69L1502.5 465.26L1504.1 463.82L1505.6 462.36L1507.1 460.90L1508.7 459.42L1510.2 457.94L1511.7 456.46L1513.3 454.97L1514.8 453.49L1516.4 452.00L1517.9 450.53L1519.4 449.06L1521 447.61L1522.5 446.16L1524.1 444.74L1525.6 443.34L1527.1 441.95L1528.7 440.60L1530.2 439.27L1531.8 437.97L1533.3 436.71L1534.8 435.49L1536.4 434.30L1537.9 433.15L1539.4 432.05L1541 431.00L1542.5 430.00L1544.1 429.05L1545.6 428.15L1547.1 427.31L1548.7 426.53L1550.2 425.80L1551.8 425.14L1553.3 424.55L1554.8 424.01L1556.4 423.55L1557.9 423.15L1559.4 422.82L1561 422.56L1562.5 422.37L1564.1 422.25L1565.6 422.20L1567.1 422.22L1568.7 422.31L1570.2 422.48L1571.8 422.71L1573.3 423.01L1574.8 423.38L1576.4 423.82L1577.9 424.33L1579.4 424.90L1581 425.53L1582.5 426.23L1584.1 426.99L1585.6 427.81L1587.1 428.68L1588.7 429.61L1590.2 430.59L1591.8 431.63L1593.3 432.71L1594.8 433.84L1596.4 435.01L1597.9 436.22L1599.4 437.47L1601 438.75L1602.5 440.06L1604.1 441.41L1605.6 442.78L1607.1 444.18L1608.7 445.59L1610.2 447.03L1611.8 448.48L1613.3 449.94L1614.8 451.41L1616.4 452.89L1617.9 454.38L1619.4 455.86L1621 457.35L1622.5 458.83L1624.1 460.31L1625.6 461.78L1627.1 463.24L1628.7 464.69L1630.2 466.12L1631.8 467.54L1633.3 468.94L1634.8 470.33L1636.4 471.69L1637.9 473.03L1639.4 474.34L1641 475.63L1642.5 476.90L1644.1 478.14L1645.6 479.35L1647.1 480.53L1648.7 481.68L1650.2 482.81L1651.8 483.90L1653.3 484.96L1654.8 485.99L1656.4 486.99L1656.7 487.18L1656.7 507Z" fill="rgb(183,191,249)" fill-opacity="0.5" stroke="none"/>
<path d="M1068.7 507.00L1070.2 507.00L1071.7 507.00L1073.3 507.00L1074.8 507.00L1076.4 507.00L1077.9 507.00L1079.4 507.00L1081 507.00L1082.5 507.00L1084 507.00L1085.6 507.00L1087.1 507.00L1088.7 507.00L1090.2 507.00L1091.7 507.00L1093.3 507.00L1094.8 507.00L1096.4 507.00L1097.9 507.00L1099.4 507.00L1101 507.00L1102.5 507.00L1104 507.00L1105.6 507.00L1107.1 507.00L1108.7 507.00L1110.2 507.00L1111.7 507.00L1113.3 507.00L1114.8 507.00L1116.4 507.00L1117.9 507.00L1119.4 507.00L1121 507.00L1122.5 507.00L1124 507.00L1125.6 507.00L1127.1 507.00L1128.7 507.00L1130.2 507.00L1131.7 507.00L1133.3 507.00L1134.8 507.00L1136.4 507.00L1137.9 507.00L1139.4 507.00L1141 507.00L1142.5 507.00L1144 507.00L1145.6 507.00L1147.1 507.00L1148.7 507.00L1150.2 507.00L1151.7 507.00L1153.3 507.00L1154.8 507.00L1156.4 507.00L1157.9 507.00L1159.4 507.00L1161 507.00L1162.5 507.00L1164 507.00L1165.6 507.00L1167.1 507.00L1168.7 507.00L1170.2 507.00L1171.7 507.00L1173.3 507.00L1174.8 507.00L1176.4 507.00L1177.9 507.00L1179.4 507.00L1181 507.00L1182.5 507.00L1184 507.00L1185.6 507.00L1187.1 507.00L1188.7 507.00L1190.2 507.00L1191.7 507.00L1193.3 507.00L1194.8 507.00L1196.4 507.00L1197.9 507.00L1199.4 507.00L1201 507.00L1202.5 507.00L1204 507.00L1205.6 507.00L1207.1 507.00L1208.7 507.00L1210.2 507.00L1211.7 507.00L1213.3 507.00L1214.8 507.00L1216.4 507.00L1217.9 507.00L1219.4 507.00L1221 507.00L1222.5 507.00L1224.1 507.00L1225.6 507.00L1227.1 507.00L1228.7 507.00L1230.2 507.00L1231.7 507.00L1233.3 507.00L1234.8 507.00L1236.4 507.00L1237.9 507.00L1239.4 507.00L1241 507.00L1242.5 507.00L1244.1 507.00L1245.6 507.00L1247.1 507.00L1248.7 507.00L1250.2 507.00L1251.7 507.00L1253.3 507.00L1254.8 507.00L1256.4 507.00L1257.9 507.00L1259.4 507.00L1261 507.00L1262.5 507.00L1264.1 507.00L1265.6 507.00L1267.1 507.00L1268.7 507.00L1270.2 507.00L1271.7 507.00L1273.3 507.00L1274.8 507.00L1276.4 507.00L1277.9 507.00L1279.4 507.00L1281 507.00L1282.5 507.00L1284.1 507.00L1285.6 507.00L1287.1 507.00L1288.7 507.00L1290.2 507.00L1291.7 507.00L1293.3 507.00L1294.8 507.00L1296.4 507.00L1297.9 507.00L1299.4 507.00L1301 507.00L1302.5 507.00L1304.1 507.00L1305.6 507.00L1307.1 507.00L1308.7 507.00L1310.2 507.00L1311.7 507.00L1313.3 507.00L1314.8 507.00L1316.4 507.00L1317.9 507.00L1319.4 507.00L1321 507.00L1322.5 507.00L1324.1 507.00L1325.6 507.00L1327.1 507.00L1328.7 507.00L1330.2 507.00L1331.7 506.99L1333.3 506.99L1334.8 506.99L1336.4 506.99L1337.9 506.99L1339.4 506.99L1341 506.99L1342.5 506.99L1344.1 506.99L1345.6 506.98L1347.1 506.98L1348.7 506.98L1350.2 506.98L1351.7 506.97L1353.3 506.97L1354.8 506.97L1356.4 506.96L1357.9 506.96L1359.4 506.95L1361 506.95L1362.5 506.94L1364.1 506.94L1365.6 506.93L1367.1 506.92L1368.7 506.91L1370.2 506.90L1371.7 506.89L1373.3 506.88L1374.8 506.86L1376.4 506.85L1377.9 506.83L1379.4 506.82L1381 506.80L1382.5 506.78L1384.1 506.75L1385.6 506.73L1387.1 506.70L1388.7 506.67L1390.2 506.63L1391.7 506.60L1393.3 506.56L1394.8 506.52L1396.4 506.47L1397.9 506.42L1399.4 506.36L1401 506.30L1402.5 506.24L1404.1 506.17L1405.6 506.09L1407.1 506.01L1408.7 505.92L1410.2 505.82L1411.7 505.72L1413.3 505.61L1414.8 505.49L1416.4 505.36L1417.9 505.22L1419.4 505.07L1421 504.92L1422.5 504.75L1424.1 504.57L1425.6 504.37L1427.1 504.16L1428.7 503.94L1430.2 503.71L1431.7 503.46L1433.3 503.19L1434.8 502.91L1436.4 502.61L1437.9 502.29L1439.4 501.96L1441 501.60L1442.5 501.22L1444.1 500.82L1445.6 500.41L1447.1 499.96L1448.7 499.50L1450.2 499.01L1451.7 498.49L1453.3 497.95L1454.8 497.39L1456.4 496.79L1457.9 496.17L1459.4 495.52L1461 494.85L1462.5 494.14L1464.1 493.40L1465.6 492.63L1467.1 491.84L1468.7 491.01L1470.2 490.15L1471.7 489.26L1473.3 488.33L1474.8 487.38L1476.4 486.39L1477.9 485.38L1479.4 484.33L1481 483.25L1482.5 482.14L1484.1 481.00L1485.6 479.83L1487.1 478.63L1488.7 477.40L1490.2 476.14L1491.7 474.86L1493.3 473.56L1494.8 472.23L1496.4 470.87L1497.9 469.50L1499.4 468.10L1501 466.69L1502.5 465.26L1504.1 463.82L1505.6 462.36L1507.1 460.90L1508.7 459.42L1510.2 457.94L1511.7 456.46L1513.3 454.97L1514.8 453.49L1516.4 452.00L1517.9 450.53L1519.4 449.06L1521 447.61L1522.5 446.16L1524.1 444.74L1525.6 443.34L1527.1 441.95L1528.7 440.60L1530.2 439.27L1531.8 437.97L1533.3 436.71L1534.8 435.49L1536.4 434.30L1537.9 433.15L1539.4 432.05L1541 431.00L1542.5 430.00L1544.1 429.05L1545.6 428.15L1547.1 427.31L1548.7 426.53L1550.2 425.80L1551.8 425.14L1553.3 424.55L1554.8 424.01L1556.4 423.55L1557.9 423.15L1559.4 422.82L1561 422.56L1562.5 422.37L1564.1 422.25L1565.6 422.20L1567.1 422.22L1568.7 422.31L1570.2 422.48L1571.8 422.71L1573.3 423.01L1574.8 423.38L1576.4 423.82L1577.9 424.33L1579.4 424.90L1581 425.53L1582.5 426.23L1584.1 426.99L1585.6 427.81L1587.1 428.68L1588.7 429.61L1590.2 430.59L1591.8 431.63L1593.3 432.71L1594.8 433.84L1596.4 435.01L1597.9 436.22L1599.4 437.47L1601 438.75L1602.5 440.06L1604.1 441.41L1605.6 442.78L1607.1 444.18L1608.7 445.59L1610.2 447.03L1611.8 448.48L1613.3 449.94L1614.8 451.41L1616.4 452.89L1617.9 454.38L1619.4 455.86L1621 457.35L1622.5 458.83L1624.1 460.31L1625.6 461.78L1627.1 463.24L1628.7 464.69L1630.2 466.12L1631.8 467.54L1633.3 468.94L1634.8 470.33L1636.4 471.69L1637.9 473.03L1639.4 474.34L1641 475.63L1642.5 476.90L1644.1 478.14L1645.6 479.35L1647.1 480.53L1648.7 481.68L1650.2 482.81L1651.8 483.90L1653.3 484.96L1654.8 485.99L1656.4 486.99L1656.7 487.18" fill="none" stroke="#1840ee" stroke-width="2.3" stroke-dasharray="12.4 12" stroke-linejoin="round"/>
<path d="M1068.7 507L1068.7 507.00L1070.2 507.00L1071.7 507.00L1073.3 507.00L1074.8 507.00L1076.4 507.00L1077.9 507.00L1079.4 507.00L1081 507.00L1082.5 507.00L1084 507.00L1085.6 507.00L1087.1 507.00L1088.7 507.00L1090.2 507.00L1091.7 507.00L1093.3 507.00L1094.8 507.00L1096.4 507.00L1097.9 507.00L1099.4 507.00L1101 507.00L1102.5 507.00L1104 507.00L1105.6 507.00L1107.1 507.00L1108.7 507.00L1110.2 507.00L1111.7 507.00L1113.3 507.00L1114.8 507.00L1116.4 507.00L1117.9 507.00L1119.4 507.00L1121 507.00L1122.5 507.00L1124 507.00L1125.6 507.00L1127.1 507.00L1128.7 507.00L1130.2 507.00L1131.7 507.00L1133.3 507.00L1134.8 507.00L1136.4 507.00L1137.9 507.00L1139.4 507.00L1141 507.00L1142.5 507.00L1144 507.00L1145.6 507.00L1147.1 507.00L1148.7 507.00L1150.2 507.00L1151.7 507.00L1153.3 507.00L1154.8 507.00L1156.4 507.00L1157.9 507.00L1159.4 507.00L1161 507.00L1162.5 507.00L1164 507.00L1165.6 507.00L1167.1 507.00L1168.7 507.00L1170.2 507.00L1171.7 507.00L1173.3 507.00L1174.8 507.00L1176.4 507.00L1177.9 507.00L1179.4 507.00L1181 507.00L1182.5 507.00L1184 507.00L1185.6 507.00L1187.1 507.00L1188.7 507.00L1190.2 507.00L1191.7 507.00L1193.3 507.00L1194.8 507.00L1196.4 507.00L1197.9 507.00L1199.4 507.00L1201 507.00L1202.5 507.00L1204 507.00L1205.6 507.00L1207.1 507.00L1208.7 507.00L1210.2 507.00L1211.7 507.00L1213.3 507.00L1214.8 507.00L1216.4 507.00L1217.9 507.00L1219.4 507.00L1221 507.00L1222.5 507.00L1224.1 507.00L1225.6 507.00L1227.1 507.00L1228.7 507.00L1230.2 507.00L1231.7 507.00L1233.3 507.00L1234.8 507.00L1236.4 507.00L1237.9 507.00L1239.4 507.00L1241 507.00L1242.5 507.00L1244.1 507.00L1245.6 507.00L1247.1 507.00L1248.7 507.00L1250.2 507.00L1251.7 507.00L1253.3 507.00L1254.8 507.00L1256.4 507.00L1257.9 507.00L1259.4 507.00L1261 507.00L1262.5 507.00L1264.1 507.00L1265.6 507.00L1267.1 507.00L1268.7 507.00L1270.2 507.00L1271.7 507.00L1273.3 507.00L1274.8 507.00L1276.4 507.00L1277.9 507.00L1279.4 507.00L1281 507.00L1282.5 507.00L1284.1 507.00L1285.6 507.00L1287.1 507.00L1288.7 507.00L1290.2 507.00L1291.7 507.00L1293.3 507.00L1294.8 507.00L1296.4 507.00L1297.9 507.00L1299.4 507.00L1301 507.00L1302.5 507.00L1304.1 507.00L1305.6 507.00L1307.1 507.00L1308.7 507.00L1310.2 507.00L1311.7 507.00L1313.3 507.00L1314.8 507.00L1316.4 507.00L1317.9 507.00L1319.4 507.00L1321 507.00L1322.5 507.00L1324.1 507.00L1325.6 507.00L1327.1 507.00L1328.7 507.00L1330.2 507.00L1331.7 507.00L1333.3 507.00L1334.8 507.00L1336.4 507.00L1337.9 507.00L1339.4 507.00L1341 507.00L1342.5 507.00L1344.1 507.00L1345.6 507.00L1347.1 507.00L1348.7 507.00L1350.2 507.00L1351.7 507.00L1353.3 507.00L1354.8 507.00L1356.4 507.00L1357.9 507.00L1359.4 507.00L1361 507.00L1362.5 507.00L1364.1 507.00L1365.6 507.00L1367.1 507.00L1368.7 507.00L1370.2 507.00L1371.7 507.00L1373.3 507.00L1374.8 507.00L1376.4 507.00L1377.9 507.00L1379.4 507.00L1381 507.00L1382.5 507.00L1384.1 507.00L1385.6 507.00L1387.1 507.00L1388.7 507.00L1390.2 507.00L1391.7 507.00L1393.3 507.00L1394.8 507.00L1396.4 507.00L1397.9 507.00L1399.4 507.00L1401 507.00L1402.5 507.00L1404.1 507.00L1405.6 507.00L1407.1 507.00L1408.7 507.00L1410.2 507.00L1411.7 507.00L1413.3 507.00L1414.8 507.00L1416.4 506.99L1417.9 506.99L1419.4 506.99L1421 506.99L1422.5 506.99L1424.1 506.99L1425.6 506.99L1427.1 506.99L1428.7 506.99L1430.2 506.99L1431.7 506.98L1433.3 506.98L1434.8 506.98L1436.4 506.98L1437.9 506.98L1439.4 506.97L1441 506.97L1442.5 506.97L1444.1 506.96L1445.6 506.96L1447.1 506.96L1448.7 506.95L1450.2 506.95L1451.7 506.94L1453.3 506.93L1454.8 506.93L1456.4 506.92L1457.9 506.91L1459.4 506.90L1461 506.89L1462.5 506.88L1464.1 506.87L1465.6 506.86L1467.1 506.84L1468.7 506.83L1470.2 506.81L1471.7 506.79L1473.3 506.77L1474.8 506.75L1476.4 506.73L1477.9 506.70L1479.4 506.67L1481 506.64L1482.5 506.61L1484.1 506.58L1485.6 506.54L1487.1 506.50L1488.7 506.45L1490.2 506.41L1491.7 506.35L1493.3 506.30L1494.8 506.24L1496.4 506.17L1497.9 506.10L1499.4 506.03L1501 505.95L1502.5 505.86L1504.1 505.77L1505.6 505.67L1507.1 505.56L1508.7 505.45L1510.2 505.32L1511.7 505.19L1513.3 505.05L1514.8 504.90L1516.4 504.74L1517.9 504.57L1519.4 504.39L1521 504.20L1522.5 503.99L1524.1 503.77L1525.6 503.54L1527.1 503.29L1528.7 503.03L1530.2 502.75L1531.8 502.46L1533.3 502.15L1534.8 501.82L1536.4 501.47L1537.9 501.10L1539.4 500.71L1541 500.30L1542.5 499.87L1544.1 499.41L1545.6 498.93L1547.1 498.43L1548.7 497.90L1550.2 497.34L1551.8 496.76L1553.3 496.14L1554.8 495.50L1556.4 494.83L1557.9 494.13L1559.4 493.39L1561 492.62L1562.5 491.82L1564.1 490.98L1565.6 490.11L1567.1 489.20L1568.7 488.26L1570.2 487.28L1571.8 486.26L1573.3 485.20L1574.8 484.10L1576.4 482.96L1577.9 481.78L1579.4 480.56L1581 479.30L1582.5 478.00L1584.1 476.65L1585.6 475.26L1587.1 473.83L1588.7 472.36L1590.2 470.85L1591.8 469.29L1593.3 467.69L1594.8 466.05L1596.4 464.37L1597.9 462.65L1599.4 460.89L1601 459.08L1602.5 457.24L1604.1 455.37L1605.6 453.45L1607.1 451.50L1608.7 449.52L1610.2 447.50L1611.8 445.45L1613.3 443.37L1614.8 441.26L1616.4 439.13L1617.9 436.97L1619.4 434.79L1621 432.59L1622.5 430.37L1624.1 428.13L1625.6 425.88L1627.1 423.62L1628.7 421.35L1630.2 419.08L1631.8 416.80L1633.3 414.52L1634.8 412.25L1636.4 409.98L1637.9 407.72L1639.4 405.47L1641 403.24L1642.5 401.03L1644.1 398.84L1645.6 396.67L1647.1 394.53L1648.7 392.43L1650.2 390.35L1651.8 388.32L1653.3 386.33L1654.8 384.38L1656.4 382.48L1656.7 382.11L1656.7 507Z" fill="rgb(183,191,249)" fill-opacity="0.5" stroke="none"/>
<path d="M1068.7 507.00L1070.2 507.00L1071.7 507.00L1073.3 507.00L1074.8 507.00L1076.4 507.00L1077.9 507.00L1079.4 507.00L1081 507.00L1082.5 507.00L1084 507.00L1085.6 507.00L1087.1 507.00L1088.7 507.00L1090.2 507.00L1091.7 507.00L1093.3 507.00L1094.8 507.00L1096.4 507.00L1097.9 507.00L1099.4 507.00L1101 507.00L1102.5 507.00L1104 507.00L1105.6 507.00L1107.1 507.00L1108.7 507.00L1110.2 507.00L1111.7 507.00L1113.3 507.00L1114.8 507.00L1116.4 507.00L1117.9 507.00L1119.4 507.00L1121 507.00L1122.5 507.00L1124 507.00L1125.6 507.00L1127.1 507.00L1128.7 507.00L1130.2 507.00L1131.7 507.00L1133.3 507.00L1134.8 507.00L1136.4 507.00L1137.9 507.00L1139.4 507.00L1141 507.00L1142.5 507.00L1144 507.00L1145.6 507.00L1147.1 507.00L1148.7 507.00L1150.2 507.00L1151.7 507.00L1153.3 507.00L1154.8 507.00L1156.4 507.00L1157.9 507.00L1159.4 507.00L1161 507.00L1162.5 507.00L1164 507.00L1165.6 507.00L1167.1 507.00L1168.7 507.00L1170.2 507.00L1171.7 507.00L1173.3 507.00L1174.8 507.00L1176.4 507.00L1177.9 507.00L1179.4 507.00L1181 507.00L1182.5 507.00L1184 507.00L1185.6 507.00L1187.1 507.00L1188.7 507.00L1190.2 507.00L1191.7 507.00L1193.3 507.00L1194.8 507.00L1196.4 507.00L1197.9 507.00L1199.4 507.00L1201 507.00L1202.5 507.00L1204 507.00L1205.6 507.00L1207.1 507.00L1208.7 507.00L1210.2 507.00L1211.7 507.00L1213.3 507.00L1214.8 507.00L1216.4 507.00L1217.9 507.00L1219.4 507.00L1221 507.00L1222.5 507.00L1224.1 507.00L1225.6 507.00L1227.1 507.00L1228.7 507.00L1230.2 507.00L1231.7 507.00L1233.3 507.00L1234.8 507.00L1236.4 507.00L1237.9 507.00L1239.4 507.00L1241 507.00L1242.5 507.00L1244.1 507.00L1245.6 507.00L1247.1 507.00L1248.7 507.00L1250.2 507.00L1251.7 507.00L1253.3 507.00L1254.8 507.00L1256.4 507.00L1257.9 507.00L1259.4 507.00L1261 507.00L1262.5 507.00L1264.1 507.00L1265.6 507.00L1267.1 507.00L1268.7 507.00L1270.2 507.00L1271.7 507.00L1273.3 507.00L1274.8 507.00L1276.4 507.00L1277.9 507.00L1279.4 507.00L1281 507.00L1282.5 507.00L1284.1 507.00L1285.6 507.00L1287.1 507.00L1288.7 507.00L1290.2 507.00L1291.7 507.00L1293.3 507.00L1294.8 507.00L1296.4 507.00L1297.9 507.00L1299.4 507.00L1301 507.00L1302.5 507.00L1304.1 507.00L1305.6 507.00L1307.1 507.00L1308.7 507.00L1310.2 507.00L1311.7 507.00L1313.3 507.00L1314.8 507.00L1316.4 507.00L1317.9 507.00L1319.4 507.00L1321 507.00L1322.5 507.00L1324.1 507.00L1325.6 507.00L1327.1 507.00L1328.7 507.00L1330.2 507.00L1331.7 507.00L1333.3 507.00L1334.8 507.00L1336.4 507.00L1337.9 507.00L1339.4 507.00L1341 507.00L1342.5 507.00L1344.1 507.00L1345.6 507.00L1347.1 507.00L1348.7 507.00L1350.2 507.00L1351.7 507.00L1353.3 507.00L1354.8 507.00L1356.4 507.00L1357.9 507.00L1359.4 507.00L1361 507.00L1362.5 507.00L1364.1 507.00L1365.6 507.00L1367.1 507.00L1368.7 507.00L1370.2 507.00L1371.7 507.00L1373.3 507.00L1374.8 507.00L1376.4 507.00L1377.9 507.00L1379.4 507.00L1381 507.00L1382.5 507.00L1384.1 507.00L1385.6 507.00L1387.1 507.00L1388.7 507.00L1390.2 507.00L1391.7 507.00L1393.3 507.00L1394.8 507.00L1396.4 507.00L1397.9 507.00L1399.4 507.00L1401 507.00L1402.5 507.00L1404.1 507.00L1405.6 507.00L1407.1 507.00L1408.7 507.00L1410.2 507.00L1411.7 507.00L1413.3 507.00L1414.8 507.00L1416.4 506.99L1417.9 506.99L1419.4 506.99L1421 506.99L1422.5 506.99L1424.1 506.99L1425.6 506.99L1427.1 506.99L1428.7 506.99L1430.2 506.99L1431.7 506.98L1433.3 506.98L1434.8 506.98L1436.4 506.98L1437.9 506.98L1439.4 506.97L1441 506.97L1442.5 506.97L1444.1 506.96L1445.6 506.96L1447.1 506.96L1448.7 506.95L1450.2 506.95L1451.7 506.94L1453.3 506.93L1454.8 506.93L1456.4 506.92L1457.9 506.91L1459.4 506.90L1461 506.89L1462.5 506.88L1464.1 506.87L1465.6 506.86L1467.1 506.84L1468.7 506.83L1470.2 506.81L1471.7 506.79L1473.3 506.77L1474.8 506.75L1476.4 506.73L1477.9 506.70L1479.4 506.67L1481 506.64L1482.5 506.61L1484.1 506.58L1485.6 506.54L1487.1 506.50L1488.7 506.45L1490.2 506.41L1491.7 506.35L1493.3 506.30L1494.8 506.24L1496.4 506.17L1497.9 506.10L1499.4 506.03L1501 505.95L1502.5 505.86L1504.1 505.77L1505.6 505.67L1507.1 505.56L1508.7 505.45L1510.2 505.32L1511.7 505.19L1513.3 505.05L1514.8 504.90L1516.4 504.74L1517.9 504.57L1519.4 504.39L1521 504.20L1522.5 503.99L1524.1 503.77L1525.6 503.54L1527.1 503.29L1528.7 503.03L1530.2 502.75L1531.8 502.46L1533.3 502.15L1534.8 501.82L1536.4 501.47L1537.9 501.10L1539.4 500.71L1541 500.30L1542.5 499.87L1544.1 499.41L1545.6 498.93L1547.1 498.43L1548.7 497.90L1550.2 497.34L1551.8 496.76L1553.3 496.14L1554.8 495.50L1556.4 494.83L1557.9 494.13L1559.4 493.39L1561 492.62L1562.5 491.82L1564.1 490.98L1565.6 490.11L1567.1 489.20L1568.7 488.26L1570.2 487.28L1571.8 486.26L1573.3 485.20L1574.8 484.10L1576.4 482.96L1577.9 481.78L1579.4 480.56L1581 479.30L1582.5 478.00L1584.1 476.65L1585.6 475.26L1587.1 473.83L1588.7 472.36L1590.2 470.85L1591.8 469.29L1593.3 467.69L1594.8 466.05L1596.4 464.37L1597.9 462.65L1599.4 460.89L1601 459.08L1602.5 457.24L1604.1 455.37L1605.6 453.45L1607.1 451.50L1608.7 449.52L1610.2 447.50L1611.8 445.45L1613.3 443.37L1614.8 441.26L1616.4 439.13L1617.9 436.97L1619.4 434.79L1621 432.59L1622.5 430.37L1624.1 428.13L1625.6 425.88L1627.1 423.62L1628.7 421.35L1630.2 419.08L1631.8 416.80L1633.3 414.52L1634.8 412.25L1636.4 409.98L1637.9 407.72L1639.4 405.47L1641 403.24L1642.5 401.03L1644.1 398.84L1645.6 396.67L1647.1 394.53L1648.7 392.43L1650.2 390.35L1651.8 388.32L1653.3 386.33L1654.8 384.38L1656.4 382.48L1656.7 382.11" fill="none" stroke="#1840ee" stroke-width="2.3" stroke-dasharray="12.4 12" stroke-linejoin="round"/>
<path d="M1074.5 40.1H1139.5" stroke="#3c3c3c" stroke-width="1.9" fill="none"/>
<path d="M1074.5 75.2H1138" stroke="#00f000" stroke-width="2" stroke-dasharray="12 13" fill="none"/>
<g font-size="27.9">
<text x="1144.9" y="47.8">Original spectrum</text>
<text x="1144.9" y="82.9">Fitting spectrum diagram</text>
<rect x="1075.5" y="94.3" width="62.5" height="31" fill="rgb(181,225,249)" fill-opacity="0.5" stroke="rgb(244,148,151)" stroke-width="2.3" stroke-dasharray="12 13"/>
<text x="1144.9" y="118.5">-CH</text><text x="1193.4" y="126.1" font-size="18.4">3</text><text x="1203.7" y="118.5" font-size="23" font-family='"Noto Serif CJK SC", "Liberation Serif", serif'>（</text><text x="1230.3" y="118.5" font-size="27.9">symmetric</text><text x="1350.3" y="118.5" font-size="23" font-family='"Noto Serif CJK SC", "Liberation Serif", serif'>）</text>
<rect x="1075.5" y="135.5" width="62.5" height="31.3" fill="rgb(251,189,189)" fill-opacity="0.5" stroke="rgb(146,204,173)" stroke-width="2.3" stroke-dasharray="12 13"/>
<text x="1144.9" y="159.6">-CH</text><text x="1193.4" y="167.2" font-size="18.4">2</text><text x="1203.7" y="159.6" font-size="23" font-family='"Noto Serif CJK SC", "Liberation Serif", serif'>（</text><text x="1230.3" y="159.6" font-size="27.9">symmetric</text><text x="1350.3" y="159.6" font-size="23" font-family='"Noto Serif CJK SC", "Liberation Serif", serif'>）</text>
<rect x="1075.5" y="176.5" width="62.5" height="31.8" fill="rgb(251,173,221)" fill-opacity="0.5" stroke="rgb(194,130,249)" stroke-width="2.3" stroke-dasharray="12 13"/>
<text x="1144.9" y="200.9">-CH</text><text x="1201.4" y="200.9" font-size="23" font-family='"Noto Serif CJK SC", "Liberation Serif", serif'>（</text><text x="1227.9" y="200.9" font-size="27.9">symmetric</text><text x="1346.9" y="200.9" font-size="23" font-family='"Noto Serif CJK SC", "Liberation Serif", serif'>）</text>
<rect x="1075.5" y="212" width="62.5" height="31.3" fill="rgb(249,245,201)" fill-opacity="0.5" stroke="rgb(136,216,220)" stroke-width="2.3" stroke-dasharray="12 13"/>
<text x="1144.9" y="235.2">-CH</text><text x="1193.4" y="242.8" font-size="18.4">2</text><text x="1203.4" y="235.2" font-size="23" font-family='"Noto Serif CJK SC", "Liberation Serif", serif'>（</text><text x="1230.2" y="235.2" font-size="27.9">asymmetric</text><text x="1362.2" y="235.2" font-size="23" font-family='"Noto Serif CJK SC", "Liberation Serif", serif'>）</text>
<rect x="1075.5" y="252.8" width="62.5" height="31.2" fill="rgb(183,191,249)" fill-opacity="0.5" stroke="rgb(134,155,246)" stroke-width="2.3" stroke-dasharray="12 13"/>
<text x="1144.9" y="276.8">-CH</text><text x="1193.4" y="284.4" font-size="18.4">3</text><text x="1203.4" y="276.8" font-size="23" font-family='"Noto Serif CJK SC", "Liberation Serif", serif'>（</text><text x="1230.2" y="276.8" font-size="27.9">asymmetric</text><text x="1362.2" y="276.8" font-size="23" font-family='"Noto Serif CJK SC", "Liberation Serif", serif'>）</text>
</g>
<g font-size="44.2">
<text x="930.6" y="648.5" font-size="38" font-family='"Noto Serif CJK SC", "Liberation Serif", serif'>（</text>
<text x="974.5" y="650.5">b</text>
<text x="999.9" y="648.5" font-size="38" font-family='"Noto Serif CJK SC", "Liberation Serif", serif'>）</text>
<text x="1040" y="650.5">After-modified experimental coal sample</text>
</g></g>
</svg>
</body>
</html>
